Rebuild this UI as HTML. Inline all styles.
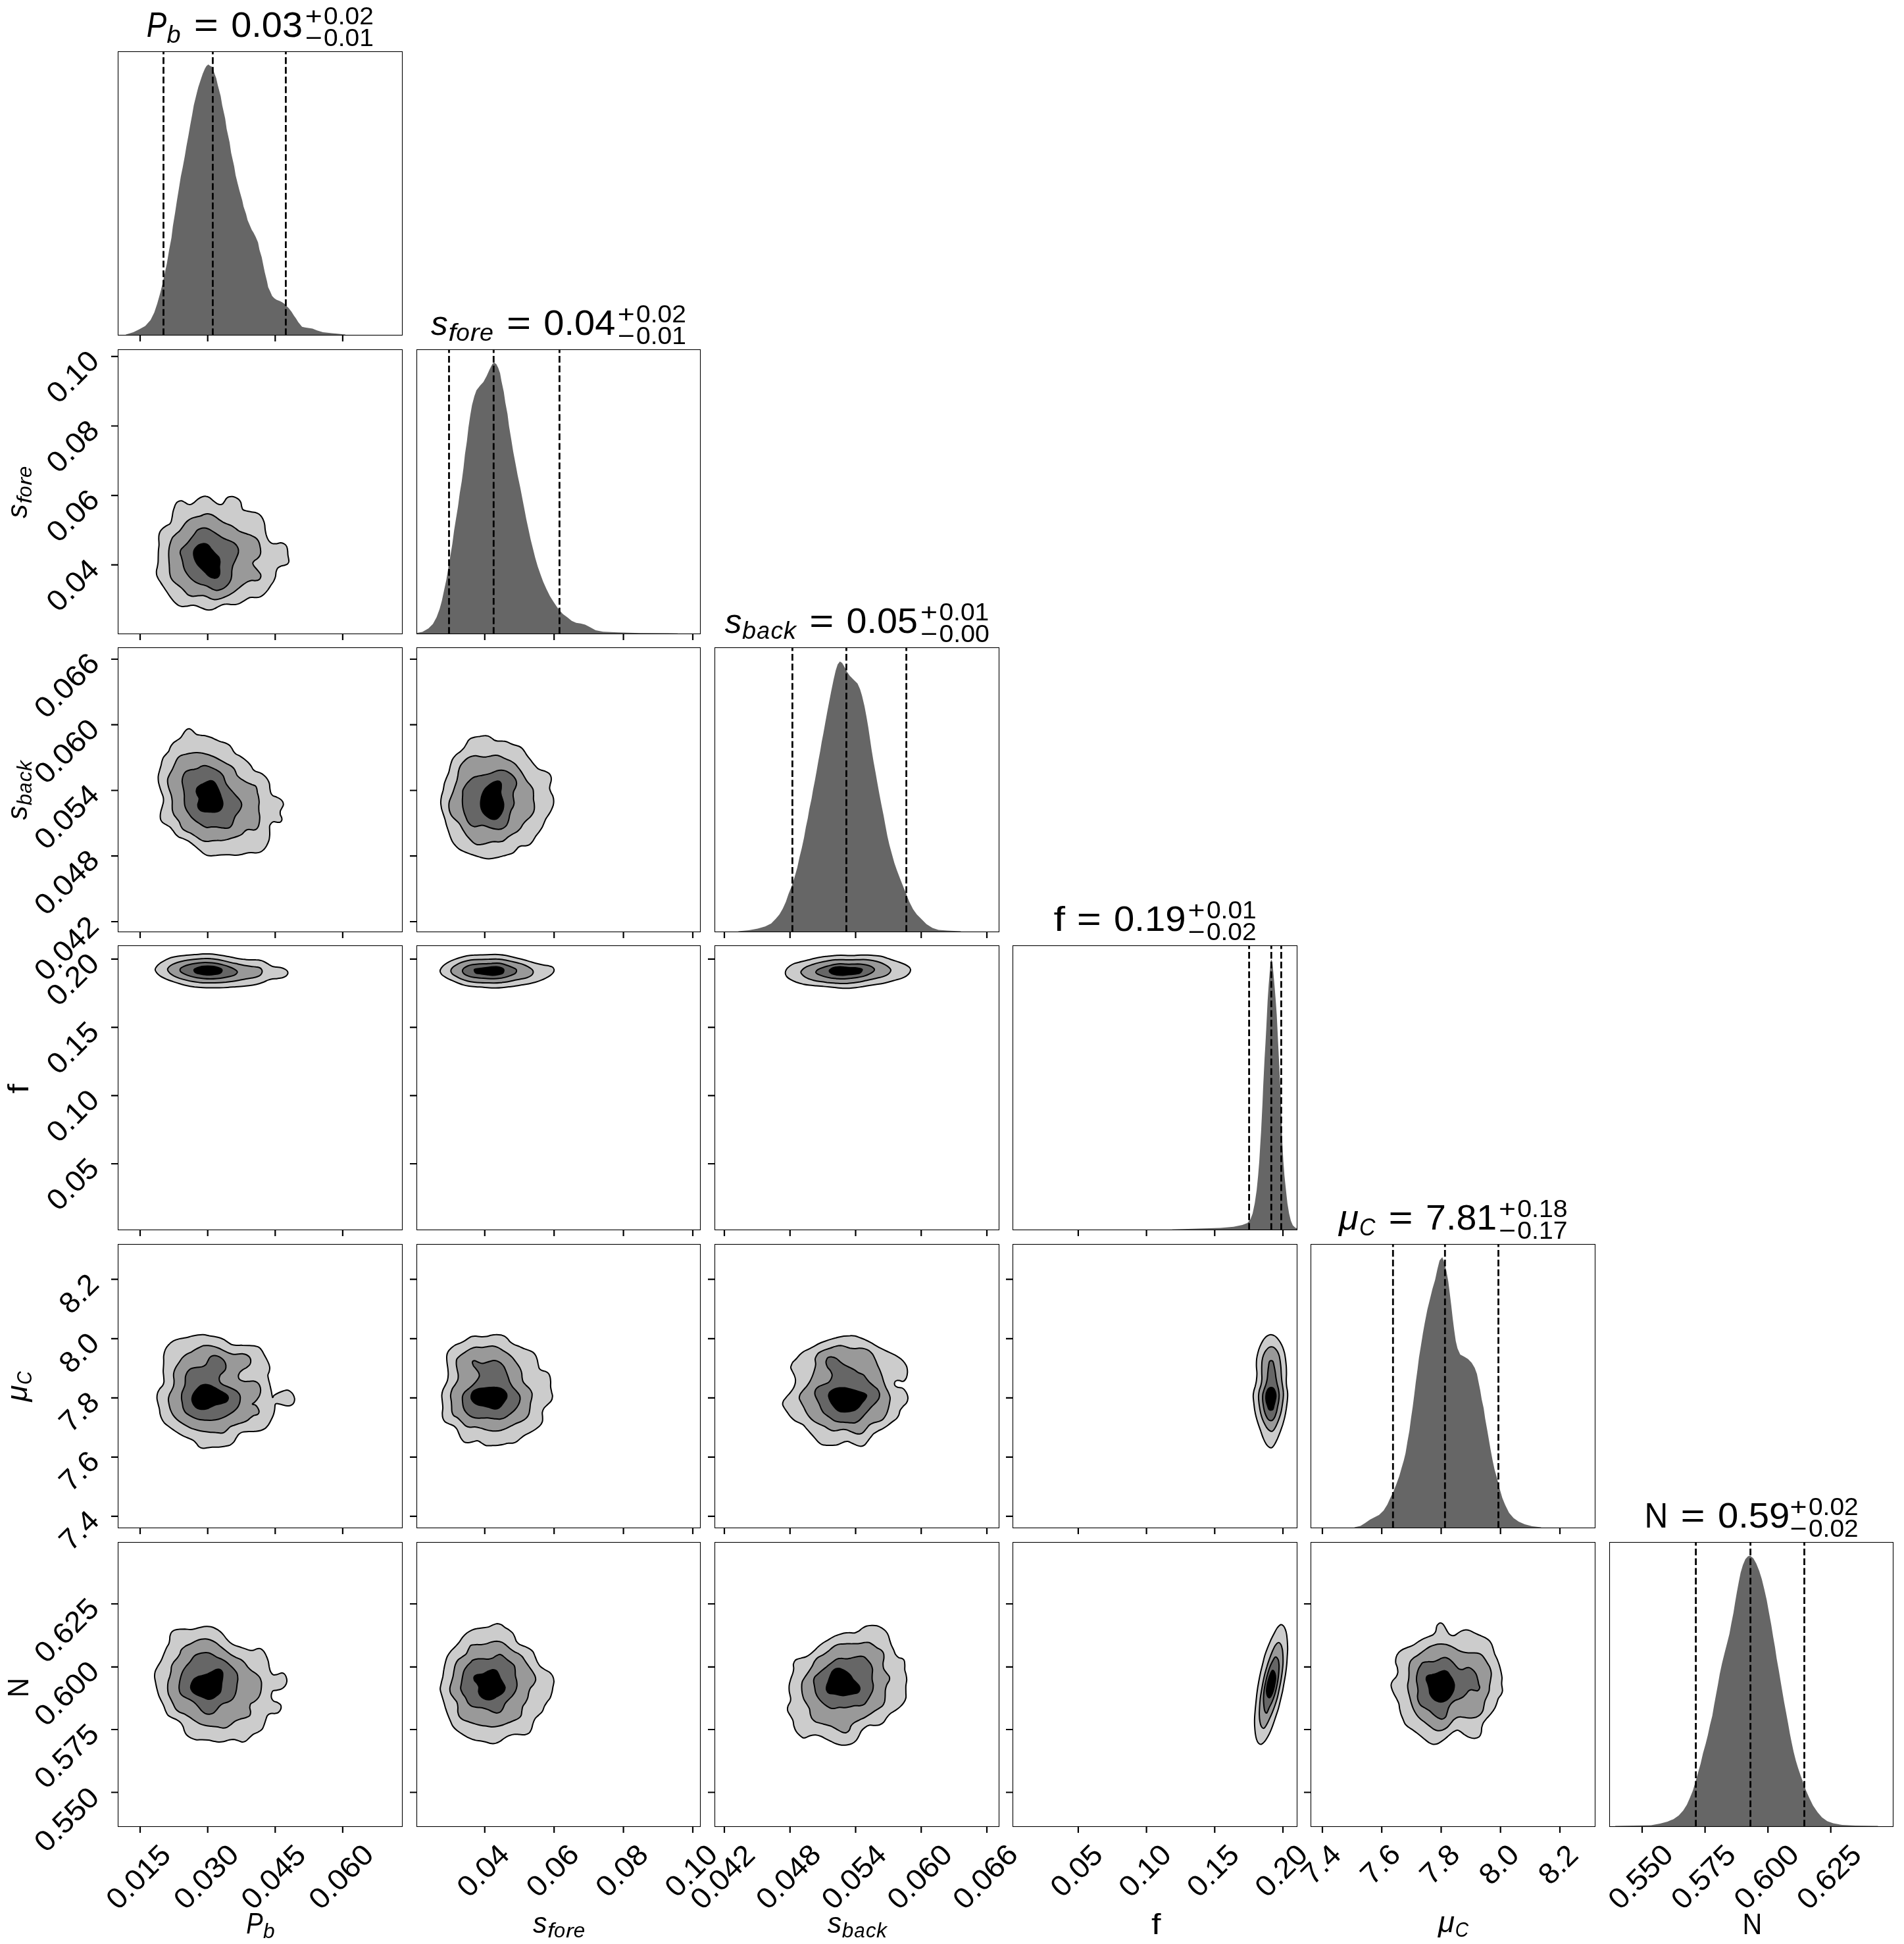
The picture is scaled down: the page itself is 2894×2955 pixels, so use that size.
<!DOCTYPE html>
<html><head><meta charset="utf-8"><title>corner plot</title>
<style>html,body{margin:0;padding:0;background:#fff}svg{display:block;will-change:transform}text{font-family:"Liberation Sans",sans-serif;fill:#000;}</style></head><body>
<svg width="2894" height="2955" viewBox="0 0 2894 2955">
<rect width="2894" height="2955" fill="#fff"/>
<g stroke="#000" stroke-width="2.0" stroke-linejoin="round">
<path d="M264.7,772.2C265.4,770.2 266,767.8 267,766.2C268,764.5 269.2,763.2 270.8,762.4C272.3,761.6 274.4,761.1 276.1,761.3C277.7,761.5 279.1,762.6 280.6,763.4C282.1,764.2 283.6,765.6 285.1,766.2C286.6,766.7 288,767.3 289.7,766.9C291.3,766.5 293.1,765.3 295,763.9C296.8,762.5 299,760 301,758.6C303,757.2 305,756 307.1,755.3C309.1,754.6 311.2,754.2 313.1,754.4C315,754.5 316.6,755.2 318.4,756.3C320.2,757.4 321.8,759.3 323.7,760.9C325.6,762.4 328,764.4 329.7,765.4C331.5,766.4 332.9,766.8 334.3,766.9C335.7,767 336.9,766.9 338.1,766.2C339.2,765.4 340.1,763.8 341.1,762.4C342.1,761 343,759 344.1,757.8C345.3,756.6 346.4,755.8 347.9,755.3C349.4,754.8 351.4,754.6 353.2,754.8C355,755 356.8,755.6 358.5,756.3C360.1,757.1 361.8,758.1 363,759.3C364.3,760.6 365.3,762.1 366.1,763.9C366.8,765.6 366.8,768.2 367.3,769.9C367.8,771.7 368,773.4 369.1,774.5C370.1,775.6 371.6,775.9 373.6,776.4C375.6,777 378.8,777.5 381.2,777.9C383.6,778.4 386,778.5 388,779C390,779.6 391.6,780.1 393.3,781.3C394.9,782.4 396.6,784.1 397.8,785.8C399.1,787.6 400.1,789.8 400.8,791.9C401.6,793.9 402,795.6 402.4,797.9C402.7,800.2 402.7,803 403.1,805.5C403.5,808 404,810.8 404.6,813C405.3,815.3 406,817.3 406.9,819.1C407.8,820.9 408.7,822.4 409.9,823.6C411.2,824.8 412.7,825.9 414.5,826.4C416.2,826.8 418.5,826.6 420.5,826.4C422.5,826.2 424.7,825.1 426.6,825.1C428.4,825.2 430.3,825.8 431.8,826.7C433.4,827.5 434.7,828.8 435.6,830.4C436.5,832.1 436.8,834.3 437.1,836.5C437.5,838.6 437.3,841.2 437.6,843.3C437.8,845.4 438.4,847.6 438.7,849.3C438.9,851.1 439.2,852.6 439,853.9C438.7,855.2 438.2,856.3 437.1,857.2C436.1,858.1 434.4,858.6 432.6,859.2C430.8,859.8 428.3,859.9 426.6,860.7C424.8,861.4 423.2,862.3 422,863.7C420.9,865.1 420.3,866.9 419.7,869C419.2,871.2 419.3,874.2 418.7,876.6C418.1,879 417.2,881.1 416,883.4C414.8,885.6 412.9,887.9 411.4,890.2C409.9,892.5 408.5,894.8 406.9,897C405.3,899.1 403.4,901.4 401.6,903C399.8,904.7 398.2,905.9 396.3,906.8C394.4,907.7 392.3,908.1 390.3,908.3C388.2,908.5 386,908 384.2,908C382.4,908 381.2,907.9 379.7,908.3C378.2,908.8 376.9,909.6 375.1,910.6C373.4,911.6 371,913.3 369.1,914.4C367.2,915.5 365.7,916.7 363.8,917.4C361.9,918.2 359.9,918.7 357.7,918.9C355.6,919.2 353.2,919.1 350.9,918.9C348.7,918.8 346.3,918.1 344.1,918.2C342,918.2 340,918.6 338.1,919.2C336.2,919.8 334.7,920.7 332.8,921.6C330.9,922.6 328.5,924.1 326.7,925C325,925.8 323.8,926.4 322.2,926.8C320.5,927.2 318.7,927.3 316.9,927.2C315.1,927.1 313.5,926.8 311.6,926.2C309.7,925.6 307.6,924.6 305.5,923.8C303.5,922.9 301.4,921.8 299.5,921.2C297.6,920.6 296,920.3 294.2,920.1C292.4,920 290.8,920.2 288.9,920.4C287,920.7 284.9,921.4 282.9,921.6C280.8,921.9 278.7,922.2 276.8,921.9C274.9,921.7 273.2,921.2 271.5,920.4C269.9,919.6 268.5,918.5 267,917.1C265.5,915.7 263.9,914 262.4,912.1C260.9,910.3 259.4,908.2 257.9,906.1C256.4,903.9 254.9,901.5 253.4,899.3C251.8,897 250.3,894.7 248.8,892.5C247.3,890.2 245.7,887.8 244.3,885.6C242.9,883.5 241.5,881.5 240.5,879.6C239.5,877.7 238.7,876.2 238.2,874.3C237.8,872.4 237.7,870.3 237.8,868.3C237.9,866.2 238.6,864.3 239,862.2C239.4,860.1 239.9,858 240.2,855.4C240.5,852.7 240.4,849.3 240.5,846.3C240.6,843.3 240.6,840.3 240.8,837.2C241,834.2 241.6,831.2 241.7,828.2C241.8,825.1 241.3,821.6 241.3,819.1C241.3,816.6 241.3,814.9 241.7,813C242.1,811.2 242.6,809.4 243.5,807.7C244.5,806.1 245.8,804.6 247.3,803.2C248.8,801.8 250.8,800.6 252.6,799.4C254.4,798.3 256.6,797.5 257.9,796.4C259.2,795.3 259.5,794.4 260.2,792.6C260.8,790.9 261.2,788.2 261.7,785.8C262.1,783.4 262.4,780.5 262.9,778.3C263.4,776 264,774.2 264.7,772.2Z" fill="#cccccc"/>
<path d="M285.9,791.1C287.6,789.8 289.7,788.6 291.9,787.6C294.2,786.7 297.2,786.1 299.5,785.5C301.8,784.9 303.8,784.6 305.5,784C307.3,783.4 308.4,782.5 310.1,782C311.7,781.5 313.6,781 315.4,781C317.1,781 318.8,781.4 320.7,782C322.6,782.7 324.7,783.8 326.7,785.1C328.7,786.3 330.8,788.2 332.8,789.6C334.8,791 336.8,792.5 338.8,793.7C340.8,794.8 342.9,795.6 344.9,796.4C346.9,797.2 348.9,797.7 350.9,798.7C352.9,799.7 355,801.1 357,802.5C359,803.8 361.1,805.9 363,807C364.9,808.1 366.3,808.5 368.3,809.3C370.3,810 372.7,810.7 375.1,811.5C377.5,812.4 380.4,813.2 382.7,814.3C385,815.3 387.1,816.3 388.7,817.6C390.4,818.9 391.5,820.4 392.5,822.1C393.5,823.9 394.2,825.4 394.8,828.2C395.4,830.9 396.3,836 396.3,838.8C396.3,841.5 395.7,843 394.8,844.8C393.9,846.6 392.4,848.1 391,849.3C389.6,850.6 387.6,851.2 386.5,852.4C385.3,853.5 384.3,854.9 384.2,856.2C384.1,857.4 384.8,858.5 385.7,859.9C386.6,861.3 388.2,863 389.5,864.5C390.8,866 392.1,867.5 393.3,869C394.4,870.5 395.8,872 396.3,873.5C396.8,875.1 396.5,876.8 396,878.1C395.5,879.4 394.5,880.7 393.3,881.4C392.1,882.2 390.5,882.5 388.7,882.6C387,882.8 384.7,882.1 382.7,882.3C380.7,882.6 378.7,883.2 376.6,884.1C374.6,885.1 372.9,886.3 370.6,887.9C368.3,889.6 365.5,891.9 363,894C360.5,896 358,898.3 355.5,900C352.9,901.8 350.4,903.2 347.9,904.6C345.4,905.9 342.9,907 340.3,908C337.8,909 335.2,910.1 332.8,910.6C330.4,911.2 328.1,911.5 326,911.4C323.8,911.2 321.8,910.6 319.9,909.8C318,909.1 316.5,907.9 314.6,907.1C312.7,906.4 310.8,905.6 308.6,905.3C306.3,905.1 303.5,905.4 301,905.6C298.5,905.8 295.6,906.6 293.4,906.5C291.3,906.5 289.7,905.9 288.2,905.3C286.6,904.7 285.8,904.3 284.4,903C283,901.8 281.5,899.5 279.8,897.7C278.2,896 276.6,894.2 274.5,892.5C272.5,890.7 269.7,888.8 267.7,887.2C265.7,885.5 263.8,884 262.4,882.3C261.1,880.7 260.2,879.3 259.4,877.3C258.7,875.4 258.2,873.2 257.9,870.5C257.6,867.9 257.6,864.5 257.4,861.4C257.3,858.4 257,855.6 256.8,852.4C256.7,849.1 256.3,845.1 256.4,841.8C256.4,838.5 256.6,835.7 257.1,832.7C257.6,829.7 258.5,826.3 259.4,823.6C260.3,821 261.1,818.8 262.4,816.8C263.8,814.8 266,813.2 267.7,811.5C269.5,809.9 271.4,808.8 273,807C274.7,805.2 276.2,802.8 277.6,800.9C278.9,799.1 280,797.3 281.3,795.6C282.7,794 284.1,792.4 285.9,791.1Z" fill="#999999"/>
<path d="M299.5,806.2C300.9,804.9 302.3,804.3 304,803.7C305.8,803 308.1,802.5 310.1,802.5C312.1,802.5 314.1,802.9 316.1,803.7C318.2,804.4 319.9,805.6 322.2,807C324.5,808.4 327.2,810.2 329.7,811.8C332.3,813.5 335,815.5 337.3,816.8C339.6,818.2 341.3,819 343.4,819.8C345.4,820.7 347.4,821.2 349.4,822.1C351.4,823 353.7,823.9 355.5,825.1C357.2,826.4 358.9,828 360,829.7C361.1,831.3 361.9,833.2 362.3,835C362.6,836.7 362.6,838.4 362.3,840.3C361.9,842.2 360.9,844.2 360,846.3C359.1,848.5 358,850.9 357,853.1C356,855.4 354.7,857.5 353.9,859.9C353.2,862.3 352.7,865 352.4,867.5C352.1,870 352.4,872.7 352.1,875.1C351.8,877.5 351.6,879.6 350.6,881.9C349.7,884.1 348.1,886.7 346.4,888.7C344.7,890.7 342.4,892.7 340.3,894C338.3,895.3 336.2,896 334.3,896.5C332.4,897.1 330.8,897.5 329,897.4C327.2,897.3 325.6,896.8 323.7,895.9C321.8,895.1 319.7,893.5 317.6,892.5C315.6,891.4 313.9,890.6 311.6,889.9C309.3,889.1 306.4,888.7 304,887.9C301.6,887.1 299.5,886.3 297.2,884.9C295,883.5 292.4,881.5 290.4,879.6C288.4,877.7 286.6,875.6 285.1,873.5C283.6,871.5 282.4,869.5 281.3,867.5C280.3,865.5 279.7,863.7 279.1,861.4C278.4,859.2 278.1,856.4 277.6,853.9C277,851.4 276.2,848.6 275.6,846.3C275,844.1 273.8,842.2 273.8,840.3C273.7,838.4 274.3,836.6 275.3,835C276.3,833.3 278.2,832.1 279.8,830.4C281.5,828.8 283.4,827.2 285.1,825.1C286.9,823.1 288.7,820.6 290.4,818.3C292.2,816.1 294.2,813.5 295.7,811.5C297.2,809.5 298.1,807.5 299.5,806.2Z" fill="#666666"/>
<path d="M298,831.9C299.2,830.7 300.9,829.1 302.5,828.2C304.2,827.2 306.1,826.6 307.8,826.4C309.6,826.1 311.5,826.1 313.1,826.7C314.7,827.2 316.3,828.3 317.6,829.7C319,831.1 320,833.2 321.4,835C322.8,836.7 324.5,838.6 326,840.3C327.5,841.9 329.3,843.5 330.5,844.8C331.7,846.1 332.4,846.3 333.1,847.8C333.7,849.3 334.2,851.6 334.3,853.9C334.4,856.2 333.6,858.9 333.5,861.4C333.5,864 334,867 334,869C334,871 334,872.2 333.5,873.5C333.1,874.9 332.3,876.4 331.3,877.3C330.3,878.2 329,878.7 327.5,878.8C326,879 323.9,878.7 322.2,878.1C320.4,877.5 318.7,876.4 316.9,875.1C315.1,873.7 313.4,871.5 311.6,869.8C309.8,868 308.1,866.2 306.3,864.5C304.5,862.7 302.5,861.1 301,859.2C299.5,857.3 298.2,855.1 297.2,853.1C296.2,851.1 295.5,849.1 295,847.1C294.5,845.1 294.2,842.9 294.2,841C294.3,839.1 294.6,837.2 295.3,835.7C295.9,834.2 296.8,833.2 298,831.9Z" fill="#000000"/>
<path d="M283.9,1108.9C285.1,1108.2 286.5,1107.7 287.7,1107.8C289,1108 290.3,1108.7 291.5,1109.7C292.8,1110.6 294,1112.3 295.3,1113.4C296.6,1114.6 297.3,1115.8 299.1,1116.5C300.8,1117.2 303.5,1117.3 305.9,1117.7C308.3,1118.1 310.9,1118.2 313.4,1118.7C316,1119.3 318.5,1120.1 321,1121C323.5,1122 326.3,1123.5 328.6,1124.5C330.8,1125.5 332.4,1126.3 334.6,1127.1C336.9,1127.9 339.9,1128.4 342.2,1129.3C344.5,1130.2 346.6,1131.1 348.2,1132.4C349.9,1133.6 350.9,1135.3 352,1136.9C353.2,1138.5 353.9,1140.6 355,1142.2C356.2,1143.7 357.2,1145.1 358.8,1146.3C360.5,1147.5 362.9,1148.1 364.9,1149.3C366.9,1150.5 368.9,1151.9 370.9,1153.5C372.9,1155.1 375.2,1157.1 377,1158.8C378.7,1160.6 380.3,1162.4 381.5,1164.1C382.8,1165.9 383.4,1168 384.5,1169.4C385.7,1170.8 386.6,1171.6 388.3,1172.4C390.1,1173.3 393,1173.7 395.1,1174.7C397.3,1175.7 399.3,1176.8 401.2,1178.5C403.1,1180.1 405.1,1182.4 406.5,1184.5C407.9,1186.7 408.9,1188.9 409.5,1191.3C410.1,1193.7 409.9,1196.5 410.3,1198.9C410.6,1201.3 411,1203.9 411.8,1205.7C412.5,1207.5 413.3,1208.5 414.8,1209.5C416.3,1210.5 418.9,1210.9 420.8,1211.8C422.7,1212.6 424.7,1213.7 426.1,1214.8C427.6,1215.9 428.9,1217.1 429.6,1218.6C430.4,1220 430.9,1221.8 430.7,1223.4C430.5,1225.1 429.2,1226.8 428.4,1228.4C427.6,1230 426.5,1231.3 426.1,1232.9C425.8,1234.6 425.8,1236.6 426.1,1238.2C426.5,1239.9 427.7,1241.4 428.1,1242.8C428.5,1244.2 428.7,1245.4 428.4,1246.6C428.1,1247.7 427.3,1249 426.1,1249.6C425,1250.2 423.2,1250.1 421.6,1250C420,1250 417.8,1248.9 416.3,1249.1C414.8,1249.3 413.6,1250 412.5,1251.1C411.5,1252.2 410.4,1253.7 409.9,1255.6C409.5,1257.5 409.9,1260 409.9,1262.4C409.9,1264.8 410.2,1267.5 409.9,1270C409.7,1272.5 409.6,1274.9 408.7,1277.6C407.9,1280.2 406.3,1283.5 405,1285.9C403.6,1288.3 402.1,1290.3 400.4,1291.9C398.8,1293.5 397,1294.7 395.1,1295.4C393.2,1296.2 391.3,1296.4 389.1,1296.5C386.8,1296.6 384,1295.9 381.5,1296C379,1296.1 376.5,1296.4 373.9,1296.9C371.4,1297.4 368.9,1298.5 366.4,1299C363.9,1299.5 361.3,1299.9 358.8,1299.9C356.3,1300 353.8,1299.6 351.3,1299.5C348.7,1299.4 346.2,1299.2 343.7,1299.2C341.2,1299.2 338.7,1299.3 336.1,1299.5C333.6,1299.7 331.1,1300 328.6,1300.3C326.1,1300.5 323.3,1301 321,1301C318.7,1301 316.8,1300.8 315,1300.3C313.1,1299.7 311.4,1298.7 309.7,1297.5C307.9,1296.3 306.3,1294.6 304.4,1293C302.5,1291.4 300.3,1289.5 298.3,1287.8C296.3,1286.2 294.3,1284.4 292.3,1282.9C290.3,1281.3 288.5,1279.7 286.2,1278.3C283.9,1277 281.1,1275.8 278.7,1274.8C276.3,1273.8 273.7,1273.3 271.8,1272.3C270,1271.2 268.8,1270.1 267.3,1268.5C265.8,1266.8 264.3,1264.3 262.8,1262.4C261.3,1260.5 260,1258.7 258.2,1257.1C256.5,1255.6 254.1,1254.5 252.2,1253.4C250.3,1252.2 248.2,1251.3 246.9,1250C245.6,1248.8 244.7,1247.5 244.2,1245.8C243.6,1244.1 243.5,1241.9 243.6,1239.7C243.6,1237.6 244.1,1235.2 244.6,1232.9C245.1,1230.7 246,1228.5 246.6,1226.1C247.2,1223.7 248.2,1221 248.4,1218.6C248.7,1216.2 248.6,1214.2 248.1,1211.8C247.6,1209.4 246.3,1206.8 245.4,1204.2C244.5,1201.6 243.4,1198.5 242.7,1195.9C241.9,1193.2 241.2,1191 240.8,1188.3C240.5,1185.7 240.3,1182.8 240.5,1180C240.8,1177.2 241.7,1174.3 242.4,1171.7C243,1169 244,1166.5 244.6,1164.1C245.3,1161.7 245.5,1159.5 246.1,1157.3C246.8,1155.2 247.3,1153.2 248.4,1151.3C249.5,1149.4 251.6,1147.6 252.9,1146C254.3,1144.3 255.7,1143.2 256.7,1141.4C257.7,1139.7 257.9,1137.4 259,1135.4C260.1,1133.4 261.9,1131 263.5,1129.3C265.2,1127.7 267.1,1126.8 268.8,1125.5C270.6,1124.3 272.6,1123.3 274.1,1121.8C275.6,1120.3 276.8,1118.1 277.9,1116.5C279,1114.8 279.9,1113.2 280.9,1111.9C281.9,1110.7 282.8,1109.6 283.9,1108.9Z" fill="#cccccc"/>
<path d="M271.1,1151.3C272.4,1150 273.6,1149.1 275.6,1148.2C277.6,1147.4 280.7,1146.8 283.2,1146.3C285.7,1145.7 288.2,1145.1 290.8,1144.8C293.3,1144.4 295.8,1144.1 298.3,1144C300.8,1143.9 303.4,1144.1 305.9,1144.5C308.4,1144.8 310.9,1145.6 313.4,1146.3C316,1147 318.5,1147.7 321,1148.7C323.5,1149.6 326.1,1150.8 328.6,1152C331.1,1153.3 333.6,1154.7 336.1,1156.1C338.7,1157.5 341.2,1158.9 343.7,1160.3C346.2,1161.7 349.2,1163 351.3,1164.4C353.3,1165.8 354.7,1167.2 355.8,1168.7C356.9,1170.1 357.3,1171.6 358.1,1173.2C358.8,1174.8 359.2,1176.8 360.3,1178.5C361.5,1180.1 363.1,1181.6 364.9,1183C366.6,1184.4 368.9,1185.6 370.9,1186.8C372.9,1188 375,1189.2 377,1190.1C379,1191.1 381.1,1191.8 383,1192.6C384.9,1193.3 387.1,1193.6 388.3,1194.7C389.5,1195.7 389.8,1197.2 390.3,1198.9C390.8,1200.6 390.9,1202.9 391.3,1205C391.8,1207 392.4,1208.7 392.9,1211C393.3,1213.3 393.8,1216.1 393.9,1218.6C394,1221.1 393.4,1223.6 393.3,1226.1C393.3,1228.7 393.4,1231.2 393.6,1233.7C393.9,1236.2 394.7,1238.7 394.8,1241.3C394.9,1243.8 394.7,1246.4 394.4,1248.8C394,1251.2 393.6,1253.7 392.9,1255.6C392.1,1257.5 391.1,1259.2 389.8,1260.2C388.6,1261.2 386.9,1261.6 385.3,1261.7C383.7,1261.8 381.6,1261 380,1260.9C378.4,1260.8 376.8,1260.7 375.5,1261.2C374.1,1261.7 373.1,1262.7 371.7,1263.9C370.3,1265.2 369,1267.2 367.1,1268.5C365.3,1269.7 362.7,1270.6 360.3,1271.5C357.9,1272.4 355.3,1273 352.8,1273.8C350.3,1274.5 347.7,1275.4 345.2,1276.1C342.7,1276.7 340.2,1277.3 337.6,1277.6C335.1,1277.8 332.6,1277.5 330.1,1277.6C327.6,1277.6 325,1277.8 322.5,1278C320,1278.3 317.2,1279 315,1279.1C312.7,1279.1 310.7,1278.8 308.9,1278.3C307.1,1277.8 305.9,1276.9 304.4,1276.1C302.9,1275.2 301.3,1274 299.8,1273C298.3,1272 297.1,1271.1 295.3,1270C293.5,1268.9 291.3,1267.3 289.2,1266.2C287.2,1265.2 285.1,1264.7 283.2,1263.6C281.3,1262.6 279.3,1261.5 277.9,1260.2C276.5,1258.8 275.8,1257.4 274.9,1255.6C274,1253.9 273.6,1251.5 272.6,1249.6C271.6,1247.7 270.2,1246.2 268.8,1244.3C267.4,1242.4 265.4,1240.4 264.3,1238.2C263.2,1236.1 262.4,1233.7 262,1231.4C261.6,1229.2 261.8,1227 261.7,1224.6C261.7,1222.2 261.9,1219.6 261.7,1217.1C261.5,1214.5 261.1,1211.9 260.5,1209.5C259.9,1207.1 259,1205 258.2,1202.7C257.5,1200.4 256.5,1198.2 256,1195.9C255.4,1193.6 254.9,1191.2 254.8,1189.1C254.6,1186.9 254.6,1185.2 255.2,1183C255.8,1180.9 257.1,1178.5 258.2,1176.2C259.4,1173.9 260.9,1171.7 262,1169.4C263.2,1167.1 264,1164.9 265,1162.6C266.1,1160.3 267.1,1157.7 268.1,1155.8C269.1,1153.9 269.8,1152.5 271.1,1151.3Z" fill="#999999"/>
<path d="M283.2,1172.4C284.7,1171.6 287.2,1170.7 289.2,1170.2C291.3,1169.7 293.4,1169.8 295.3,1169.4C297.2,1169 298.8,1168.7 300.6,1167.9C302.4,1167.1 304.1,1165.6 305.9,1164.9C307.6,1164.2 309.4,1163.8 311.2,1163.8C312.9,1163.8 314.6,1164.3 316.5,1164.9C318.4,1165.5 320.5,1166.6 322.5,1167.4C324.5,1168.3 326.6,1169.1 328.6,1170.2C330.6,1171.3 332.9,1172.4 334.6,1173.9C336.4,1175.5 338,1177.4 339.2,1179.2C340.3,1181.1 340.7,1183.3 341.4,1185.3C342.2,1187.3 342.7,1189.5 343.7,1191.3C344.7,1193.2 346,1194.7 347.5,1196.6C349,1198.5 350.9,1200.5 352.8,1202.7C354.7,1204.8 356.9,1207.4 358.8,1209.5C360.7,1211.6 362.8,1213.8 364.1,1215.5C365.5,1217.3 366.3,1218.4 366.8,1220.1C367.3,1221.7 367.5,1223.6 367.1,1225.4C366.8,1227.1 365.9,1228.9 364.9,1230.7C363.9,1232.4 362.4,1234.2 361.1,1236C359.8,1237.7 358.3,1239.4 357.3,1241.3C356.3,1243.2 355.8,1245.3 355,1247.3C354.3,1249.3 353.8,1251.6 352.8,1253.4C351.8,1255.1 350.5,1256.9 349,1257.9C347.5,1258.9 345.8,1259.1 343.7,1259.1C341.6,1259.2 338.7,1258.5 336.1,1258.2C333.6,1257.9 331.1,1257.3 328.6,1257.1C326.1,1257 323.3,1257 321,1257.1C318.7,1257.3 316.7,1258 315,1257.9C313.2,1257.8 312.2,1257.3 310.4,1256.4C308.7,1255.5 306.5,1254 304.4,1252.6C302.2,1251.2 299.7,1249.7 297.6,1248.1C295.4,1246.4 293.3,1244.7 291.5,1242.8C289.7,1240.9 288.4,1238.7 287,1236.7C285.6,1234.7 284.2,1232.7 283.2,1230.7C282.2,1228.7 281.4,1226.9 280.9,1224.6C280.4,1222.4 280.3,1219.6 280.2,1217.1C280,1214.5 280.3,1212 280.2,1209.5C280,1207 279.8,1204.5 279.4,1201.9C279,1199.4 278.3,1196.8 277.9,1194.4C277.5,1192 276.8,1189.8 276.8,1187.6C276.8,1185.3 277.3,1182.8 277.9,1180.8C278.5,1178.7 279.3,1176.8 280.2,1175.5C281.1,1174.1 281.7,1173.3 283.2,1172.4Z" fill="#666666"/>
<path d="M304.4,1193.6C305.9,1192.6 307.3,1192.2 308.9,1191.3C310.5,1190.5 312.4,1189.4 314.2,1188.6C316,1187.9 317.9,1187 319.5,1186.8C321.1,1186.6 322.8,1186.9 324,1187.6C325.3,1188.2 326.1,1189.2 327.1,1190.6C328.1,1192 329.1,1193.9 330.1,1195.9C331.1,1197.9 332.1,1200.2 333.1,1202.7C334.1,1205.2 335.3,1208.4 336.1,1211C337,1213.7 338,1216.3 338.4,1218.6C338.8,1220.8 338.8,1222.7 338.4,1224.6C338,1226.5 337.3,1228.5 336.1,1229.9C335,1231.4 333.4,1232.6 331.6,1233.4C329.8,1234.2 327.8,1234.3 325.5,1234.5C323.3,1234.6 320.5,1234.3 318,1234.2C315.5,1234 312.6,1234 310.4,1233.7C308.3,1233.4 306.6,1233.1 305.1,1232.2C303.7,1231.3 302.4,1229.9 301.6,1228.4C300.9,1226.9 300.5,1224.9 300.6,1223.1C300.7,1221.3 301.8,1219.5 302.1,1217.8C302.4,1216.2 302.9,1214.9 302.6,1213.3C302.2,1211.6 300.5,1209.7 299.8,1208C299.1,1206.2 298.3,1204.5 298.3,1202.7C298.3,1200.9 298.8,1198.9 299.8,1197.4C300.8,1195.9 302.9,1194.6 304.4,1193.6Z" fill="#000000"/>
<path d="M715.6,1122.4C717.3,1121.5 719.4,1120.9 721.7,1120.4C723.9,1119.9 726.7,1119.7 729.2,1119.4C731.8,1119 734.7,1118.2 736.8,1118.2C738.9,1118.1 740.5,1118.4 742.1,1118.9C743.7,1119.5 745.1,1120.5 746.6,1121.5C748.2,1122.5 749.5,1124.1 751.2,1125C752.8,1125.8 754.3,1126.2 756.5,1126.5C758.6,1126.7 761.8,1126.3 764,1126.5C766.3,1126.6 768.1,1126.9 770.1,1127.5C772.1,1128.2 774.1,1129.4 776.1,1130.3C778.2,1131.1 780,1131.8 782.2,1132.5C784.3,1133.2 787.1,1133.7 789,1134.5C790.9,1135.3 792.1,1136.2 793.5,1137.5C794.9,1138.8 796.1,1140.5 797.3,1142.4C798.6,1144.2 799.6,1146.3 801.1,1148.4C802.6,1150.5 804.5,1152.8 806.4,1155.2C808.3,1157.6 810.5,1160.6 812.4,1162.8C814.3,1165 816,1167 817.7,1168.4C819.5,1169.7 821.1,1170.1 823,1170.8C824.9,1171.5 827.2,1171.8 829.1,1172.6C831,1173.4 833,1174.4 834.4,1175.6C835.8,1176.9 836.8,1178.4 837.4,1180.2C838,1181.9 838,1184.2 837.8,1186.2C837.7,1188.2 836.7,1190.3 836.3,1192.3C835.9,1194.3 835.3,1196.3 835.4,1198.3C835.6,1200.3 836.6,1202.4 837.4,1204.4C838.2,1206.4 839.7,1208.3 840.4,1210.4C841.1,1212.6 841.6,1215 841.6,1217.2C841.7,1219.5 841.5,1221.8 840.9,1224C840.3,1226.3 839.2,1228.6 838.2,1230.8C837.1,1233.1 835.8,1235.4 834.4,1237.6C833,1239.9 831.1,1242.2 829.8,1244.5C828.6,1246.7 827.8,1249 826.8,1251.3C825.8,1253.5 825,1255.8 823.8,1258.1C822.5,1260.3 820.9,1262.6 819.2,1264.9C817.6,1267.1 815.6,1269.3 813.9,1271.7C812.3,1274.1 810.9,1277.2 809.4,1279.2C807.9,1281.3 806.6,1282.7 804.9,1283.8C803.1,1284.9 800.8,1285.4 798.8,1285.7C796.8,1286.1 794.5,1285.4 792.8,1285.7C791,1286.1 789.6,1286.6 788.2,1287.6C786.8,1288.6 785.8,1290.3 784.5,1291.8C783.1,1293.3 781.8,1295.2 779.9,1296.3C778,1297.5 775.5,1298.2 773.1,1298.9C770.7,1299.7 768.1,1300.2 765.5,1300.9C763,1301.6 760.5,1302.4 758,1303C755.5,1303.6 752.9,1304.1 750.4,1304.5C747.9,1304.9 745.4,1305.4 742.9,1305.4C740.3,1305.4 737.8,1305 735.3,1304.5C732.8,1304 730.3,1303.1 727.7,1302.4C725.2,1301.6 722.7,1300.8 720.2,1300C717.6,1299.1 715.1,1298.3 712.6,1297.4C710.1,1296.5 707.4,1295.5 705,1294.4C702.6,1293.3 700.4,1292.4 698.2,1290.9C696.1,1289.4 693.9,1287.2 692.2,1285.3C690.4,1283.4 688.9,1281.4 687.6,1279.2C686.4,1277.1 685.6,1275.1 684.6,1272.4C683.6,1269.8 682.6,1266.4 681.6,1263.4C680.6,1260.3 679.5,1257.3 678.6,1254.3C677.7,1251.3 677.2,1248.2 676.3,1245.2C675.4,1242.2 674.2,1238.9 673.3,1236.1C672.4,1233.4 671.6,1231.3 671,1228.6C670.5,1225.8 669.9,1222.5 669.9,1219.5C669.9,1216.5 670.4,1213.4 671,1210.4C671.6,1207.4 672.8,1204.6 673.6,1201.3C674.3,1198.1 674.7,1193.9 675.5,1190.8C676.4,1187.6 677.5,1185.2 678.6,1182.4C679.7,1179.7 681,1177.3 682.1,1174.1C683.1,1171 683.7,1166.8 684.6,1163.5C685.6,1160.3 686.3,1157.1 687.6,1154.5C689,1151.8 690.9,1149.7 692.9,1147.6C695,1145.6 697.7,1144.1 699.7,1142.4C701.8,1140.6 703.5,1138.9 705,1137.1C706.6,1135.2 707.7,1132.9 708.8,1131C710,1129.1 710.7,1127.2 711.8,1125.7C713,1124.3 714,1123.3 715.6,1122.4Z" fill="#cccccc"/>
<path d="M711.1,1152.2C713.2,1150.7 715.1,1150.2 717.1,1149.6C719.2,1149 720.9,1148.6 723.2,1148.7C725.5,1148.8 728.2,1149.9 730.8,1150.2C733.3,1150.5 735.8,1150.8 738.3,1150.7C740.8,1150.5 743.4,1149.6 745.9,1149.2C748.4,1148.7 751.2,1148.1 753.4,1148.1C755.7,1148.1 757.5,1148.5 759.5,1149.2C761.5,1149.8 763.5,1151.3 765.5,1152.2C767.6,1153.1 769.6,1153.9 771.6,1154.8C773.6,1155.6 775.8,1156.4 777.6,1157.5C779.5,1158.6 781.3,1159.7 782.9,1161.3C784.6,1162.8 786,1164.7 787.5,1166.6C789,1168.4 790.5,1170.3 792,1172.6C793.5,1174.9 795,1177.6 796.6,1180.2C798.1,1182.7 799.5,1185.5 801.1,1187.7C802.7,1190 804.9,1191.8 806.4,1193.8C807.9,1195.8 809.4,1197.6 810.2,1199.8C810.9,1202.1 810.8,1204.9 810.9,1207.4C811.1,1209.9 810.7,1212.4 810.9,1215C811.1,1217.5 811.9,1220 812.1,1222.5C812.3,1225 812.5,1227.8 812.1,1230.1C811.8,1232.4 811.3,1234.1 810.2,1236.1C809.1,1238.2 807.4,1240.3 805.6,1242.2C803.9,1244.1 801.3,1245.7 799.6,1247.5C797.8,1249.2 796.4,1250.9 795,1252.8C793.7,1254.7 792.8,1256.9 791.3,1258.8C789.7,1260.7 788,1262.6 786,1264.1C783.9,1265.6 781.3,1266.6 779.2,1267.9C777,1269.2 774.9,1270.4 773.1,1271.7C771.3,1272.9 770.1,1274.3 768.6,1275.5C767.1,1276.6 765.8,1278.1 764,1278.8C762.3,1279.5 760,1279.6 758,1279.7C756,1279.8 753.9,1279.2 751.9,1279.2C749.9,1279.3 748.2,1279.5 745.9,1280C743.6,1280.5 740.8,1281.6 738.3,1282.3C735.8,1282.9 733,1283.5 730.8,1283.8C728.5,1284 726.6,1284.3 724.7,1283.8C722.8,1283.3 721.2,1282.1 719.4,1280.8C717.6,1279.4 715.9,1277.4 714.1,1275.5C712.4,1273.6 710.6,1271.8 708.8,1269.4C707.1,1267 705.3,1264 703.5,1261.1C701.8,1258.2 700.1,1254.5 698.2,1252C696.3,1249.5 694.1,1247.9 692.2,1246C690.3,1244.1 688.3,1242.6 686.9,1240.7C685.5,1238.8 684.6,1236.8 683.9,1234.6C683.1,1232.5 682.6,1230.3 682.4,1227.8C682.2,1225.3 682.2,1222.1 682.7,1219.5C683.2,1216.8 684.4,1214.5 685.4,1211.9C686.3,1209.4 687.4,1207.1 688.4,1204.4C689.4,1201.6 690.4,1198.3 691.4,1195.3C692.4,1192.3 693.7,1189 694.5,1186.2C695.2,1183.4 695.5,1181.2 696,1178.7C696.4,1176.1 696.5,1173.5 697.2,1171.1C697.8,1168.7 698.6,1166.4 699.7,1164.3C700.9,1162.1 702.4,1160.3 704.3,1158.2C706.2,1156.2 708.9,1153.6 711.1,1152.2Z" fill="#999999"/>
<path d="M718.7,1182.4C720.9,1180.9 722.4,1180.8 724.7,1180.2C727,1179.5 729.7,1179.2 732.3,1178.7C734.8,1178.2 737.3,1177.8 739.8,1177.1C742.4,1176.5 744.9,1175.8 747.4,1174.9C749.9,1174 752.7,1172.5 755,1171.8C757.2,1171.2 759,1170.9 761,1170.8C763,1170.7 765,1170.8 767.1,1171.4C769.1,1171.9 771.1,1172.9 773.1,1174.1C775.1,1175.3 777.4,1176.9 779.2,1178.7C780.9,1180.4 782.7,1182.7 783.7,1184.7C784.7,1186.7 785.2,1188.7 785.2,1190.8C785.2,1192.8 784.5,1194.8 783.7,1196.8C782.9,1198.8 781.3,1200.8 780.7,1202.9C780,1204.9 779.9,1206.9 779.9,1208.9C779.9,1210.9 780.4,1212.9 780.7,1215C780.9,1217 781.6,1219.1 781.4,1221C781.3,1222.9 780.7,1224.5 779.9,1226.3C779.2,1228.1 777.8,1229.5 776.9,1231.6C776,1233.7 775.3,1236.6 774.6,1239.2C774,1241.7 773.9,1244.2 773.1,1246.7C772.4,1249.2 771.3,1252.3 770.1,1254.3C768.8,1256.3 767.3,1257.5 765.5,1258.5C763.8,1259.6 761.5,1260.3 759.5,1260.6C757.5,1260.9 755.7,1260.7 753.4,1260.3C751.2,1260 748.4,1259.3 745.9,1258.5C743.4,1257.8 740.6,1256.5 738.3,1255.8C736.1,1255.1 734.3,1254.6 732.3,1254.6C730.3,1254.6 728.1,1255.5 726.2,1255.8C724.3,1256.1 722.7,1256.8 720.9,1256.6C719.2,1256.3 717.3,1255.5 715.6,1254.3C714,1253 712.4,1251 711.1,1249C709.8,1247 709,1244.6 708.1,1242.2C707.1,1239.8 706.1,1237.1 705.3,1234.6C704.6,1232.1 704,1229.8 703.5,1227.1C703.1,1224.3 702.8,1221 702.8,1218C702.7,1215 703.1,1211.7 703.2,1208.9C703.4,1206.1 703,1203.6 703.5,1201.3C704.1,1199.1 705.3,1197.3 706.6,1195.3C707.8,1193.3 709.1,1191.4 711.1,1189.2C713.1,1187.1 716.4,1183.9 718.7,1182.4Z" fill="#666666"/>
<path d="M745.9,1191.5C747.4,1190.5 748.9,1189.6 750.4,1188.9C751.9,1188.3 753.4,1187.6 755,1187.4C756.5,1187.3 758.4,1187.4 759.5,1188C760.6,1188.7 761.4,1189.8 761.8,1191.5C762.1,1193.2 761.9,1196.2 761.8,1198.3C761.6,1200.5 760.9,1202.4 761,1204.4C761.1,1206.4 761.7,1208.4 762.2,1210.4C762.8,1212.4 763.8,1214.5 764.3,1216.5C764.9,1218.5 765.5,1220.3 765.5,1222.5C765.6,1224.8 765.4,1227.7 764.8,1230.1C764.2,1232.5 763,1234.7 761.8,1236.9C760.5,1239 758.9,1241.5 757.2,1242.9C755.6,1244.4 753.8,1245.3 751.9,1245.5C750,1245.8 747.9,1245.3 745.9,1244.5C743.9,1243.6 741.7,1242.2 739.8,1240.7C737.9,1239.2 735.9,1237.3 734.5,1235.4C733.2,1233.5 732.2,1231.5 731.5,1229.3C730.8,1227.2 730.5,1224.9 730.5,1222.5C730.4,1220.1 730.6,1217.5 731.1,1215C731.5,1212.4 732.1,1209.9 733,1207.4C734,1204.9 735.4,1201.8 736.8,1199.8C738.2,1197.8 739.8,1196.7 741.3,1195.3C742.9,1193.9 744.4,1192.6 745.9,1191.5Z" fill="#000000"/>
<path d="M235.8,1473.8C235.8,1472.1 236.9,1470.5 238.3,1468.8C239.6,1467.1 241.7,1465.3 243.9,1463.7C246.2,1462.2 248.8,1460.7 251.5,1459.3C254.2,1458 257.2,1456.5 260.3,1455.5C263.5,1454.6 266.6,1454 270.4,1453.4C274.2,1452.8 278.8,1452.5 283,1452.1C287.2,1451.8 291.4,1451.5 295.6,1451.1C299.8,1450.8 304.5,1450.3 308.2,1450.1C312,1449.9 315,1450 318.3,1450.1C321.7,1450.2 325,1450.5 328.4,1450.9C331.8,1451.3 335.1,1451.8 338.5,1452.4C341.8,1453 345.2,1453.6 348.6,1454.3C351.9,1454.9 355.3,1455.8 358.7,1456.4C362,1457.1 365.4,1457.6 368.7,1458.1C372.1,1458.5 375.5,1458.9 378.8,1459.1C382.2,1459.2 386,1458.9 388.9,1459.1C391.8,1459.2 394.2,1459.4 396.5,1459.9C398.8,1460.5 400.7,1461.4 402.8,1462.5C404.9,1463.5 407.2,1465.2 409.1,1466.3C411,1467.3 412.2,1468.4 414.1,1469C416,1469.7 418.3,1469.8 420.4,1470C422.5,1470.3 424.6,1470.1 426.7,1470.7C428.8,1471.2 431.3,1472.2 433,1473.2C434.7,1474.1 436.1,1475.2 436.8,1476.3C437.5,1477.5 437.8,1478.9 437.4,1480.1C437.1,1481.3 436.3,1482.6 434.9,1483.6C433.6,1484.7 431.4,1485.5 429.2,1486.2C427,1486.8 424.2,1487.1 421.7,1487.4C419.2,1487.7 416.4,1487.6 414.1,1487.9C411.8,1488.3 409.9,1488.8 407.8,1489.6C405.7,1490.3 403.8,1491.5 401.5,1492.5C399.2,1493.4 396.9,1494.4 393.9,1495.2C391,1496.1 387.6,1496.9 383.9,1497.5C380.1,1498.1 375.5,1498.6 371.3,1499C367.1,1499.4 362.9,1499.7 358.7,1500C354.5,1500.3 350.3,1500.7 346.1,1500.9C341.8,1501.2 337.6,1501.4 333.4,1501.5C329.2,1501.7 325,1501.6 320.8,1501.5C316.6,1501.5 312.4,1501.5 308.2,1501.3C304,1501.1 299.8,1500.8 295.6,1500.3C291.4,1499.7 286.8,1498.9 283,1498C279.2,1497.2 276.3,1496.2 272.9,1495.2C269.6,1494.3 266.2,1493.2 262.9,1492.1C259.5,1490.9 255.9,1489.7 252.8,1488.3C249.6,1486.9 246.4,1485.5 243.9,1483.9C241.5,1482.3 239.6,1480.5 238.3,1478.9C236.9,1477.2 235.8,1475.5 235.8,1473.8Z" fill="#cccccc"/>
<path d="M254.7,1473.8C254.6,1472.2 255.8,1470.8 257.2,1469.4C258.6,1468 260.7,1466.7 262.9,1465.6C265.1,1464.5 267.5,1463.6 270.4,1462.7C273.4,1461.8 277.1,1460.9 280.5,1460.2C283.9,1459.5 287.2,1459.1 290.6,1458.7C293.9,1458.3 297.3,1458 300.7,1457.7C304,1457.4 307.4,1457.1 310.8,1457.1C314.1,1457 317.5,1456.9 320.8,1457.2C324.2,1457.4 327.6,1457.9 330.9,1458.4C334.3,1459 337.6,1459.8 341,1460.6C344.4,1461.4 347.7,1462.3 351.1,1463.1C354.5,1463.9 357.8,1464.5 361.2,1465.2C364.5,1466 367.9,1466.9 371.3,1467.5C374.6,1468.1 378.4,1468.6 381.3,1469C384.3,1469.4 386.7,1469.4 388.9,1469.8C391.1,1470.1 393.1,1470.4 394.6,1471C396.1,1471.7 397.1,1472.7 397.7,1473.8C398.4,1474.9 398.6,1476.3 398.4,1477.6C398.2,1478.9 397.6,1480.2 396.5,1481.4C395.3,1482.5 393.5,1483.7 391.4,1484.5C389.3,1485.4 386.8,1485.9 383.9,1486.4C380.9,1487 377.1,1487.3 373.8,1487.9C370.4,1488.5 367.1,1489.3 363.7,1489.9C360.3,1490.6 357,1491.2 353.6,1491.7C350.3,1492.2 346.9,1492.6 343.5,1493C340.2,1493.3 336.8,1493.6 333.4,1493.7C330.1,1493.9 326.7,1493.9 323.4,1494C320,1494 316.6,1494.1 313.3,1494C309.9,1493.9 306.6,1493.7 303.2,1493.4C299.8,1493 296.5,1492.7 293.1,1492.1C289.7,1491.5 286.4,1490.8 283,1489.9C279.7,1489.1 276.1,1488.2 272.9,1487.1C269.8,1485.9 266.6,1484.6 264.1,1483.3C261.6,1481.9 259.4,1480.4 257.8,1478.9C256.2,1477.3 254.8,1475.4 254.7,1473.8Z" fill="#999999"/>
<path d="M273.6,1473.8C273.8,1472.7 274.5,1471.7 276.1,1470.7C277.7,1469.6 280.4,1468.4 283,1467.5C285.7,1466.6 288.7,1465.9 291.8,1465.2C295,1464.6 298.6,1464.1 301.9,1463.7C305.3,1463.4 308.7,1463.1 312,1463.1C315.4,1463.1 318.9,1463.2 322.1,1463.5C325.3,1463.8 328,1464.2 330.9,1464.7C333.9,1465.3 336.8,1466 339.7,1466.9C342.7,1467.7 345.8,1468.7 348.6,1469.8C351.3,1470.8 354.1,1472.1 356.1,1473.2C358.1,1474.3 359.9,1475.5 360.5,1476.6C361.2,1477.6 360.7,1478.5 359.9,1479.5C359.2,1480.5 358,1481.5 356.1,1482.4C354.2,1483.2 351.3,1483.9 348.6,1484.5C345.8,1485.2 342.9,1485.7 339.7,1486.2C336.6,1486.7 333,1487.1 329.7,1487.4C326.3,1487.7 322.9,1487.9 319.6,1487.9C316.2,1487.9 312.9,1487.7 309.5,1487.4C306.1,1487.1 302.8,1486.8 299.4,1486.2C296.1,1485.6 292.5,1484.8 289.3,1483.9C286.2,1483 282.9,1481.8 280.5,1480.7C278.1,1479.7 276,1478.5 274.8,1477.3C273.7,1476.2 273.4,1474.9 273.6,1473.8Z" fill="#666666"/>
<path d="M295,1473.8C295.4,1472.7 297.4,1472.1 299.4,1471.3C301.4,1470.5 304.2,1469.5 307,1469C309.7,1468.6 312.9,1468.5 315.8,1468.5C318.7,1468.5 321.9,1468.6 324.6,1469C327.4,1469.4 330.1,1470.3 332.2,1471C334.3,1471.8 336.4,1472.6 337.2,1473.6C338,1474.6 337.5,1476 337,1477C336.4,1478 335.7,1478.8 334.1,1479.5C332.4,1480.2 329.8,1480.7 327.1,1481.1C324.5,1481.5 321.3,1482 318.3,1482C315.4,1482.1 312.2,1481.7 309.5,1481.4C306.8,1481.1 304,1480.6 301.9,1480.1C299.8,1479.6 298,1479.3 296.9,1478.2C295.7,1477.2 294.6,1475 295,1473.8Z" fill="#000000"/>
<path d="M668.9,1476.3C668.8,1474.7 669.6,1473 670.8,1471.3C672,1469.6 673.8,1467.8 675.8,1466.3C677.8,1464.7 680.1,1463.2 682.8,1461.8C685.4,1460.5 688.7,1459.2 691.6,1458.1C694.5,1456.9 697.5,1456 700.4,1455.2C703.4,1454.3 705.9,1453.6 709.2,1453C712.6,1452.4 716.6,1452 720.6,1451.8C724.6,1451.5 729,1451.5 733.2,1451.4C737.4,1451.2 741.8,1451 745.8,1450.9C749.8,1450.8 753.6,1450.7 757.1,1450.9C760.7,1451.1 763.9,1451.6 767.2,1452.1C770.6,1452.7 773.9,1453.5 777.3,1454.3C780.7,1455.1 784,1456 787.4,1456.8C790.8,1457.6 794.1,1458.4 797.5,1459.3C800.8,1460.2 804.2,1461.3 807.6,1462.2C810.9,1463.2 814.5,1464.2 817.6,1465C820.8,1465.8 823.7,1466.4 826.5,1466.9C829.2,1467.4 831.8,1467.6 834,1468.1C836.2,1468.7 838.3,1469.1 839.7,1470C841.1,1471 842,1472.4 842.2,1473.8C842.4,1475.2 841.9,1476.8 841,1478.2C840,1479.7 838.3,1481.3 836.6,1482.6C834.8,1484 832.6,1485.2 830.3,1486.4C827.9,1487.6 825.4,1488.9 822.7,1489.9C820,1491 817,1492.1 813.9,1493C810.7,1493.9 807.1,1494.8 803.8,1495.5C800.4,1496.2 797.1,1496.6 793.7,1497.1C790.3,1497.7 787,1498.3 783.6,1498.8C780.3,1499.3 776.9,1499.6 773.5,1500C770.2,1500.5 766.8,1501 763.4,1501.3C760.1,1501.6 756.7,1501.8 753.4,1501.8C750,1501.8 746.6,1501.8 743.3,1501.5C739.9,1501.3 736.6,1500.8 733.2,1500.5C729.8,1500.3 726.5,1500.3 723.1,1500C719.7,1499.8 716.2,1499.5 713,1499C709.9,1498.5 707.1,1498 704.2,1497.1C701.3,1496.3 698.3,1495.1 695.4,1494C692.4,1492.8 689.5,1491.6 686.6,1490.2C683.6,1488.8 680.3,1487.3 677.7,1485.8C675.2,1484.3 672.9,1483 671.4,1481.4C670,1479.8 669,1478 668.9,1476.3Z" fill="#cccccc"/>
<path d="M685.3,1475.7C685.4,1474.1 686.3,1472.2 687.8,1470.7C689.3,1469.1 691.8,1467.6 694.1,1466.3C696.4,1464.9 698.9,1463.7 701.7,1462.7C704.4,1461.7 707.4,1460.9 710.5,1460.2C713.7,1459.5 717,1459 720.6,1458.7C724.2,1458.4 728.2,1458.5 731.9,1458.4C735.7,1458.3 739.5,1458.2 743.3,1458.1C747.1,1457.9 751.3,1457.6 754.6,1457.7C758,1457.7 760.5,1458 763.4,1458.4C766.4,1458.9 769.3,1459.6 772.3,1460.2C775.2,1460.8 778.2,1461.5 781.1,1462.2C784,1462.9 787,1463.5 789.9,1464.4C792.9,1465.2 796.1,1466.4 798.7,1467.5C801.4,1468.7 803.8,1470 805.7,1471.3C807.5,1472.6 809.1,1473.7 809.8,1475.1C810.6,1476.4 810.6,1478.1 810.1,1479.5C809.6,1480.9 808.5,1482.2 806.9,1483.3C805.4,1484.4 803.3,1485.3 800.6,1486.2C798,1487 794.4,1487.6 791.2,1488.3C787.9,1489 784.5,1489.5 781.1,1490.2C777.7,1490.9 774.4,1491.9 771,1492.5C767.6,1493.1 764.3,1493.4 760.9,1493.7C757.6,1494 754.2,1494.2 750.8,1494.2C747.5,1494.3 744.1,1494.1 740.8,1494C737.4,1493.9 734,1493.9 730.7,1493.7C727.3,1493.6 723.9,1493.4 720.6,1493C717.2,1492.6 713.9,1492.1 710.5,1491.2C707.1,1490.4 703.4,1489.2 700.4,1487.9C697.5,1486.7 695.1,1485.2 692.9,1483.9C690.7,1482.6 688.4,1481.5 687.2,1480.1C685.9,1478.8 685.2,1477.3 685.3,1475.7Z" fill="#999999"/>
<path d="M702.9,1476.3C702.8,1474.9 703.6,1473.2 704.8,1471.9C706.1,1470.6 708.3,1469.5 710.5,1468.5C712.7,1467.6 715.1,1466.8 718.1,1466.3C721,1465.7 724.8,1465.5 728.2,1465.2C731.5,1465 735.1,1465.1 738.2,1465C741.4,1464.8 744.1,1464.5 747.1,1464.4C750,1464.2 753.2,1463.9 755.9,1464C758.6,1464.1 760.9,1464.4 763.4,1465C766,1465.6 768.5,1466.6 771,1467.5C773.5,1468.4 776.4,1469.3 778.6,1470.3C780.8,1471.2 783.2,1472.1 784.2,1473.2C785.3,1474.3 785.2,1475.8 784.9,1477C784.6,1478.1 783.8,1479.1 782.4,1480.1C780.9,1481.1 778.4,1482 776.1,1482.9C773.7,1483.8 771.2,1484.7 768.5,1485.4C765.8,1486.1 762.6,1486.7 759.7,1487.1C756.7,1487.4 754,1487.6 750.8,1487.7C747.7,1487.7 744.1,1487.6 740.8,1487.4C737.4,1487.3 734,1486.9 730.7,1486.7C727.3,1486.4 723.7,1486.3 720.6,1485.8C717.4,1485.3 714.3,1484.6 711.8,1483.6C709.2,1482.7 706.9,1481.6 705.5,1480.4C704,1479.2 703,1477.7 702.9,1476.3Z" fill="#666666"/>
<path d="M721.2,1473.6C722.3,1472.7 725.3,1472.7 728.2,1472.3C731,1471.9 735.1,1471.5 738.2,1471C741.4,1470.6 744.3,1470.1 747.1,1469.8C749.8,1469.5 752.3,1469.3 754.6,1469.4C756.9,1469.6 759.1,1470 760.9,1470.7C762.7,1471.3 764.6,1472 765.3,1473.2C766.1,1474.3 765.8,1476.4 765.3,1477.6C764.9,1478.8 764.2,1479.4 762.8,1480.1C761.4,1480.8 759.6,1481.2 757.1,1481.6C754.7,1482.1 751.3,1482.7 748.3,1482.6C745.4,1482.6 742.2,1481.8 739.5,1481.4C736.8,1481 734.5,1480.7 731.9,1480.4C729.4,1480.1 726.1,1479.9 724.4,1479.5C722.7,1479 722.4,1478.6 721.8,1477.6C721.3,1476.6 720.2,1474.4 721.2,1473.6Z" fill="#000000"/>
<path d="M1193.7,1479.5C1193.6,1477.7 1194.1,1475.6 1195.2,1473.8C1196.3,1472 1198.2,1470.1 1200.3,1468.5C1202.4,1466.9 1204.9,1465.5 1207.8,1464.4C1210.8,1463.2 1214.5,1462.7 1217.9,1461.8C1221.3,1461 1224.6,1460.2 1228,1459.3C1231.3,1458.5 1234.7,1457.6 1238.1,1456.8C1241.4,1456 1244.8,1455.2 1248.2,1454.7C1251.5,1454.1 1254.9,1453.8 1258.2,1453.4C1261.6,1453 1265,1452.6 1268.3,1452.4C1271.7,1452.2 1275,1452.1 1278.4,1452.1C1281.8,1452.1 1285.1,1452.3 1288.5,1452.4C1291.8,1452.4 1295.2,1452.5 1298.6,1452.4C1301.9,1452.3 1305.3,1451.9 1308.7,1451.8C1312,1451.7 1315.4,1451.7 1318.7,1451.8C1322.1,1451.9 1325.5,1452.1 1328.8,1452.4C1332.2,1452.7 1335.8,1453 1338.9,1453.6C1342.1,1454.3 1344.8,1455.2 1347.7,1456.2C1350.7,1457.1 1353.4,1458.3 1356.6,1459.3C1359.7,1460.4 1363.5,1461.4 1366.6,1462.5C1369.8,1463.6 1372.9,1464.7 1375.5,1466C1378,1467.3 1380.3,1468.7 1381.8,1470C1383.2,1471.3 1383.9,1472.3 1384,1473.8C1384.1,1475.3 1383.4,1477.3 1382.4,1478.9C1381.4,1480.4 1380,1481.9 1378,1483.3C1376,1484.6 1373.2,1486 1370.4,1487.1C1367.7,1488.1 1364.7,1488.7 1361.6,1489.6C1358.4,1490.5 1354.9,1491.6 1351.5,1492.5C1348.2,1493.4 1344.8,1494.3 1341.4,1495C1338.1,1495.7 1334.7,1496 1331.3,1496.5C1328,1497 1324.6,1497.5 1321.3,1498C1317.9,1498.5 1314.5,1499.1 1311.2,1499.7C1307.8,1500.2 1304.5,1500.9 1301.1,1501.3C1297.7,1501.7 1294.4,1502 1291,1502.2C1287.6,1502.3 1284.3,1502.3 1280.9,1502.2C1277.6,1502 1274.2,1501.6 1270.8,1501.3C1267.5,1501 1264.1,1500.6 1260.8,1500.3C1257.4,1499.9 1254,1499.6 1250.7,1499.3C1247.3,1499 1243.9,1498.7 1240.6,1498.4C1237.2,1498.1 1233.9,1497.9 1230.5,1497.5C1227.1,1497.1 1223.8,1496.6 1220.4,1495.9C1217.1,1495.1 1213.5,1494.1 1210.3,1493C1207.2,1491.8 1203.9,1490.3 1201.5,1488.9C1199.1,1487.5 1197.1,1486.1 1195.8,1484.5C1194.5,1483 1193.8,1481.3 1193.7,1479.5Z" fill="#cccccc"/>
<path d="M1217.3,1478.2C1217.1,1476.7 1218.3,1475.3 1219.8,1473.8C1221.3,1472.3 1223.5,1470.7 1226.1,1469.4C1228.7,1468.1 1232.3,1467.1 1235.5,1466C1238.8,1464.9 1242.3,1463.9 1245.6,1463.1C1249,1462.3 1252.4,1461.6 1255.7,1461C1259.1,1460.3 1262.4,1459.7 1265.8,1459.3C1269.2,1458.9 1272.5,1458.8 1275.9,1458.7C1279.2,1458.6 1282.6,1458.9 1286,1458.9C1289.3,1459 1292.7,1459 1296.1,1458.9C1299.4,1458.9 1302.8,1458.7 1306.1,1458.7C1309.5,1458.6 1312.9,1458.5 1316.2,1458.7C1319.6,1458.9 1322.9,1459.3 1326.3,1459.9C1329.7,1460.6 1333.2,1461.4 1336.4,1462.5C1339.5,1463.5 1342.7,1464.9 1345.2,1466.3C1347.7,1467.6 1350,1469.3 1351.5,1470.7C1353,1472 1353.9,1473.1 1354,1474.4C1354.1,1475.8 1353.4,1477.4 1352.1,1478.9C1350.9,1480.3 1348.9,1481.7 1346.5,1482.9C1344.1,1484 1340.8,1484.9 1337.6,1485.8C1334.5,1486.6 1330.9,1487.2 1327.6,1487.9C1324.2,1488.7 1320.8,1489.4 1317.5,1490.2C1314.1,1491 1310.8,1491.8 1307.4,1492.5C1304,1493.1 1300.7,1493.6 1297.3,1494C1293.9,1494.4 1290.6,1494.8 1287.2,1495C1283.9,1495.2 1280.5,1495.1 1277.1,1495C1273.8,1494.9 1270.4,1494.5 1267.1,1494.2C1263.7,1494 1260.3,1493.7 1257,1493.4C1253.6,1493 1250.3,1492.6 1246.9,1492.1C1243.5,1491.6 1240,1491 1236.8,1490.2C1233.7,1489.4 1230.6,1488.6 1228,1487.4C1225.4,1486.3 1222.8,1484.8 1221.1,1483.3C1219.3,1481.7 1217.5,1479.8 1217.3,1478.2Z" fill="#999999"/>
<path d="M1240,1477.6C1240.2,1476.5 1241.3,1475 1243.1,1473.8C1244.9,1472.7 1247.9,1471.6 1250.7,1470.7C1253.4,1469.7 1256.6,1468.9 1259.5,1468.1C1262.4,1467.4 1265.4,1466.5 1268.3,1466C1271.3,1465.5 1274.2,1465.1 1277.1,1465C1280.1,1464.9 1283,1465.5 1286,1465.6C1288.9,1465.7 1291.8,1465.7 1294.8,1465.6C1297.7,1465.6 1300.7,1465.2 1303.6,1465.2C1306.6,1465.3 1309.7,1465.6 1312.4,1466C1315.2,1466.4 1317.7,1466.8 1320,1467.5C1322.3,1468.2 1324.8,1469.2 1326.3,1470.3C1327.8,1471.3 1329,1472.6 1329.1,1473.8C1329.2,1475 1328.2,1476.2 1326.9,1477.3C1325.6,1478.5 1323.5,1479.7 1321.3,1480.7C1319.1,1481.8 1316.6,1482.8 1313.7,1483.6C1310.8,1484.5 1307,1485.2 1303.6,1485.8C1300.3,1486.4 1296.9,1486.7 1293.5,1487.1C1290.2,1487.4 1286.8,1487.8 1283.4,1487.9C1280.1,1488 1276.7,1487.9 1273.4,1487.7C1270,1487.5 1266.4,1487.1 1263.3,1486.7C1260.1,1486.2 1257.2,1485.6 1254.5,1484.9C1251.7,1484.2 1249,1483.2 1246.9,1482.4C1244.8,1481.6 1243,1480.9 1241.8,1480.1C1240.7,1479.3 1239.7,1478.6 1240,1477.6Z" fill="#666666"/>
<path d="M1260.5,1476.1C1260.3,1474.8 1261.8,1473.5 1263.3,1472.6C1264.8,1471.6 1267.3,1470.8 1269.6,1470.3C1271.9,1469.8 1274.6,1469.4 1277.1,1469.4C1279.7,1469.4 1282.2,1470 1284.7,1470.3C1287.2,1470.6 1289.7,1470.9 1292.3,1471C1294.8,1471.2 1297.5,1470.9 1299.8,1471C1302.1,1471.2 1304.3,1471.5 1306.1,1471.9C1307.9,1472.3 1310,1472.7 1310.5,1473.6C1311.1,1474.4 1310,1476 1309.3,1477C1308.6,1478 1307.9,1478.9 1306.1,1479.5C1304.3,1480.1 1301.3,1480.4 1298.6,1480.7C1295.8,1481.1 1292.7,1481.4 1289.7,1481.6C1286.8,1481.9 1283.9,1482.3 1280.9,1482.4C1278,1482.4 1274.8,1482.4 1272.1,1482C1269.4,1481.6 1266.5,1481.1 1264.5,1480.1C1262.6,1479.1 1260.7,1477.3 1260.5,1476.1Z" fill="#000000"/>
<path d="M248.8,2061.1C249.2,2058.2 249.9,2054.5 251.2,2051.6C252.5,2048.7 254.6,2046 256.7,2043.8C258.8,2041.5 261.2,2039.7 263.8,2038.2C266.4,2036.8 269.5,2035.9 272.5,2035.1C275.5,2034.3 278.8,2034.2 281.9,2033.5C285.1,2032.9 288.2,2031.9 291.4,2031.1C294.5,2030.4 298,2029.7 300.8,2029.3C303.7,2028.9 305.8,2028.6 308.7,2028.8C311.6,2029 315,2029.8 318.2,2030.4C321.3,2030.9 324.7,2031.3 327.6,2031.9C330.5,2032.5 333.1,2033.1 335.5,2034C337.9,2034.8 339.8,2036 341.8,2037.1C343.8,2038.3 345.6,2039.8 347.3,2040.9C349,2042 350.1,2043.1 352,2043.8C354,2044.4 356.4,2044.7 359.1,2044.9C361.9,2045 365.4,2044.8 368.6,2044.9C371.7,2044.9 374.9,2045.1 378,2045.3C381.2,2045.5 385,2045.7 387.5,2046.1C390,2046.5 391.3,2046.6 393,2047.7C394.7,2048.7 396.3,2050.4 397.7,2052.4C399.2,2054.4 400.4,2057.1 401.7,2059.5C403,2061.9 404.4,2064.2 405.6,2066.6C406.8,2069 408,2071.6 408.8,2073.7C409.5,2075.8 410,2077.4 410,2079.2C410.1,2081 409.7,2082.9 409.2,2084.7C408.8,2086.6 407.4,2088.1 407.2,2090.2C407,2092.3 407.8,2094.8 408.3,2097.3C408.8,2099.8 409.7,2102.3 410.3,2105.2C411,2108.1 411.7,2111.5 412.4,2114.7C413.1,2117.8 413.6,2123.1 414.3,2124.1C415,2125.2 415.1,2122.1 416.6,2121C418.2,2119.8 421.4,2118.1 423.7,2117C426.1,2115.9 428.7,2115 430.8,2114.3C432.9,2113.7 434.6,2113 436.3,2113.1C438.1,2113.2 439.5,2113.9 441.1,2115C442.6,2116.1 444.4,2117.9 445.5,2119.7C446.6,2121.5 447.4,2123.8 447.7,2125.7C448,2127.6 447.6,2129.6 447.1,2131.2C446.5,2132.8 445.5,2134.2 444.2,2135.1C443,2136.1 441.3,2136.8 439.5,2137C437.7,2137.2 435.3,2136.8 433.2,2136.4C431.1,2136 429,2135.3 426.9,2134.8C424.8,2134.4 422,2133.5 420.6,2133.6C419.1,2133.6 418.8,2133.6 418.2,2135.1C417.7,2136.7 417.9,2140.4 417.4,2143C417,2145.6 416.5,2148.3 415.5,2150.9C414.6,2153.5 413.2,2156.3 411.9,2158.8C410.7,2161.3 409.4,2163.8 408,2165.9C406.5,2167.9 405.2,2169.6 403.3,2171.1C401.3,2172.5 398.8,2173.7 396.2,2174.5C393.5,2175.3 390.5,2175.5 387.5,2175.8C384.5,2176.1 381.2,2175.9 378,2176.1C374.9,2176.3 371.1,2176.2 368.6,2176.9C366.1,2177.5 364.7,2178.6 363.1,2180C361.5,2181.5 360.5,2183.5 359.1,2185.6C357.8,2187.6 356.8,2190.3 355.2,2192.2C353.6,2194 351.9,2195.5 349.7,2196.6C347.5,2197.6 344.7,2198 341.8,2198.5C338.9,2199 335.5,2199.5 332.4,2199.7C329.2,2199.9 326.1,2199.5 322.9,2199.7C319.7,2199.9 316.1,2200.7 313.4,2201C310.8,2201.3 309,2201.7 307.1,2201.3C305.3,2201 303.9,2200.1 302.4,2199C301,2197.8 299.8,2195.7 298.5,2194.2C297.2,2192.7 296.2,2191.2 294.5,2190C292.8,2188.7 290.6,2187.9 288.2,2186.8C285.9,2185.8 283,2184.9 280.4,2183.7C277.7,2182.4 275.1,2180.8 272.5,2179.3C269.9,2177.7 267.2,2176 264.6,2174.2C262,2172.4 259.2,2170.5 256.7,2168.5C254.2,2166.6 251.5,2164.7 249.6,2162.7C247.8,2160.7 246.7,2158.6 245.7,2156.4C244.6,2154.2 243.9,2151.8 243.3,2149.3C242.8,2146.8 242.8,2144.1 242.2,2141.4C241.7,2138.8 240.8,2136.2 240.2,2133.6C239.6,2130.9 238.7,2128.3 238.6,2125.7C238.5,2123.1 238.7,2120.2 239.4,2117.8C240,2115.4 241.2,2113.5 242.5,2111.5C243.9,2109.5 246.2,2107.8 247.3,2106C248.4,2104.2 248.9,2102.7 249.2,2100.5C249.4,2098.2 249,2095.2 248.8,2092.6C248.7,2090 248.1,2087.3 248.1,2084.7C248,2082.1 248.4,2079.5 248.5,2076.8C248.7,2074.2 248.8,2071.6 248.8,2069C248.9,2066.3 248.5,2064 248.8,2061.1Z" fill="#cccccc"/>
<path d="M302.4,2048.5C304.3,2047.6 306.4,2046.2 308.7,2045.6C311.1,2045.1 314,2045.2 316.6,2045.3C319.2,2045.5 321.8,2045.9 324.5,2046.6C327.1,2047.2 329.7,2048.2 332.4,2049.3C335,2050.4 337.6,2052 340.2,2053.2C342.9,2054.4 345.6,2055.8 348.1,2056.7C350.6,2057.6 352.8,2058.5 355.2,2058.7C357.6,2059 359.9,2058.4 362.3,2058.2C364.7,2058.1 367.3,2057.7 369.4,2057.9C371.5,2058.1 373.2,2058.6 374.9,2059.5C376.6,2060.4 378.6,2061.9 379.6,2063.4C380.7,2065 381.2,2067.1 381.2,2069C381.2,2070.8 380.7,2072.8 379.6,2074.5C378.6,2076.1 376.7,2077.4 374.9,2078.7C373.1,2080 370.4,2081 368.6,2082.4C366.8,2083.7 364.9,2085.4 363.9,2087.1C362.8,2088.8 362.2,2090.9 362.3,2092.6C362.4,2094.3 363.2,2096.1 364.7,2097.3C366.1,2098.5 368.7,2099.3 371,2099.7C373.2,2100.1 375.7,2099.8 378,2099.7C380.4,2099.6 383,2099 385.1,2099.2C387.2,2099.5 389.1,2100.1 390.7,2101.3C392.2,2102.4 393.7,2104 394.6,2106C395.5,2108 396.2,2110.6 396.2,2113.1C396.2,2115.6 395.5,2118.6 394.6,2121C393.7,2123.3 392,2125.5 390.7,2127.3C389.3,2129 387.9,2130.5 386.7,2131.7C385.5,2132.9 383.3,2133.6 383.6,2134.4C383.8,2135.1 386.8,2134.9 388.3,2135.9C389.7,2137 391.3,2138.9 392.2,2140.7C393.1,2142.4 393.9,2144.6 393.8,2146.2C393.7,2147.7 392.8,2149.2 391.4,2150.1C390.1,2151 387.6,2150.9 385.9,2151.7C384.2,2152.5 382.8,2153.7 381.2,2154.8C379.6,2156 378.3,2157.6 376.5,2158.8C374.6,2160 372.5,2161 370.2,2161.9C367.8,2162.8 364.8,2163.5 362.3,2164.3C359.8,2165.1 357.3,2165.9 355.2,2166.7C353.1,2167.4 351.4,2167.8 349.7,2169C348,2170.2 346.5,2172.3 345,2173.7C343.4,2175.2 341.8,2176.9 340.2,2177.7C338.7,2178.5 337.6,2178.5 335.5,2178.5C333.4,2178.4 330.5,2177.6 327.6,2177.4C324.7,2177.1 321.3,2177.2 318.2,2176.9C315,2176.6 311.9,2176.3 308.7,2175.8C305.6,2175.3 302.2,2174.5 299.3,2173.7C296.4,2173 294,2172.4 291.4,2171.4C288.8,2170.3 286.1,2168.9 283.5,2167.4C280.9,2166 278.1,2164.4 275.6,2162.7C273.1,2161 270.6,2159.2 268.5,2157.2C266.4,2155.2 264.6,2153.3 263,2150.9C261.4,2148.5 260.1,2145.6 259.1,2143C258.1,2140.4 257.6,2137.8 257,2135.1C256.5,2132.5 255.9,2129.8 255.9,2127.3C256,2124.8 256.7,2122.4 257.5,2120.2C258.3,2117.9 259.6,2116.1 260.7,2113.9C261.7,2111.6 263.2,2109.3 263.8,2106.8C264.5,2104.3 264.6,2101.5 264.6,2098.9C264.6,2096.3 263.8,2093.4 263.8,2091C263.8,2088.7 263.9,2087 264.6,2084.7C265.3,2082.5 266.4,2080 267.8,2077.6C269.1,2075.3 270.9,2072.8 272.5,2070.5C274.1,2068.3 275.4,2065.9 277.2,2063.9C279,2062 281.1,2060.2 283.5,2058.7C285.9,2057.2 289,2056.1 291.4,2054.8C293.8,2053.5 295.9,2051.9 297.7,2050.8C299.5,2049.8 300.6,2049.3 302.4,2048.5Z" fill="#999999"/>
<path d="M291.4,2080C293.4,2079.3 296.6,2078.8 299.3,2078.4C301.9,2078 304.9,2078.3 307.1,2077.6C309.4,2077 311.2,2075.9 312.7,2074.5C314.1,2073 314.8,2070.8 315.8,2069C316.9,2067.1 317.6,2064.8 319,2063.4C320.3,2062.1 321.8,2061.2 323.7,2060.8C325.5,2060.4 327.9,2060.5 330,2061.1C332.1,2061.7 334.5,2062.9 336.3,2064.2C338.1,2065.5 339.8,2067.1 341,2069C342.2,2070.8 343.1,2073.2 343.4,2075.3C343.6,2077.4 343.4,2079.7 342.6,2081.6C341.8,2083.4 340,2084.8 338.7,2086.3C337.3,2087.7 335.6,2088.7 334.7,2090.2C333.8,2091.8 333.1,2093.9 333.1,2095.7C333.1,2097.6 333.7,2099.7 334.7,2101.3C335.8,2102.8 337.5,2104.1 339.4,2105.2C341.4,2106.3 344,2107 346.5,2108C349,2109.1 352,2110.3 354.4,2111.5C356.8,2112.7 359,2113.9 360.7,2115.4C362.4,2117 363.9,2119 364.7,2121C365.4,2122.9 365.3,2125.2 365.1,2127.3C365,2129.4 364.6,2131.5 363.9,2133.6C363.1,2135.7 362.2,2137.9 360.7,2139.9C359.3,2141.8 357.3,2143.7 355.2,2145.4C353.1,2147.1 350.6,2148.6 348.1,2150.1C345.6,2151.6 342.9,2153.2 340.2,2154.4C337.6,2155.5 335.2,2156.5 332.4,2157.2C329.5,2157.9 326.1,2158.5 322.9,2158.8C319.7,2159 316.6,2158.9 313.4,2158.8C310.3,2158.6 306.9,2158.5 304,2158C301.1,2157.5 298.7,2156.7 296.1,2155.6C293.5,2154.6 290.6,2153.1 288.2,2151.7C285.9,2150.2 283.6,2148.8 281.9,2147C280.3,2145.1 279.3,2142.9 278.5,2140.7C277.7,2138.4 277.6,2136.1 277.2,2133.6C276.8,2131.1 276.1,2128.3 275.9,2125.7C275.8,2123.1 275.9,2120.2 276.4,2117.8C276.9,2115.4 278,2113.6 278.8,2111.5C279.6,2109.4 280.7,2107.3 281.1,2105.2C281.6,2103.1 281.5,2101 281.6,2098.9C281.7,2096.8 281.5,2094.7 281.9,2092.6C282.4,2090.5 283.4,2088 284.3,2086.3C285.2,2084.6 286.3,2083.4 287.4,2082.4C288.6,2081.3 289.4,2080.6 291.4,2080Z" fill="#666666"/>
<path d="M300.8,2109.9C302.4,2108.4 303.7,2106.9 305.6,2106C307.4,2105.1 309.8,2104.5 311.9,2104.4C314,2104.3 316.1,2104.9 318.2,2105.5C320.3,2106.2 322.4,2107.3 324.5,2108.4C326.6,2109.4 328.7,2110.6 330.8,2111.8C332.9,2113 335.1,2114.3 337.1,2115.4C339,2116.6 341,2117.4 342.6,2118.6C344.2,2119.8 345.9,2121.1 346.5,2122.5C347.2,2124 347.1,2125.8 346.5,2127.3C346,2128.7 345,2130.2 343.4,2131.2C341.8,2132.2 339.4,2132.6 337.1,2133.2C334.7,2133.9 331.6,2134.4 329.2,2135.1C326.8,2135.8 325,2136.6 322.9,2137.5C320.8,2138.4 318.7,2139.9 316.6,2140.7C314.5,2141.4 312.5,2142 310.3,2142.2C308.1,2142.4 305.3,2142.3 303.2,2141.8C301.1,2141.2 299.3,2140.3 297.7,2139.1C296.1,2137.8 294.7,2136.2 293.8,2134.4C292.8,2132.5 291.9,2130.1 291.7,2128C291.5,2125.9 291.9,2123.8 292.6,2121.7C293.4,2119.6 294.7,2117.4 296.1,2115.4C297.5,2113.5 299.3,2111.5 300.8,2109.9Z" fill="#000000"/>
<path d="M679.1,2061.1C679.3,2058.5 679.9,2056.8 681,2054.8C682.1,2052.8 683.9,2051 685.7,2049.3C687.5,2047.6 689.6,2045.9 692,2044.5C694.4,2043.2 697.5,2042.4 699.9,2041.4C702.2,2040.3 704.2,2039.4 706.2,2038.2C708.1,2037.1 709.9,2035.4 711.7,2034.3C713.5,2033.2 715.2,2032 717.2,2031.5C719.2,2030.9 721.1,2031.1 723.5,2031.1C725.9,2031.2 728.8,2031.9 731.4,2031.9C734,2032 736.6,2031.9 739.3,2031.5C741.9,2031.1 744.8,2030 747.1,2029.6C749.5,2029.1 751.1,2028.8 753.4,2028.8C755.8,2028.7 759.1,2028.9 761.3,2029.3C763.6,2029.7 765.1,2030.2 766.8,2031.1C768.5,2032.1 770.1,2033.6 771.6,2035.1C773,2036.5 773.8,2038.4 775.5,2039.8C777.2,2041.3 779.4,2042.6 781.8,2043.8C784.2,2044.9 787.1,2045.8 789.7,2046.9C792.3,2048 795.1,2049.4 797.6,2050.4C800.1,2051.4 802.6,2052 804.7,2052.9C806.8,2053.8 808.6,2054.3 810.2,2055.6C811.7,2056.8 813.1,2058.5 814.1,2060.3C815.2,2062.1 815.8,2064.4 816.5,2066.6C817.1,2068.8 817.5,2071.5 818,2073.7C818.6,2075.9 818.7,2078.4 819.6,2080C820.5,2081.6 822,2082.4 823.6,2083.1C825.1,2083.9 827.4,2083.9 829.1,2084.7C830.8,2085.5 832.6,2086.4 833.8,2087.9C835,2089.3 835.6,2091.3 836.2,2093.4C836.7,2095.5 836.8,2098 837,2100.5C837.1,2103 836.7,2105.7 837,2108.4C837.2,2111 838.1,2113.9 838.5,2116.2C839,2118.6 839.9,2120.3 839.8,2122.5C839.7,2124.8 839,2127.5 837.7,2129.6C836.5,2131.7 834.1,2133.3 832.2,2135.1C830.4,2137 828,2138.7 826.7,2140.7C825.4,2142.6 824.7,2144.7 824.3,2147C824,2149.2 824.7,2151.7 824.7,2154C824.7,2156.4 825.1,2158.9 824.3,2161.1C823.6,2163.4 822.2,2165.5 820.4,2167.4C818.6,2169.4 815.8,2171.2 813.3,2173C810.8,2174.7 808.1,2176.2 805.4,2177.7C802.8,2179.1 799.9,2180.2 797.6,2181.6C795.2,2183.1 793.2,2184.8 791.3,2186.3C789.3,2187.9 787.6,2189.9 785.7,2191.1C783.9,2192.3 782.5,2193 780.2,2193.4C778,2193.9 775,2193.4 772.4,2193.8C769.7,2194.1 767.1,2195.3 764.5,2195.8C761.8,2196.3 759.5,2196.6 756.6,2196.9C753.7,2197.2 750,2197.3 747.1,2197.4C744.3,2197.5 741.5,2197.8 739.3,2197.4C737,2196.9 735.5,2195.7 733.8,2194.7C732,2193.7 730.5,2192.3 729,2191.5C727.6,2190.8 726.8,2190 725.1,2190C723.4,2190 721,2191 718.8,2191.5C716.5,2192.1 713.9,2193.1 711.7,2193.1C709.5,2193.2 707.2,2193 705.4,2191.9C703.6,2190.7 702,2188.4 700.7,2186.3C699.3,2184.2 698.6,2181.6 697.5,2179.3C696.5,2176.9 695.7,2174.1 694.4,2172.2C693,2170.2 691.6,2168.8 689.6,2167.4C687.7,2166.1 684.8,2165.3 682.5,2164.3C680.3,2163.2 677.8,2162.6 676.2,2161.1C674.7,2159.7 673.7,2157.7 673.1,2155.6C672.4,2153.5 672.3,2151.2 672.3,2148.5C672.3,2145.9 673.1,2142.9 673.1,2139.9C673.1,2136.8 672.6,2133.6 672.3,2130.4C672,2127.3 671.4,2123.8 671.5,2121C671.6,2118.1 672.2,2115.7 673.1,2113.1C674,2110.5 675.8,2107.7 677,2105.2C678.2,2102.7 679.5,2100.7 680.2,2098.1C680.9,2095.5 681.2,2092.5 681.3,2089.4C681.4,2086.4 681,2083.1 680.7,2080C680.3,2076.8 679.7,2073.7 679.4,2070.5C679.1,2067.4 678.8,2063.7 679.1,2061.1Z" fill="#cccccc"/>
<path d="M694.4,2065.8C695.4,2063.6 697.6,2062.1 699.9,2060.3C702.1,2058.5 705.1,2056.5 707.8,2054.8C710.4,2053.1 713,2051.2 715.6,2050.1C718.3,2048.9 720.6,2048 723.5,2047.7C726.4,2047.4 730.1,2048.3 733,2048.2C735.9,2048 738.2,2047.2 740.8,2046.9C743.5,2046.6 746.1,2045.9 748.7,2046.1C751.3,2046.3 754,2047 756.6,2048.2C759.2,2049.3 761.8,2051.3 764.5,2052.9C767.1,2054.5 770,2056.2 772.4,2057.9C774.7,2059.7 776.7,2061.3 778.7,2063.4C780.6,2065.5 782.3,2068 784.2,2070.5C786,2073 788.2,2075.8 789.7,2078.4C791.1,2081 792.2,2083.7 792.8,2086.3C793.5,2088.9 793.2,2091.8 793.6,2094.2C794,2096.5 794.1,2098.5 795.2,2100.5C796.2,2102.4 798.2,2104.2 799.9,2106C801.6,2107.8 804,2109.5 805.4,2111.5C806.9,2113.5 808.1,2115.6 808.6,2117.8C809.1,2120 808.7,2122.3 808.3,2124.9C807.9,2127.5 806.7,2130.8 806.2,2133.6C805.8,2136.3 805.8,2138.8 805.4,2141.4C805,2144.1 804.8,2147 803.9,2149.3C802.9,2151.7 801.8,2153.8 799.9,2155.6C798.1,2157.5 795.3,2159 792.8,2160.3C790.3,2161.7 787.6,2162.3 785,2163.5C782.3,2164.7 779.7,2166.1 777.1,2167.4C774.5,2168.8 771.8,2170.2 769.2,2171.4C766.6,2172.5 763.9,2173.6 761.3,2174.2C758.7,2174.9 756.1,2175.2 753.4,2175.3C750.8,2175.4 748.2,2175.2 745.6,2174.8C742.9,2174.5 740.3,2173.7 737.7,2173C735.1,2172.2 732.4,2171.2 729.8,2170.6C727.2,2169.9 724.6,2169.2 721.9,2169C719.3,2168.8 716.4,2169.8 714.1,2169.5C711.7,2169.2 709.7,2168.7 707.8,2167.4C705.8,2166.2 704.2,2163.9 702.2,2161.9C700.3,2160 698,2157.3 695.9,2155.6C693.8,2153.9 691.1,2153.3 689.6,2151.7C688.1,2150.1 687.5,2148.4 687,2146.2C686.4,2143.9 686.6,2140.9 686.5,2138.3C686.3,2135.7 686.3,2133.3 686,2130.4C685.7,2127.5 684.7,2124.1 684.9,2121C685.1,2117.8 686.1,2114.3 687.3,2111.5C688.5,2108.7 690.6,2106.8 692,2104.4C693.4,2102.1 695.2,2099.8 695.9,2097.3C696.7,2094.8 696.6,2092.1 696.4,2089.4C696.2,2086.8 695.3,2084.2 694.8,2081.6C694.4,2078.9 693.7,2076.3 693.6,2073.7C693.5,2071.1 693.3,2068 694.4,2065.8Z" fill="#999999"/>
<path d="M718,2070.5C718.3,2069.2 719.7,2068.2 721.1,2068.2C722.6,2068.2 724.7,2069.8 726.7,2070.5C728.6,2071.2 730.6,2072.4 733,2072.4C735.3,2072.4 738.2,2071.2 740.8,2070.5C743.5,2069.8 746.4,2068.5 748.7,2068.2C751.1,2067.9 752.9,2068 755,2068.6C757.1,2069.3 759.5,2070.6 761.3,2072.1C763.2,2073.6 764.7,2075.5 766.1,2077.6C767.4,2079.7 768.2,2082.1 769.2,2084.7C770.3,2087.3 771.4,2090.8 772.4,2093.4C773.3,2096 773.7,2098.1 774.7,2100.5C775.8,2102.8 776.9,2105.2 778.7,2107.6C780.4,2109.9 783.1,2112.4 785,2114.7C786.8,2116.9 788.8,2118.9 789.7,2121C790.6,2123.1 790.7,2124.9 790.5,2127.3C790.2,2129.6 789.4,2132.5 788.1,2135.1C786.8,2137.8 784.7,2140.7 782.6,2143C780.5,2145.4 778,2147.3 775.5,2149.3C773,2151.3 770.3,2153.5 767.6,2154.8C765,2156.1 762.6,2156.9 759.7,2157.2C756.9,2157.5 753.4,2156.7 750.3,2156.4C747.1,2156.1 744,2155.4 740.8,2155.3C737.7,2155.2 734.5,2155.6 731.4,2155.6C728.2,2155.6 724.8,2155.9 721.9,2155.3C719,2154.7 716.4,2153.7 714.1,2152.2C711.7,2150.6 709.4,2148.3 707.8,2146.2C706.1,2144 705.1,2141.7 704.3,2139.1C703.5,2136.5 703.2,2133.2 703,2130.4C702.8,2127.7 702.5,2124.9 703,2122.5C703.6,2120.2 704.6,2118.2 706.2,2116.2C707.8,2114.3 710.4,2112.6 712.5,2110.7C714.6,2108.9 716.7,2107.3 718.8,2105.2C720.9,2103.1 723.5,2100.3 725.1,2098.1C726.7,2095.9 728.2,2093.8 728.6,2091.8C728.9,2089.8 728.3,2088.1 727.4,2086.3C726.6,2084.5 724.8,2082.5 723.5,2080.8C722.2,2079.1 720.5,2077.8 719.6,2076.1C718.7,2074.3 717.7,2071.9 718,2070.5Z" fill="#666666"/>
<path d="M721.9,2113.1C723.5,2112.3 725.9,2111.2 728.2,2110.7C730.6,2110.2 733.5,2110.2 736.1,2109.9C738.7,2109.7 741.4,2109.4 744,2109.1C746.6,2108.9 749.2,2108.5 751.9,2108.7C754.5,2108.8 757.4,2109.1 759.7,2109.9C762.1,2110.7 764.3,2112 766.1,2113.4C767.8,2114.8 769.3,2116.7 770,2118.6C770.6,2120.5 770.6,2122.8 770,2124.9C769.3,2127 767.5,2129.1 766.1,2131.2C764.6,2133.3 762.9,2135.8 761.3,2137.5C759.7,2139.2 758.4,2140.5 756.6,2141.1C754.8,2141.8 752.7,2141.8 750.3,2141.4C747.9,2141.1 745,2139.8 742.4,2139.1C739.8,2138.3 737.2,2137.6 734.5,2137C731.9,2136.4 729,2136.3 726.7,2135.5C724.3,2134.6 722.1,2133.5 720.4,2132C718.7,2130.5 717.1,2128.4 716.4,2126.5C715.8,2124.5 716,2122 716.4,2120.2C716.8,2118.3 717.9,2116.6 718.8,2115.4C719.7,2114.3 720.4,2113.9 721.9,2113.1Z" fill="#000000"/>
<path d="M1202.8,2075.3C1203.3,2073.8 1203.8,2072.2 1205.1,2070.5C1206.5,2068.8 1209,2066.9 1210.7,2065C1212.4,2063.2 1213.7,2061.2 1215.4,2059.5C1217.1,2057.8 1218.7,2056.2 1220.9,2054.8C1223.1,2053.3 1226.2,2052.2 1228.8,2050.8C1231.4,2049.5 1234,2048.3 1236.7,2046.9C1239.3,2045.5 1241.6,2043.9 1244.5,2042.5C1247.4,2041.1 1250.8,2039.9 1254,2038.7C1257.1,2037.6 1260.3,2036.5 1263.4,2035.6C1266.6,2034.6 1269.7,2033.8 1272.9,2033C1276.1,2032.3 1279.2,2031.6 1282.4,2031.1C1285.5,2030.7 1288.9,2030.4 1291.8,2030.4C1294.7,2030.3 1297.1,2030.3 1299.7,2030.8C1302.3,2031.4 1304.9,2032.5 1307.6,2033.5C1310.2,2034.5 1312.8,2035.5 1315.4,2036.7C1318.1,2037.8 1320.7,2039.2 1323.3,2040.6C1325.9,2042 1328.6,2043.8 1331.2,2045.3C1333.8,2046.9 1336.4,2048.4 1339.1,2049.7C1341.7,2051.1 1344.3,2052.3 1347,2053.5C1349.6,2054.8 1352.2,2055.9 1354.8,2057.1C1357.5,2058.4 1360.2,2059.6 1362.7,2061.1C1365.2,2062.6 1367.7,2064.3 1369.8,2066.1C1371.9,2068 1373.9,2070.1 1375.3,2072.1C1376.8,2074.2 1377.8,2076.1 1378.5,2078.4C1379.1,2080.8 1379.4,2083.7 1379.3,2086.3C1379.1,2088.9 1378.7,2091.9 1377.7,2094.2C1376.6,2096.4 1374.7,2099 1373,2099.7C1371.2,2100.4 1369.1,2098.8 1367.4,2098.6C1365.7,2098.4 1364,2098.1 1362.7,2098.6C1361.4,2099 1360.3,2100 1359.9,2101.3C1359.5,2102.5 1359.6,2104.8 1360.3,2106C1361.1,2107.2 1362.6,2108.1 1364.3,2108.7C1366,2109.3 1368.9,2109 1370.6,2109.6C1372.3,2110.2 1373.2,2110.8 1374.5,2112.3C1375.8,2113.8 1377.5,2116.4 1378.5,2118.6C1379.4,2120.8 1380.2,2123.3 1380,2125.7C1379.9,2128 1379,2130.7 1377.7,2132.8C1376.4,2134.9 1373.7,2136.5 1372.2,2138.3C1370.6,2140.1 1369.2,2141.7 1368.2,2143.8C1367.2,2145.9 1367.1,2148.8 1366.2,2150.9C1365.3,2153 1364.3,2154.7 1362.7,2156.4C1361.1,2158.1 1358.6,2159.4 1356.4,2161.1C1354.2,2162.8 1351.7,2164.9 1349.3,2166.7C1347,2168.4 1344.7,2169.9 1342.2,2171.4C1339.7,2172.8 1336.7,2174 1334.3,2175.3C1332,2176.6 1329.9,2177.7 1328,2179.3C1326.2,2180.8 1324.9,2182.8 1323.3,2184.8C1321.7,2186.7 1320.2,2189.1 1318.6,2191.1C1317,2193 1315.6,2195.4 1313.9,2196.6C1312.2,2197.8 1310.3,2198.4 1308.4,2198.5C1306.4,2198.5 1304.3,2197.7 1302,2196.9C1299.8,2196.1 1297.2,2194.7 1295,2193.8C1292.7,2192.8 1290.5,2191.4 1288.7,2191.1C1286.8,2190.7 1285.8,2191 1283.9,2191.5C1282.1,2192.1 1279.7,2193.4 1277.6,2194.2C1275.5,2195.1 1273.7,2196.1 1271.3,2196.6C1269,2197 1266.1,2196.9 1263.4,2196.9C1260.8,2197 1257.9,2197.1 1255.6,2196.9C1253.2,2196.7 1251.2,2196.6 1249.3,2195.8C1247.3,2195 1245.6,2193.6 1243.8,2191.9C1241.9,2190.2 1240.2,2187.8 1238.2,2185.6C1236.3,2183.3 1234,2180.8 1231.9,2178.5C1229.8,2176.1 1227.5,2173.5 1225.6,2171.4C1223.8,2169.3 1222.7,2167.3 1220.9,2165.9C1219.1,2164.4 1216.7,2163.8 1214.6,2162.7C1212.5,2161.7 1210.4,2161 1208.3,2159.6C1206.2,2158.1 1203.8,2156 1202,2154C1200.2,2152.1 1198.8,2150 1197.3,2147.7C1195.7,2145.5 1193.8,2142.8 1192.5,2140.7C1191.3,2138.6 1190,2137 1189.7,2135.1C1189.4,2133.3 1189.8,2131.5 1190.7,2129.6C1191.5,2127.8 1193.3,2126.1 1194.9,2124.1C1196.5,2122.1 1198.7,2119.9 1200.4,2117.8C1202.1,2115.7 1203.8,2113.7 1205.1,2111.5C1206.5,2109.3 1207.6,2106.8 1208.3,2104.4C1209,2102.1 1209.2,2099.6 1209.1,2097.3C1209,2095.1 1208.3,2093.1 1207.5,2091C1206.7,2088.9 1205.3,2086.7 1204.4,2084.7C1203.4,2082.7 1202.3,2080.8 1202,2079.2C1201.7,2077.6 1202.3,2076.7 1202.8,2075.3Z" fill="#cccccc"/>
<path d="M1244.5,2056.4C1246.4,2055 1249.5,2053.6 1252.4,2052.4C1255.3,2051.2 1259,2050.2 1261.9,2049.3C1264.8,2048.3 1267.1,2047.2 1269.7,2046.6C1272.4,2045.9 1275.1,2045.3 1277.6,2045.3C1280.1,2045.4 1282.4,2046.2 1284.7,2046.9C1287.1,2047.6 1289.4,2048.7 1291.8,2049.3C1294.2,2049.8 1296.5,2050.1 1298.9,2050.1C1301.3,2050.1 1303.5,2049.3 1306,2049.3C1308.5,2049.3 1311.4,2049.4 1313.9,2050.1C1316.4,2050.7 1318.9,2051.8 1321,2053.2C1323.1,2054.7 1324.9,2056.5 1326.5,2058.7C1328,2061 1329.2,2064 1330.4,2066.6C1331.6,2069.2 1332.4,2071.7 1333.6,2074.5C1334.7,2077.2 1336.3,2080.3 1337.5,2083.1C1338.7,2086 1339.7,2089.1 1340.7,2091.8C1341.6,2094.6 1342.1,2096.9 1343,2099.7C1343.9,2102.4 1345,2105.6 1346.2,2108.4C1347.3,2111.1 1349,2113.6 1350.1,2116.2C1351.2,2118.9 1352.6,2121.4 1352.9,2124.1C1353.3,2126.9 1352.5,2129.9 1352,2132.8C1351.5,2135.7 1350.9,2138.6 1350.1,2141.4C1349.3,2144.3 1348.3,2147.5 1347,2150.1C1345.6,2152.7 1344.1,2155.4 1342.2,2157.2C1340.4,2159 1338.3,2159.7 1335.9,2160.7C1333.6,2161.6 1330.4,2161.8 1328,2162.7C1325.7,2163.6 1323.6,2164.4 1321.7,2165.9C1319.9,2167.3 1318.6,2169.5 1317,2171.4C1315.4,2173.2 1313.9,2175.5 1312.3,2176.9C1310.7,2178.3 1309.4,2179.2 1307.6,2179.6C1305.7,2180 1303.6,2179.8 1301.3,2179.3C1298.9,2178.7 1295.9,2177.1 1293.4,2176.1C1290.9,2175.1 1288.7,2173.8 1286.3,2173.3C1283.9,2172.7 1281.6,2172.7 1279.2,2173C1276.8,2173.2 1274.3,2174.2 1272.1,2174.5C1269.9,2174.8 1267.8,2175.2 1265.8,2174.8C1263.8,2174.5 1262.4,2173.7 1260.3,2172.6C1258.2,2171.5 1255.8,2169.6 1253.2,2168.2C1250.6,2166.8 1247.3,2165.7 1244.5,2164.3C1241.8,2162.9 1239,2161.7 1236.7,2160C1234.3,2158.3 1232.2,2156.2 1230.4,2154C1228.5,2151.9 1227.1,2149.5 1225.6,2147C1224.2,2144.5 1223,2141.6 1221.7,2139.1C1220.4,2136.6 1218.9,2134.2 1217.8,2132C1216.6,2129.8 1215.2,2127.8 1214.9,2125.7C1214.7,2123.6 1215.2,2121.5 1216.2,2119.4C1217.2,2117.3 1219.2,2115.2 1220.9,2113.1C1222.6,2111 1224.7,2109 1226.4,2106.8C1228.1,2104.5 1229.7,2102.3 1231.1,2099.7C1232.6,2097.1 1233.9,2094 1235.1,2091C1236.3,2088 1237.4,2084.5 1238.2,2081.6C1239,2078.7 1239.7,2076.3 1239.8,2073.7C1239.9,2071.1 1238.8,2068 1239,2065.8C1239.3,2063.6 1240.5,2061.9 1241.4,2060.3C1242.3,2058.7 1242.7,2057.7 1244.5,2056.4Z" fill="#999999"/>
<path d="M1258.7,2063.4C1260.2,2062.8 1262.9,2062.4 1265,2062.7C1267.1,2062.9 1269.2,2063.7 1271.3,2065C1273.4,2066.3 1275.5,2068.9 1277.6,2070.5C1279.7,2072.2 1281.6,2073.6 1283.9,2074.9C1286.3,2076.3 1289.4,2077.6 1291.8,2078.7C1294.2,2079.9 1296,2080.6 1298.1,2081.9C1300.2,2083.1 1302,2085 1304.4,2086.3C1306.8,2087.6 1310.2,2088.2 1312.3,2089.8C1314.4,2091.3 1315.4,2093.8 1317,2095.7C1318.6,2097.7 1319.9,2099.4 1321.7,2101.3C1323.6,2103.1 1326.1,2105.1 1328,2106.8C1330,2108.5 1332.1,2109.7 1333.6,2111.5C1335,2113.3 1336.3,2115.4 1336.7,2117.8C1337.1,2120.2 1336.8,2123.3 1335.9,2125.7C1335,2128 1333,2129.9 1331.2,2132C1329.4,2134.1 1327,2136.1 1324.9,2138.3C1322.8,2140.5 1320.7,2143 1318.6,2145.4C1316.5,2147.7 1314.4,2150.2 1312.3,2152.5C1310.2,2154.8 1308.1,2157.4 1306,2159.1C1303.9,2160.8 1302,2162.1 1299.7,2162.7C1297.3,2163.3 1294.4,2162.8 1291.8,2162.7C1289.2,2162.6 1286.6,2162.1 1283.9,2161.9C1281.3,2161.7 1278.7,2162 1276.1,2161.6C1273.4,2161.2 1270.8,2160.8 1268.2,2159.6C1265.5,2158.3 1262.9,2156 1260.3,2154C1257.7,2152.1 1254.4,2150 1252.4,2148.1C1250.4,2146.1 1249.7,2144.5 1248.5,2142.2C1247.3,2139.9 1246.5,2137 1245.3,2134.4C1244.1,2131.7 1242.5,2129 1241.4,2126.5C1240.3,2124 1238.8,2121.7 1238.6,2119.4C1238.3,2117 1238.8,2114.3 1239.8,2112.3C1240.8,2110.3 1242.4,2108.9 1244.5,2107.6C1246.6,2106.3 1249.9,2105.5 1252.4,2104.4C1254.9,2103.4 1257.7,2102.7 1259.5,2101.3C1261.3,2099.8 1262.6,2097.7 1263.4,2095.7C1264.3,2093.8 1265,2091.5 1264.7,2089.4C1264.4,2087.3 1263,2085 1261.9,2083.1C1260.7,2081.3 1259,2080.3 1257.9,2078.4C1256.9,2076.6 1255.8,2074.1 1255.6,2072.1C1255.3,2070.1 1255.8,2068 1256.4,2066.6C1256.9,2065.2 1257.3,2064.1 1258.7,2063.4Z" fill="#666666"/>
<path d="M1262.7,2114.7C1264,2113.6 1265.9,2112.3 1268.2,2111.5C1270.4,2110.7 1273.4,2109.9 1276.1,2109.6C1278.7,2109.3 1281.3,2109.4 1283.9,2109.6C1286.6,2109.9 1289.2,2110.6 1291.8,2111.2C1294.4,2111.8 1297.1,2112.6 1299.7,2113.4C1302.3,2114.2 1305.2,2115.1 1307.6,2115.9C1309.9,2116.7 1312.2,2117.2 1313.9,2118.1C1315.5,2119 1317.2,2119.8 1317.3,2121.3C1317.5,2122.8 1315.9,2125.3 1314.7,2127.3C1313.4,2129.2 1311.5,2130.8 1309.9,2132.8C1308.4,2134.7 1306.9,2137.3 1305.2,2139.1C1303.5,2140.8 1301.9,2142.3 1299.7,2143.3C1297.5,2144.4 1294.4,2144.9 1291.8,2145.4C1289.2,2145.9 1286.6,2146.2 1283.9,2146.2C1281.3,2146.2 1278.3,2146.2 1276.1,2145.4C1273.8,2144.6 1272.2,2143 1270.5,2141.4C1268.8,2139.9 1267.3,2137.9 1265.8,2135.9C1264.4,2134 1262.9,2131.9 1261.9,2129.6C1260.8,2127.4 1259.8,2124.5 1259.5,2122.5C1259.2,2120.6 1259.8,2119.1 1260.3,2117.8C1260.8,2116.5 1261.3,2115.7 1262.7,2114.7Z" fill="#000000"/>
<path d="M1932.9,2028.9C1934.4,2029.1 1935.8,2029.6 1937.2,2030.5C1938.7,2031.4 1940.1,2032.7 1941.6,2034.3C1943,2035.9 1944.5,2038 1945.9,2040.2C1947.2,2042.5 1948.6,2045.1 1949.7,2047.8C1950.7,2050.5 1951.6,2053.4 1952.4,2056.4C1953.1,2059.5 1953.5,2062.7 1954,2066.2C1954.4,2069.6 1954.8,2073.4 1955.1,2077C1955.3,2080.6 1955.4,2084.2 1955.4,2087.8C1955.4,2091.4 1955,2095.3 1955.1,2098.6C1955.1,2101.8 1955.3,2104.5 1955.6,2107.2C1955.9,2109.9 1956.6,2112.2 1956.9,2114.8C1957.2,2117.3 1957.3,2119.6 1957.2,2122.3C1957.1,2125 1956.8,2127.7 1956.5,2131C1956.1,2134.2 1955.6,2138 1955.1,2141.7C1954.5,2145.5 1953.8,2149.7 1952.9,2153.6C1952,2157.6 1950.8,2161.7 1949.7,2165.5C1948.5,2169.3 1947.2,2172.7 1945.9,2176.3C1944.5,2179.9 1943,2183.9 1941.6,2187.1C1940.1,2190.3 1938.7,2193.5 1937.2,2195.7C1935.8,2198 1934.4,2200 1932.9,2200.6C1931.5,2201.2 1930,2200.5 1928.6,2199.5C1927.2,2198.5 1925.7,2196.9 1924.3,2194.7C1922.8,2192.4 1921.3,2189.3 1920,2186C1918.6,2182.8 1917.4,2178.8 1916.2,2175.2C1914.9,2171.6 1913.6,2168 1912.4,2164.4C1911.2,2160.8 1910.1,2157.2 1909.2,2153.6C1908.3,2150 1907.6,2146.4 1907,2142.8C1906.4,2139.2 1906.1,2135.4 1905.7,2132C1905.3,2128.6 1904.8,2125.2 1904.8,2122.3C1904.8,2119.4 1905.2,2117.3 1905.7,2114.8C1906.2,2112.2 1907.2,2109.9 1907.9,2107.2C1908.5,2104.5 1909.3,2101.8 1909.7,2098.6C1910.1,2095.3 1910.5,2091.4 1910.5,2087.8C1910.5,2084.2 1909.8,2080.6 1909.7,2077C1909.6,2073.4 1909.7,2069.6 1910,2066.2C1910.4,2062.7 1911,2059.7 1911.9,2056.4C1912.7,2053.2 1913.8,2049.8 1915.1,2046.7C1916.4,2043.7 1917.9,2040.5 1919.4,2038.1C1920.9,2035.6 1922.7,2033.6 1924.3,2032.1C1925.8,2030.7 1927.2,2030 1928.6,2029.4C1930,2028.9 1931.5,2028.7 1932.9,2028.9Z" fill="#cccccc"/>
<path d="M1933.5,2047.3C1934.9,2047.5 1936.4,2048.2 1937.8,2049.4C1939.1,2050.6 1940.5,2052.4 1941.6,2054.3C1942.6,2056.2 1943.5,2058.2 1944.3,2060.8C1945,2063.3 1945.4,2066.3 1945.9,2069.4C1946.3,2072.5 1946.7,2075.9 1947,2079.1C1947.2,2082.4 1947.3,2085.6 1947.5,2088.8C1947.7,2092.1 1947.9,2095.3 1948.3,2098.6C1948.6,2101.8 1949.2,2105.2 1949.7,2108.3C1950.1,2111.3 1950.6,2114 1950.7,2116.9C1950.9,2119.8 1950.7,2122.5 1950.4,2125.6C1950.1,2128.6 1949.6,2132 1949.1,2135.3C1948.6,2138.5 1948.2,2141.7 1947.5,2145C1946.8,2148.2 1945.9,2151.5 1944.8,2154.7C1943.7,2157.9 1942.3,2161.5 1941,2164.4C1939.8,2167.3 1938.5,2170.1 1937.2,2172C1936,2173.9 1934.8,2175.4 1933.5,2175.8C1932.1,2176.1 1930.6,2175.2 1929.1,2174.1C1927.7,2173.1 1926.3,2171.4 1924.8,2169.3C1923.4,2167.1 1921.8,2164 1920.5,2161.2C1919.2,2158.4 1918.2,2155.6 1917.3,2152.5C1916.4,2149.5 1915.7,2146.2 1915.1,2142.8C1914.5,2139.4 1913.8,2135.4 1913.5,2132C1913.1,2128.6 1912.8,2125.4 1912.9,2122.3C1913,2119.3 1913.4,2116.6 1914,2113.7C1914.6,2110.8 1916.1,2107.9 1916.7,2105C1917.4,2102.2 1917.8,2099.5 1918,2096.4C1918.2,2093.3 1917.8,2089.9 1917.8,2086.7C1917.8,2083.4 1917.7,2080 1917.8,2077C1917.9,2073.9 1917.9,2071.2 1918.3,2068.3C1918.8,2065.4 1919.5,2062.3 1920.5,2059.7C1921.5,2057.1 1922.8,2054.6 1924.3,2052.7C1925.7,2050.7 1927.6,2048.9 1929.1,2048C1930.7,2047.1 1932,2047 1933.5,2047.3Z" fill="#999999"/>
<path d="M1929.9,2069.2C1931,2067.9 1933.4,2067.9 1934.5,2069.2C1935.7,2070.5 1936.1,2074.2 1936.7,2077C1937.3,2079.7 1937.9,2082.7 1938.3,2085.6C1938.8,2088.5 1938.9,2091.4 1939.4,2094.2C1939.8,2097.1 1940.4,2100 1941,2102.9C1941.6,2105.8 1942.6,2108.6 1943.2,2111.5C1943.7,2114.4 1944.2,2117.3 1944.3,2120.2C1944.3,2123 1944.1,2125.9 1943.7,2128.8C1943.4,2131.7 1942.7,2134.6 1942.1,2137.4C1941.5,2140.3 1941,2143.4 1940.3,2146.1C1939.5,2148.8 1938.7,2151.6 1937.8,2153.6C1936.8,2155.7 1935.6,2157.5 1934.5,2158.5C1933.5,2159.5 1932.5,2159.7 1931.3,2159.6C1930.1,2159.4 1928.7,2158.7 1927.5,2157.4C1926.3,2156.1 1925.3,2154.3 1924.3,2152C1923.3,2149.8 1922.3,2146.7 1921.6,2143.9C1920.9,2141.1 1920.4,2138.1 1920,2135.3C1919.5,2132.4 1919.2,2129.3 1919.1,2126.6C1919,2123.9 1919,2121.6 1919.4,2119.1C1919.8,2116.6 1920.8,2114 1921.6,2111.5C1922.4,2109 1923.5,2106.7 1924.3,2104C1925.1,2101.3 1925.8,2098.2 1926.2,2095.3C1926.7,2092.4 1926.7,2089.7 1927,2086.7C1927.3,2083.6 1927.6,2079.9 1928.1,2077C1928.5,2074 1928.8,2070.5 1929.9,2069.2Z" fill="#666666"/>
<path d="M1929.1,2109.9C1930.8,2109 1933.5,2109 1935.1,2109.9C1936.6,2110.8 1937.6,2113.2 1938.3,2115.3C1939,2117.4 1939.4,2120.1 1939.4,2122.3C1939.4,2124.6 1938.8,2126.6 1938.3,2128.8C1937.9,2131 1937.3,2133 1936.7,2135.3C1936.1,2137.5 1935.8,2140.9 1934.9,2142.3C1934,2143.6 1932.3,2143.4 1931.3,2143.4C1930.3,2143.4 1929.4,2143.5 1928.6,2142.3C1927.8,2141.1 1927.1,2138.4 1926.4,2136.3C1925.8,2134.3 1924.9,2132.2 1924.5,2129.9C1924.1,2127.5 1923.9,2124.7 1924.1,2122.3C1924.2,2119.9 1924.5,2117.4 1925.4,2115.3C1926.2,2113.2 1927.5,2110.8 1929.1,2109.9Z" fill="#000000"/>
<path d="M258.3,2487.3C258.7,2485.6 259.1,2483.3 260.2,2481.8C261.2,2480.2 262.6,2479 264.6,2478.1C266.6,2477.3 269.7,2476.9 272.5,2476.6C275.2,2476.2 278.3,2476.2 281.1,2476.2C284,2476.3 287.1,2477.2 289.8,2477C292.6,2476.9 295.1,2476.1 297.7,2475.5C300.3,2474.8 302.9,2473.9 305.6,2473.4C308.2,2472.9 311,2472.4 313.4,2472.3C315.9,2472.2 318.2,2472.2 320.5,2472.8C322.9,2473.3 325.4,2474.3 327.6,2475.5C329.9,2476.6 332,2477.8 333.9,2479.4C335.9,2481 337.7,2482.9 339.4,2484.9C341.2,2486.9 342.5,2489.2 344.2,2491.2C345.9,2493.2 347.7,2495.1 349.7,2496.7C351.7,2498.3 353.6,2499.6 356,2500.7C358.4,2501.8 361.2,2502.5 363.9,2503.3C366.5,2504.2 369.1,2505 371.7,2505.9C374.4,2506.7 377.4,2508.1 379.6,2508.5C381.9,2509 383.3,2508.9 385.1,2508.5C387,2508.1 388.8,2506.6 390.7,2506.2C392.5,2505.8 394.5,2505.5 396.2,2506.2C397.9,2506.8 399.4,2508.3 400.9,2510.1C402.3,2512 403.7,2514.7 404.8,2517.2C406,2519.7 406.9,2522.3 407.7,2525.1C408.4,2527.8 408.7,2531.1 409.2,2533.8C409.8,2536.4 410.2,2538.9 411.1,2540.8C412.1,2542.8 413.5,2544.8 415.1,2545.6C416.6,2546.4 418.6,2546 420.6,2545.6C422.6,2545.2 425.1,2543.5 426.9,2543.2C428.7,2542.9 430.3,2543.1 431.6,2544C432.9,2544.9 434,2546.7 434.8,2548.7C435.5,2550.7 436.3,2553.4 436,2555.8C435.8,2558.2 434.6,2561 433.2,2562.9C431.8,2564.8 429.8,2566.3 427.7,2567.3C425.6,2568.4 422.7,2568.8 420.6,2569.2C418.5,2569.6 416.4,2569.1 415.1,2570C413.8,2570.9 413.1,2572.9 412.7,2574.7C412.3,2576.6 412.2,2579.2 412.7,2581C413.2,2582.9 414.3,2584.6 415.9,2585.7C417.4,2586.9 420.4,2587.1 422.2,2588.1C423.9,2589.1 425.8,2590 426.6,2591.6C427.4,2593.2 427.5,2595.6 426.9,2597.6C426.3,2599.5 424.5,2601.9 423,2603.1C421.4,2604.3 419.4,2604.4 417.4,2604.7C415.5,2604.9 413,2604.1 411.1,2604.7C409.3,2605.2 407.6,2606.2 406.4,2607.8C405.2,2609.4 404.8,2611.9 404,2614.1C403.3,2616.3 402.6,2618.8 401.7,2621.2C400.8,2623.6 400.1,2626.3 398.5,2628.3C397,2630.3 394.5,2631.7 392.2,2633C390,2634.3 387.4,2634.7 385.1,2636.2C382.9,2637.6 380.8,2639.9 378.8,2641.7C376.9,2643.4 375.2,2645.7 373.3,2646.7C371.5,2647.8 369.8,2648.2 367.8,2648C365.8,2647.8 363.7,2646.3 361.5,2645.6C359.3,2645 356.8,2644.1 354.4,2644C352,2644 349.7,2644.6 347.3,2645.1C345,2645.7 342.7,2646.7 340.2,2647.2C337.7,2647.7 335,2648.1 332.4,2648C329.7,2647.9 327.1,2647.2 324.5,2646.7C321.8,2646.2 319.5,2645.5 316.6,2645.1C313.7,2644.8 310.3,2644.6 307.1,2644.5C304,2644.4 300.6,2645 297.7,2644.5C294.8,2644 292.2,2642.9 289.8,2641.7C287.4,2640.4 285.1,2638.7 283.5,2637C281.9,2635.2 281.2,2633.4 280.4,2631.4C279.5,2629.5 279.4,2627.2 278.5,2625.1C277.5,2623 276.5,2620.7 274.8,2618.8C273.2,2617 270.8,2615.4 268.5,2614.1C266.3,2612.8 263.7,2612.1 261.4,2611C259.2,2609.8 256.8,2608.7 255.1,2607C253.5,2605.3 252.7,2603.1 251.7,2600.7C250.6,2598.4 250,2595.5 248.8,2592.8C247.7,2590.2 246.2,2587.6 244.9,2585C243.6,2582.3 242.3,2580 241.3,2577.1C240.2,2574.2 239.4,2570.8 238.6,2567.6C237.8,2564.5 237.2,2561.3 236.6,2558.2C236,2555 235.1,2551.6 235,2548.7C234.9,2545.8 235.1,2543.5 235.9,2540.8C236.7,2538.2 238.2,2535.7 239.7,2533C241.2,2530.2 243.4,2527.3 244.9,2524.3C246.4,2521.3 247.5,2518 248.8,2514.8C250.2,2511.7 251.5,2508.1 252.8,2505.4C254.1,2502.6 255.9,2500.5 256.7,2498.3C257.6,2496.1 257.7,2493.8 258,2492C258.2,2490.2 257.9,2489 258.3,2487.3Z" fill="#cccccc"/>
<path d="M281.9,2502.2C284.3,2500.7 287.2,2499.9 289.8,2498.6C292.4,2497.3 295.1,2495.5 297.7,2494.4C300.3,2493.2 303.1,2492.2 305.6,2491.7C308.1,2491.2 310.3,2491 312.7,2491.2C315,2491.4 317.3,2491.9 319.7,2492.8C322.2,2493.7 325,2495 327.6,2496.7C330.3,2498.4 332.9,2500.9 335.5,2503C338.1,2505.1 340.8,2507.3 343.4,2509.3C346,2511.4 348.6,2513.6 351.3,2515.3C353.9,2517 356.6,2518.3 359.1,2519.6C361.6,2520.8 364.1,2521.4 366.2,2522.7C368.3,2524 370,2525.6 371.7,2527.4C373.5,2529.3 374.8,2531.8 376.5,2533.8C378.2,2535.7 379.9,2537.6 382,2539.3C384.1,2541 387,2542.3 389.1,2544C391.2,2545.7 393.2,2547.4 394.6,2549.5C396,2551.6 396.8,2554.1 397.3,2556.6C397.7,2559.1 397.5,2561.8 397.3,2564.5C397.1,2567.1 396.9,2569.7 396.2,2572.4C395.5,2575 394.6,2577.9 393,2580.2C391.4,2582.6 388.7,2585 386.7,2586.5C384.7,2588.1 382.4,2588.2 381.2,2589.7C380,2591.1 379.7,2593.1 379.6,2595.2C379.6,2597.3 380.9,2600.2 380.9,2602.3C380.9,2604.4 380.9,2606.4 379.6,2607.8C378.4,2609.2 375.7,2610.1 373.3,2611C371,2611.8 368.1,2612.1 365.4,2613C362.8,2613.9 359.9,2614.8 357.6,2616.2C355.2,2617.5 353.4,2619.6 351.3,2621.2C349.2,2622.8 347.1,2624.7 345,2625.6C342.9,2626.5 341,2626.8 338.7,2626.7C336.3,2626.6 333.7,2625.6 330.8,2625.1C327.9,2624.7 324.5,2624.4 321.3,2624C318.2,2623.6 314.8,2623.4 311.9,2622.8C309,2622.2 306.6,2621.6 304,2620.4C301.4,2619.2 298.7,2617.4 296.1,2615.7C293.5,2614 290.9,2611.9 288.2,2610.2C285.6,2608.5 283,2606.8 280.4,2605.4C277.7,2604.1 274.7,2603.6 272.5,2602.3C270.2,2601 268.5,2599.7 267,2597.6C265.4,2595.5 264.3,2592.3 263,2589.7C261.7,2587.1 260.3,2584.3 259.1,2581.8C257.9,2579.3 256.6,2577.3 255.9,2574.7C255.2,2572.1 254.9,2569.1 254.8,2566.1C254.8,2563 254.9,2559.5 255.5,2556.6C256,2553.7 257.2,2551.3 258,2548.7C258.7,2546.1 259.4,2543.5 259.9,2540.8C260.3,2538.2 260,2535.3 260.7,2533C261.3,2530.6 262.4,2528.8 263.8,2526.7C265.3,2524.6 267.8,2522.5 269.3,2520.4C270.9,2518.3 272.2,2516.2 273.3,2514.1C274.3,2512 274.2,2509.7 275.6,2507.8C277.1,2505.8 279.6,2503.8 281.9,2502.2Z" fill="#999999"/>
<path d="M295.3,2517.2C297.6,2515.2 299.9,2514.6 302.4,2513.7C304.9,2512.9 307.8,2512.4 310.3,2512.2C312.8,2512 315.2,2512 317.4,2512.5C319.6,2513 321.7,2514.3 323.7,2515.3C325.7,2516.4 327,2517.6 329.2,2518.8C331.4,2519.9 334.7,2521.1 337.1,2522.2C339.4,2523.4 341.3,2524.3 343.4,2525.9C345.5,2527.4 347.6,2529.4 349.7,2531.4C351.8,2533.4 354.2,2535.6 356,2537.7C357.8,2539.8 359.5,2541.6 360.4,2544C361.3,2546.4 361.5,2549.2 361.5,2551.9C361.5,2554.5 360.7,2557.1 360.4,2559.7C360.1,2562.4 359.9,2565 359.5,2567.6C359,2570.3 358.5,2573 357.6,2575.5C356.6,2578 355.3,2580.7 353.6,2582.6C351.9,2584.5 349.7,2585.7 347.3,2586.8C345,2588 341.7,2588.3 339.4,2589.4C337.2,2590.4 335.6,2591.5 333.9,2593.2C332.2,2594.8 330.8,2597.4 329.2,2599.1C327.6,2600.9 326.3,2602.8 324.5,2603.9C322.6,2605 320.3,2605.6 318.2,2605.8C316.1,2605.9 313.8,2605.5 311.9,2604.7C309.9,2603.8 308.2,2602.2 306.4,2600.4C304.5,2598.6 302.8,2595.8 300.8,2593.6C298.9,2591.4 296.9,2589.2 294.5,2587.3C292.2,2585.5 289.3,2584 286.7,2582.6C284,2581.2 280.9,2580.1 278.8,2578.7C276.7,2577.2 275.2,2575.9 274.1,2573.9C273,2572 272.4,2569.5 272.2,2566.8C272,2564.2 272.3,2561.2 272.8,2558.2C273.2,2555.2 274,2551.7 274.8,2548.7C275.7,2545.7 276.7,2542.7 278,2540.1C279.3,2537.4 280.9,2535.3 282.7,2533C284.6,2530.6 286.9,2528.5 289,2525.9C291.1,2523.2 293.1,2519.2 295.3,2517.2Z" fill="#666666"/>
<path d="M307.1,2547.1C309.5,2546.5 312.4,2545.8 315,2544.8C317.6,2543.7 320.5,2542 322.9,2540.8C325.3,2539.7 327.2,2538.2 329.2,2537.7C331.2,2537.2 333.2,2537.2 334.7,2538C336.2,2538.8 337.7,2540.4 338.3,2542.4C338.9,2544.5 338.6,2547.7 338.3,2550.3C338.1,2552.9 337.4,2555.5 337.1,2558.2C336.7,2560.8 336.7,2563.7 336.3,2566.1C335.9,2568.4 335.8,2570.5 334.7,2572.4C333.7,2574.2 331.7,2575.6 330,2577.1C328.3,2578.5 326.4,2580 324.5,2581C322.5,2582 320.1,2582.9 318.2,2583.1C316.2,2583.2 314.8,2582.5 312.7,2581.8C310.6,2581.1 308.1,2579.7 305.6,2578.7C303.1,2577.6 299.9,2576.8 297.7,2575.5C295.5,2574.2 293.5,2572.5 292.2,2570.8C290.9,2569.1 289.9,2567.4 289.8,2565.3C289.7,2563.2 290.5,2560.4 291.4,2558.2C292.3,2555.9 293.8,2553.4 295.3,2551.9C296.9,2550.3 298.9,2549.5 300.8,2548.7C302.8,2547.9 304.8,2547.8 307.1,2547.1Z" fill="#000000"/>
<path d="M703,2488.8C704.9,2486.6 707,2484.4 709.3,2482.5C711.7,2480.7 714.6,2479 717.2,2477.8C719.8,2476.6 722.2,2476 725.1,2475.5C728,2474.9 731.6,2474.7 734.5,2474.3C737.4,2474 739.9,2473.8 742.4,2473.1C744.9,2472.4 747.3,2470.8 749.5,2469.9C751.7,2469.1 753.7,2468.1 755.8,2468C757.9,2468 760.1,2468.7 762.1,2469.6C764.1,2470.6 765.7,2472.5 767.6,2473.9C769.6,2475.2 772,2476.4 773.9,2477.8C775.9,2479.3 778,2480.7 779.4,2482.5C780.9,2484.4 781.7,2486.7 782.6,2488.8C783.5,2490.9 783.8,2493.4 785,2495.1C786.1,2496.9 787.6,2498.3 789.7,2499.6C791.8,2500.8 795.1,2501.6 797.6,2502.7C800.1,2503.8 802.6,2504.8 804.7,2506.2C806.8,2507.5 808.7,2508.9 810.2,2510.9C811.6,2512.9 812.3,2515.5 813.3,2518C814.4,2520.5 815.2,2523.4 816.5,2525.9C817.8,2528.4 819.2,2530.9 821.2,2533C823.2,2535 825.9,2536.5 828.3,2538C830.7,2539.5 833.4,2540.4 835.4,2542.1C837.3,2543.8 839,2545.6 840.1,2547.9C841.2,2550.2 841.9,2553.1 842,2555.8C842,2558.6 840.9,2561.6 840.4,2564.5C839.9,2567.4 839.6,2570.4 838.8,2573.1C838.1,2575.9 837.4,2578.7 836.2,2581C834.9,2583.4 832.9,2585.2 831.4,2587.3C830,2589.4 828.7,2591.3 827.5,2593.6C826.3,2596 825.8,2599.3 824.3,2601.5C822.9,2603.7 820.7,2605.2 818.8,2607C817,2608.9 814.8,2610.4 813.3,2612.5C811.9,2614.6 811.1,2617 810.2,2619.6C809.2,2622.2 808.9,2625.8 807.8,2628.3C806.8,2630.8 805.6,2633.1 803.9,2634.6C802.2,2636 799.9,2636.6 797.6,2637C795.2,2637.3 792.3,2636.8 789.7,2636.6C787.1,2636.5 784.4,2635.9 781.8,2636.2C779.2,2636.4 776.6,2637.2 773.9,2638.2C771.3,2639.3 768.4,2641 766.1,2642.5C763.7,2644 761.8,2646 759.7,2647.2C757.6,2648.4 755.5,2649.3 753.4,2649.9C751.3,2650.4 749.5,2650.6 747.1,2650.3C744.8,2650.1 741.9,2649 739.3,2648.3C736.6,2647.6 734.3,2646.9 731.4,2646.4C728.5,2645.9 725.1,2645.9 721.9,2645.1C718.8,2644.4 715.6,2643.2 712.5,2641.7C709.3,2640.2 706,2638.1 703,2636.2C700,2634.3 696.9,2632.4 694.4,2630.3C691.9,2628.2 689.8,2626.1 688.1,2623.6C686.3,2621 685.4,2617.9 684.1,2614.9C682.8,2611.9 681.4,2608.6 680.2,2605.4C679,2602.3 678,2599.1 677,2596C676.1,2592.8 675.3,2589.7 674.3,2586.5C673.4,2583.4 672.4,2580.2 671.5,2577.1C670.6,2573.9 669.3,2570.8 669.1,2567.6C669,2564.5 670.1,2561.3 670.7,2558.2C671.4,2555 672.4,2552.1 673.1,2548.7C673.7,2545.3 674,2541.4 674.7,2537.7C675.3,2534 676.1,2530.1 677,2526.7C677.9,2523.2 678.7,2520.1 680.2,2517.2C681.6,2514.3 683.7,2511.7 685.7,2509.3C687.7,2507 689.9,2505.3 692,2503C694.1,2500.8 696.5,2498.3 698.3,2495.9C700.1,2493.6 701.2,2491.1 703,2488.8Z" fill="#cccccc"/>
<path d="M716.4,2500.7C718,2500.1 721,2500 723.5,2499.9C726,2499.7 728.8,2500.1 731.4,2499.9C734,2499.7 736.6,2499.3 739.3,2498.6C741.9,2498 744.5,2496.6 747.1,2495.9C749.8,2495.3 752.4,2494.8 755,2494.8C757.6,2494.9 760.5,2495.4 762.9,2496.4C765.3,2497.4 767.1,2499 769.2,2500.7C771.3,2502.3 773.4,2504.5 775.5,2506.2C777.6,2507.8 779.7,2509.3 781.8,2510.6C783.9,2511.8 786.1,2512.5 788.1,2513.7C790.1,2515 791.9,2516.1 793.6,2518C795.3,2519.9 796.6,2522.6 798.4,2525.1C800.1,2527.6 802,2530.3 803.9,2533C805.7,2535.6 807.8,2538.3 809.4,2540.8C811,2543.3 812.5,2545.7 813.3,2547.9C814.1,2550.2 814.5,2552.1 814.1,2554.2C813.7,2556.3 812.3,2558.6 811,2560.5C809.6,2562.5 807.5,2563.9 806.2,2566.1C805,2568.2 804.2,2570.8 803.6,2573.1C802.9,2575.5 803,2577.9 802.3,2580.2C801.6,2582.6 800.4,2585.1 799.1,2587.3C797.9,2589.6 795.7,2591.4 794.7,2593.6C793.7,2595.9 793.6,2598.4 793.2,2600.7C792.7,2603.1 793,2605.8 792,2607.8C791.1,2609.8 789.3,2611.2 787.3,2612.5C785.4,2613.8 782.7,2614.6 780.2,2615.7C777.7,2616.7 775,2617.8 772.4,2618.8C769.7,2619.9 767.1,2621.1 764.5,2622C761.8,2622.9 759.2,2623.5 756.6,2624C754,2624.6 751.3,2625.1 748.7,2625.1C746.1,2625.1 743.7,2624.4 740.8,2624C738,2623.6 734.5,2623.4 731.4,2622.8C728.2,2622.2 725.1,2621.3 721.9,2620.4C718.8,2619.5 715.5,2618.3 712.5,2617.3C709.5,2616.2 706.2,2615.4 703.8,2614.1C701.4,2612.8 699.6,2611.3 698.3,2609.4C697,2607.4 696.3,2604.8 695.9,2602.3C695.5,2599.8 696.2,2596.9 695.9,2594.4C695.7,2591.9 695.4,2589.6 694.4,2587.3C693.3,2585.1 691.2,2583.3 689.6,2581C688.1,2578.8 685.9,2576.4 684.9,2573.9C683.9,2571.4 683.6,2568.8 683.8,2566.1C684,2563.3 685.2,2560.3 686,2557.4C686.8,2554.5 687.8,2551.7 688.5,2548.7C689.2,2545.7 689.5,2542.3 690.1,2539.3C690.7,2536.2 691,2533.2 692,2530.6C693,2528 694.2,2525.5 695.9,2523.5C697.6,2521.5 700.1,2520.4 702.2,2518.8C704.3,2517.2 707,2515.9 708.5,2514.1C710.1,2512.2 710.8,2509.6 711.7,2507.8C712.6,2505.9 713.3,2504.2 714.1,2503C714.8,2501.8 714.8,2501.2 716.4,2500.7Z" fill="#999999"/>
<path d="M718.8,2523.5C720.6,2522.7 724,2521.9 726.7,2521.6C729.3,2521.3 731.9,2521.6 734.5,2521.6C737.2,2521.7 740.1,2522.1 742.4,2521.9C744.8,2521.7 746.7,2521.2 748.7,2520.4C750.7,2519.5 752.4,2517.8 754.2,2516.9C756.1,2516 758,2514.8 759.7,2514.8C761.5,2514.9 762.6,2515.9 764.5,2517.2C766.3,2518.5 768.7,2521 770.8,2522.7C772.9,2524.4 775.2,2525.9 777.1,2527.4C778.9,2529 780.8,2530.2 781.8,2532.2C782.8,2534.1 782.8,2536.8 783.1,2539.3C783.3,2541.8 783,2544.5 783.4,2547.1C783.8,2549.8 784.9,2552.4 785.3,2555C785.7,2557.6 786.1,2560.3 785.7,2562.9C785.4,2565.5 784.6,2568.3 783.4,2570.8C782.2,2573.3 780.5,2575.6 778.7,2577.9C776.8,2580.1 774.2,2582.2 772.4,2584.2C770.5,2586.1 768.9,2587.6 767.6,2589.7C766.3,2591.8 765.7,2594.7 764.5,2596.8C763.3,2598.9 762.1,2601.1 760.5,2602.3C759,2603.5 757,2603.9 755,2603.9C753.1,2603.8 751.1,2602.9 748.7,2602C746.4,2601.1 743.5,2599.3 740.8,2598.4C738.2,2597.4 735.6,2596.5 733,2596C730.3,2595.5 727.7,2595.6 725.1,2595.2C722.5,2594.8 719.4,2594.7 717.2,2593.6C715,2592.6 713.3,2591 711.7,2588.9C710.1,2586.8 709.2,2583.5 707.8,2581C706.3,2578.5 704.3,2576.3 703,2573.9C701.8,2571.6 700.5,2569.5 700.2,2566.8C699.9,2564.2 701,2561.2 701.4,2558.2C701.9,2555.2 702.4,2551.9 703,2548.7C703.7,2545.6 704.2,2542 705.4,2539.3C706.6,2536.5 708.4,2534.3 710.1,2532.2C711.8,2530.1 714.2,2528.1 715.6,2526.7C717.1,2525.2 716.9,2524.3 718.8,2523.5Z" fill="#666666"/>
<path d="M725.1,2545.6C727.1,2544.9 730.3,2545.6 733,2544.8C735.6,2544 738.2,2542 740.8,2540.8C743.5,2539.7 746.5,2538.3 748.7,2538C751,2537.7 752.8,2538.3 754.2,2539.3C755.7,2540.3 756.3,2542 757.4,2544C758.4,2546 759.4,2548.7 760.5,2551.1C761.7,2553.4 763.3,2555.9 764.5,2558.2C765.7,2560.4 767.4,2562.4 767.6,2564.5C767.9,2566.6 767.1,2568.9 766.1,2570.8C765,2572.6 763.2,2574.1 761.3,2575.5C759.5,2576.9 757.1,2577.8 755,2579C752.9,2580.2 750.8,2581.8 748.7,2582.6C746.6,2583.4 744.6,2583.8 742.4,2583.7C740.2,2583.6 737.4,2582.9 735.3,2581.8C733.2,2580.8 731.1,2579.1 729.8,2577.4C728.5,2575.7 727.8,2573.7 727.4,2571.6C727.1,2569.4 728.3,2566.6 727.9,2564.5C727.5,2562.4 726.2,2560.7 725.1,2559C724,2557.3 721.9,2555.9 721.1,2554.2C720.4,2552.5 720,2550.2 720.7,2548.7C721.3,2547.3 723,2546.2 725.1,2545.6Z" fill="#000000"/>
<path d="M1212.2,2521.9C1213.8,2521.3 1215.7,2520.9 1217.8,2520.4C1219.9,2519.8 1222.6,2519.4 1224.8,2518.5C1227.1,2517.5 1229,2516.4 1231.1,2514.8C1233.2,2513.3 1235.3,2511.3 1237.4,2509.3C1239.5,2507.4 1241.5,2505 1243.8,2503C1246,2501.1 1248.3,2499.2 1250.8,2497.5C1253.3,2495.8 1256.1,2494.4 1258.7,2492.8C1261.3,2491.2 1264,2489.4 1266.6,2488.1C1269.2,2486.7 1271.8,2485.8 1274.5,2484.9C1277.1,2484 1279.7,2483.1 1282.4,2482.5C1285,2482 1287.5,2481.8 1290.2,2481.8C1293,2481.7 1296.4,2482.6 1298.9,2482.2C1301.4,2481.8 1303.2,2480.6 1305.2,2479.4C1307.2,2478.2 1308.7,2476.2 1310.7,2475C1312.7,2473.7 1314.7,2472.5 1317,2471.8C1319.4,2471.1 1322.3,2470.8 1324.9,2470.7C1327.5,2470.6 1330.3,2470.6 1332.8,2471.2C1335.3,2471.8 1337.6,2473 1339.9,2474.3C1342.1,2475.7 1344.5,2477.5 1346.2,2479.4C1347.9,2481.3 1349.1,2483.3 1350.1,2485.7C1351.2,2488.1 1351.7,2491.1 1352.5,2493.6C1353.3,2496.1 1353.9,2498.3 1354.8,2500.7C1355.8,2503 1357.2,2505.4 1358.3,2507.8C1359.3,2510.1 1359.9,2512.9 1361.1,2514.8C1362.4,2516.8 1364.2,2518.5 1365.9,2519.6C1367.6,2520.6 1369.9,2520.4 1371.4,2521.1C1372.8,2521.9 1373.9,2522.6 1374.5,2524.3C1375.2,2526 1375.2,2529 1375.3,2531.4C1375.4,2533.8 1375,2536.1 1375.3,2538.5C1375.6,2540.8 1376.7,2543.1 1377.2,2545.6C1377.7,2548.1 1378.2,2550.6 1378.2,2553.4C1378.1,2556.3 1377.1,2559.7 1376.9,2562.9C1376.7,2566.1 1376.9,2569.3 1376.9,2572.4C1376.9,2575.4 1377.4,2578.4 1376.9,2581C1376.4,2583.6 1375.2,2585.9 1373.7,2588.1C1372.3,2590.3 1370.3,2592.4 1368.2,2594.4C1366.1,2596.4 1363.6,2598.2 1361.1,2599.9C1358.6,2601.6 1355.5,2602.8 1353.3,2604.7C1351,2606.5 1349.4,2608.7 1347.7,2611C1346,2613.2 1344.9,2616.2 1343,2618C1341.2,2619.9 1339.1,2621.2 1336.7,2622C1334.3,2622.8 1331.5,2622.7 1328.8,2622.8C1326.2,2622.9 1323.3,2621.9 1321,2622.5C1318.6,2623 1316.6,2624.4 1314.7,2625.9C1312.7,2627.4 1310.7,2629.2 1309.1,2631.4C1307.6,2633.7 1306.5,2637 1305.2,2639.3C1303.9,2641.7 1303,2643.8 1301.3,2645.6C1299.6,2647.5 1297.3,2649.2 1295,2650.3C1292.6,2651.5 1289.7,2652 1287.1,2652.4C1284.5,2652.8 1281.8,2653 1279.2,2652.7C1276.6,2652.4 1273.9,2651.7 1271.3,2650.8C1268.7,2649.9 1266.1,2648.5 1263.4,2647.2C1260.8,2645.9 1258.2,2644.6 1255.6,2643.3C1252.9,2641.9 1250.3,2640.3 1247.7,2639.3C1245.1,2638.3 1242.4,2637.5 1239.8,2637.3C1237.2,2637.1 1234.3,2637.6 1231.9,2638.2C1229.6,2638.8 1227.5,2640.3 1225.6,2640.9C1223.8,2641.5 1222.6,2642.2 1220.9,2641.7C1219.2,2641.2 1217.2,2639.4 1215.4,2637.7C1213.6,2636 1211.3,2633.8 1209.9,2631.4C1208.4,2629.1 1207.5,2626.3 1206.7,2623.6C1205.9,2620.8 1206.1,2617.5 1205.1,2614.9C1204.2,2612.3 1202.5,2610.2 1201.2,2607.8C1199.9,2605.4 1197.9,2603.1 1197.3,2600.7C1196.7,2598.4 1196.9,2596 1197.6,2593.6C1198.2,2591.3 1200.5,2588.6 1201.2,2586.5C1201.9,2584.4 1201.9,2583.6 1201.7,2581C1201.4,2578.4 1200,2574.1 1199.6,2570.8C1199.3,2567.5 1199.2,2564.5 1199.6,2561.3C1200,2558.2 1201.1,2554.9 1202,2551.9C1202.9,2548.8 1204.4,2545.8 1205.1,2543.2C1205.9,2540.6 1206.3,2538.3 1206.4,2536.1C1206.5,2533.9 1205.6,2531.8 1205.9,2529.8C1206.2,2527.8 1207.2,2525.6 1208.3,2524.3C1209.3,2523 1210.7,2522.6 1212.2,2521.9Z" fill="#cccccc"/>
<path d="M1243,2519.6C1245.1,2518 1248.2,2517.2 1250.8,2515.6C1253.5,2514.1 1256.4,2512 1258.7,2510.1C1261.1,2508.3 1262.9,2506.2 1265,2504.6C1267.1,2503 1269.2,2501.6 1271.3,2500.7C1273.4,2499.7 1275,2499.4 1277.6,2499.1C1280.3,2498.7 1283.9,2498.7 1287.1,2498.6C1290.2,2498.5 1293.4,2498.7 1296.5,2498.6C1299.7,2498.6 1303.1,2498.6 1306,2498.3C1308.9,2498 1311.4,2497 1313.9,2496.7C1316.4,2496.5 1318.9,2496.2 1321,2496.7C1323.1,2497.2 1324.5,2498.6 1326.5,2499.9C1328.4,2501.2 1330.7,2503.2 1332.8,2504.6C1334.9,2506 1337.4,2506.6 1339.1,2508.1C1340.8,2509.5 1342.3,2511.2 1343,2513.3C1343.8,2515.3 1343.6,2517.9 1343.5,2520.4C1343.4,2522.9 1342.3,2525.6 1342.2,2528.2C1342.1,2530.9 1342.2,2533.8 1343,2536.1C1343.8,2538.5 1345.5,2540.3 1347,2542.4C1348.4,2544.5 1350.9,2546.7 1351.7,2548.7C1352.5,2550.7 1352.3,2552.1 1351.7,2554.2C1351,2556.3 1348.7,2558.8 1347.7,2561.3C1346.7,2563.8 1346.1,2566.3 1345.7,2569.2C1345.3,2572.1 1345.6,2575.8 1345.4,2578.7C1345.2,2581.5 1345.2,2584.2 1344.6,2586.5C1343.9,2588.9 1342.9,2591.1 1341.4,2592.8C1340,2594.5 1337.9,2595.5 1335.9,2596.8C1334,2598.1 1332,2599.1 1329.6,2600.7C1327.3,2602.3 1324.4,2604.5 1321.7,2606.2C1319.1,2607.9 1316.5,2609.6 1313.9,2611C1311.2,2612.3 1308.6,2613.3 1306,2614.6C1303.4,2615.9 1300.2,2617.3 1298.1,2618.8C1296,2620.3 1294.6,2621.7 1293.4,2623.6C1292.2,2625.4 1292.2,2628.2 1291,2629.9C1289.8,2631.6 1288.1,2633.3 1286.3,2633.8C1284.5,2634.3 1282.4,2633.9 1280,2633C1277.6,2632.2 1274.7,2630.2 1272.1,2628.8C1269.5,2627.3 1266.9,2625.5 1264.2,2624.3C1261.6,2623.2 1259.1,2622.8 1256.4,2622C1253.6,2621.2 1250.4,2620.4 1247.7,2619.6C1244.9,2618.8 1242,2618.4 1239.8,2617.3C1237.6,2616.1 1235.7,2614.5 1234.3,2612.5C1232.9,2610.6 1232.3,2607.9 1231.6,2605.4C1231,2602.9 1231.2,2600.1 1230.4,2597.6C1229.5,2595.1 1227.9,2593 1226.4,2590.5C1225,2588 1222.9,2585.4 1221.7,2582.6C1220.5,2579.8 1219.9,2576.9 1219.3,2573.9C1218.8,2570.9 1218.5,2567.4 1218.5,2564.5C1218.5,2561.6 1218.5,2559.1 1219.3,2556.6C1220.1,2554.1 1221.7,2552 1223.3,2549.5C1224.8,2547 1226.9,2544.4 1228.8,2541.6C1230.6,2538.9 1232.7,2535.7 1234.3,2533C1235.9,2530.2 1236.8,2527.3 1238.2,2525.1C1239.7,2522.9 1240.9,2521.1 1243,2519.6Z" fill="#999999"/>
<path d="M1242.2,2545.6C1244,2543.9 1246.8,2541.4 1249.3,2539.3C1251.8,2537.2 1254.5,2535.1 1257.1,2533C1259.8,2530.9 1262.5,2528.5 1265,2526.7C1267.5,2524.8 1269.9,2522.9 1272.1,2521.9C1274.3,2520.9 1276.2,2520.7 1278.4,2520.7C1280.6,2520.6 1283,2521.7 1285.5,2521.6C1288,2521.6 1290.8,2520.9 1293.4,2520.4C1296,2519.8 1298.8,2518.9 1301.3,2518.5C1303.8,2518 1306.2,2517.5 1308.4,2517.5C1310.5,2517.6 1312,2517.7 1313.9,2518.8C1315.7,2519.9 1317.7,2522.3 1319.4,2524.3C1321.1,2526.3 1323,2528.4 1324.1,2530.6C1325.2,2532.8 1325.9,2535.2 1326.2,2537.7C1326.4,2540.2 1325.8,2542.9 1325.7,2545.6C1325.6,2548.2 1325.4,2550.8 1325.7,2553.4C1325.9,2556.1 1327.1,2558.7 1327.3,2561.3C1327.4,2563.9 1327.1,2566.7 1326.5,2569.2C1325.8,2571.7 1324.6,2573.8 1323.3,2576.3C1322,2578.8 1320.2,2581.8 1318.6,2584.2C1317,2586.5 1315.7,2589 1313.9,2590.5C1312,2591.9 1309.9,2592.4 1307.6,2592.8C1305.2,2593.2 1302.3,2592.6 1299.7,2592.8C1297.1,2593.1 1294.4,2593.9 1291.8,2594.4C1289.2,2594.9 1286.6,2595.5 1283.9,2595.7C1281.3,2595.8 1278.5,2595 1276.1,2595.2C1273.6,2595.4 1271.1,2596.5 1269,2596.8C1266.9,2597 1265.4,2597.3 1263.4,2596.8C1261.5,2596.2 1259.4,2595.1 1257.1,2593.6C1254.9,2592.2 1252.3,2590.2 1250.1,2588.1C1247.8,2586 1245.5,2583.5 1243.8,2581C1242,2578.5 1240.7,2575.9 1239.8,2573.1C1238.9,2570.4 1238.8,2567.5 1238.2,2564.5C1237.7,2561.5 1236.7,2557.5 1236.7,2555C1236.7,2552.5 1237.3,2551.1 1238.2,2549.5C1239.2,2547.9 1240.3,2547.3 1242.2,2545.6Z" fill="#666666"/>
<path d="M1265,2540.8C1266.1,2539.7 1268,2537.7 1269.7,2536.9C1271.5,2536.1 1273.4,2535.9 1275.3,2536.1C1277.1,2536.3 1278.8,2537.1 1280.8,2538C1282.7,2538.9 1285.1,2540.2 1287.1,2541.6C1289,2543 1291,2544.5 1292.6,2546.4C1294.2,2548.2 1295,2550.7 1296.5,2552.7C1298.1,2554.6 1300.5,2556.5 1302,2558.2C1303.6,2559.9 1305.2,2561.2 1306,2562.9C1306.8,2564.6 1307.2,2566.7 1306.8,2568.4C1306.4,2570.1 1305.3,2572.1 1303.6,2573.1C1301.9,2574.2 1299,2574.2 1296.5,2574.7C1294,2575.2 1291.2,2575.8 1288.7,2576.3C1286.2,2576.7 1283.9,2577.4 1281.6,2577.4C1279.2,2577.4 1276.8,2576.7 1274.5,2576.3C1272.1,2575.8 1269.7,2575.1 1267.4,2574.7C1265,2574.3 1262.1,2574.8 1260.3,2573.9C1258.5,2573 1257,2571 1256.4,2569.2C1255.7,2567.4 1256,2565 1256.4,2562.9C1256.7,2560.8 1257.9,2558.8 1258.7,2556.6C1259.5,2554.4 1260.3,2551.6 1261.1,2549.5C1261.9,2547.4 1262.8,2545.4 1263.4,2544C1264.1,2542.5 1264,2542 1265,2540.8Z" fill="#000000"/>
<path d="M1946.9,2469.5C1948.4,2469.1 1949.6,2470.3 1950.7,2471.4C1951.9,2472.6 1952.8,2474.4 1953.6,2476.6C1954.4,2478.7 1955.1,2481.3 1955.6,2484.3C1956.1,2487.3 1956.4,2491 1956.7,2494.6C1956.9,2498.2 1957.2,2502.1 1957.2,2506.2C1957.1,2510.2 1956.8,2514.7 1956.5,2519C1956.3,2523.3 1956.1,2527.6 1955.6,2531.9C1955.2,2536.2 1954.6,2540.5 1954,2544.8C1953.3,2549 1952.5,2553.3 1951.8,2557.6C1951,2561.9 1950.4,2566 1949.5,2570.5C1948.5,2575 1947.3,2580.1 1946.2,2584.6C1945.2,2589.1 1944.2,2593.4 1943,2597.5C1941.8,2601.6 1940.5,2605.2 1939.2,2609.1C1937.9,2612.9 1936.6,2617 1935.3,2620.6C1934,2624.3 1932.8,2627.7 1931.4,2630.9C1930.1,2634.1 1928.6,2637.1 1926.9,2639.9C1925.3,2642.7 1923.5,2645.7 1921.8,2647.7C1920.2,2649.6 1918.5,2651.2 1917,2651.5C1915.5,2651.8 1914,2650.9 1912.8,2649.6C1911.6,2648.3 1910.6,2646.3 1909.8,2643.8C1909,2641.3 1908.5,2638.2 1908,2634.8C1907.6,2631.4 1907.2,2627.3 1907,2623.2C1906.8,2619.1 1906.8,2614.6 1907,2610.4C1907.2,2606.1 1907.7,2601.8 1908,2597.5C1908.4,2593.2 1908.9,2589.1 1909.3,2584.6C1909.8,2580.1 1910.2,2575.2 1910.9,2570.5C1911.5,2565.8 1912.3,2561.1 1913.2,2556.3C1914,2551.6 1915,2546.7 1916,2542.2C1917,2537.7 1918.2,2533.6 1919.2,2529.3C1920.3,2525 1921.2,2520.5 1922.4,2516.5C1923.7,2512.4 1925.1,2508.7 1926.6,2504.9C1928.1,2501 1929.8,2497 1931.4,2493.3C1933.1,2489.7 1934.9,2486.2 1936.6,2483C1938.3,2479.8 1940,2476.3 1941.7,2474C1943.5,2471.8 1945.4,2469.9 1946.9,2469.5Z" fill="#cccccc"/>
<path d="M1942.8,2496.9C1944.2,2496.7 1945.8,2498 1946.9,2499.7C1948,2501.5 1948.7,2504.5 1949.2,2507.5C1949.7,2510.5 1949.9,2514.1 1950.1,2517.7C1950.2,2521.4 1950.3,2525.3 1950.1,2529.3C1949.9,2533.4 1949.3,2537.9 1948.8,2542.2C1948.3,2546.5 1947.6,2550.8 1946.9,2555C1946.1,2559.3 1945.2,2563.6 1944.3,2567.9C1943.4,2572.2 1942.6,2576.7 1941.5,2580.8C1940.4,2584.8 1939.1,2588.7 1937.9,2592.3C1936.6,2596 1935.4,2599.2 1934,2602.6C1932.6,2606.1 1931,2609.7 1929.5,2612.9C1928,2616.1 1926.5,2619.6 1925,2621.9C1923.6,2624.3 1922.2,2626.6 1920.9,2627.1C1919.6,2627.5 1918.3,2626.2 1917.3,2624.5C1916.3,2622.8 1915.5,2619.8 1915,2616.8C1914.4,2613.8 1914.2,2610.1 1914.1,2606.5C1914,2602.9 1914.3,2598.8 1914.5,2594.9C1914.7,2591.1 1914.9,2587.4 1915.4,2583.3C1915.8,2579.3 1916.6,2574.8 1917.3,2570.5C1918,2566.2 1918.8,2561.9 1919.6,2557.6C1920.5,2553.3 1921.4,2548.8 1922.4,2544.8C1923.5,2540.7 1924.5,2537 1925.7,2533.2C1926.8,2529.3 1928.1,2525.5 1929.5,2521.6C1930.9,2517.7 1932.5,2513.5 1934,2510C1935.5,2506.6 1937.1,2503.2 1938.5,2501C1940,2498.8 1941.4,2497.1 1942.8,2496.9Z" fill="#999999"/>
<path d="M1938.5,2518.8C1940,2518.3 1941.8,2520.7 1942.8,2522.9C1943.7,2525.1 1943.9,2528.7 1944.1,2531.9C1944.2,2535.1 1943.9,2538.5 1943.7,2542.2C1943.4,2545.8 1943,2549.9 1942.4,2553.8C1941.8,2557.6 1941.1,2561.5 1940.2,2565.3C1939.3,2569.2 1938.4,2573.3 1937.2,2576.9C1936.1,2580.6 1934.8,2584 1933.4,2587.2C1932,2590.4 1930.2,2593.4 1928.9,2596.2C1927.5,2599 1926.4,2603.3 1925.3,2603.9C1924.2,2604.6 1922.9,2602.2 1922.2,2600.1C1921.5,2597.9 1921.2,2594.3 1920.9,2591.1C1920.6,2587.8 1920.4,2584.4 1920.5,2580.8C1920.6,2577.1 1920.9,2573.1 1921.4,2569.2C1921.9,2565.3 1922.7,2561.5 1923.5,2557.6C1924.3,2553.8 1925.2,2549.9 1926.3,2546C1927.4,2542.2 1928.6,2537.9 1929.9,2534.5C1931.2,2531 1932.6,2528.1 1934,2525.5C1935.5,2522.9 1937.1,2519.2 1938.5,2518.8Z" fill="#666666"/>
<path d="M1934.3,2539C1935.5,2538.8 1937.1,2541.4 1937.9,2543.5C1938.6,2545.5 1938.9,2548.4 1938.9,2551.2C1938.9,2554 1938.2,2557.2 1937.6,2560.2C1937.1,2563.2 1936.4,2566.4 1935.6,2569.2C1934.7,2572 1933.7,2575 1932.7,2576.9C1931.7,2578.8 1930.6,2580.7 1929.5,2580.8C1928.4,2580.9 1927.1,2579.3 1926.3,2577.6C1925.6,2575.8 1925.1,2573.2 1925,2570.5C1925,2567.8 1925.5,2564.5 1926,2561.5C1926.6,2558.5 1927.4,2555.3 1928.2,2552.5C1929,2549.7 1929.8,2547 1930.8,2544.8C1931.8,2542.5 1933.1,2539.2 1934.3,2539Z" fill="#000000"/>
<path d="M2183.7,2472.3C2184.3,2470.4 2185.1,2469.5 2186.1,2468.7C2187,2467.8 2188,2467.1 2189.2,2467.1C2190.4,2467.1 2192,2467.6 2193.1,2468.7C2194.3,2469.7 2195.2,2471.7 2196.3,2473.4C2197.3,2475.1 2198.4,2477.3 2199.4,2479.1C2200.5,2480.8 2201.4,2482.6 2202.6,2483.8C2203.8,2485 2205.1,2485.7 2206.5,2486C2208,2486.3 2209.7,2486.3 2211.3,2485.7C2212.8,2485.1 2214.3,2483.6 2216,2482.5C2217.7,2481.4 2219.5,2479.9 2221.5,2479.1C2223.5,2478.2 2225.7,2477.6 2227.8,2477.5C2229.9,2477.4 2231.9,2477.8 2234.1,2478.6C2236.3,2479.4 2238.7,2481 2241.2,2482.2C2243.7,2483.4 2246.4,2484.5 2249.1,2485.7C2251.7,2486.8 2254.6,2487.8 2257,2489.2C2259.3,2490.5 2261.5,2491.9 2263.3,2493.6C2265,2495.2 2266.1,2497 2267.2,2499.1C2268.2,2501.2 2268.8,2503.7 2269.6,2506.2C2270.3,2508.7 2270.9,2511.3 2271.9,2514.1C2273,2516.8 2274.7,2519.8 2275.9,2522.7C2277,2525.6 2278.1,2528.4 2279,2531.4C2279.9,2534.4 2280.7,2537.7 2281.4,2540.8C2282,2544 2282.8,2547.1 2283,2550.3C2283.1,2553.4 2282.3,2556.5 2282.5,2559.7C2282.6,2563 2283.9,2567.2 2283.7,2570C2283.6,2572.7 2282.4,2574.3 2281.4,2576.3C2280.3,2578.3 2278.5,2579.7 2277.4,2581.8C2276.4,2583.9 2276,2586.4 2275.1,2588.9C2274.2,2591.4 2273.4,2594.1 2271.9,2596.8C2270.5,2599.4 2268.4,2602.2 2266.4,2604.7C2264.4,2607.1 2262.1,2609.4 2260.1,2611.7C2258.1,2614.1 2255.9,2616.5 2254.6,2618.8C2253.3,2621.2 2252.8,2623.4 2252.2,2625.9C2251.7,2628.4 2252.1,2631.4 2251.4,2633.8C2250.8,2636.2 2250,2638.7 2248.3,2640.1C2246.6,2641.5 2243.7,2642.3 2241.2,2642.5C2238.7,2642.6 2235.8,2641.8 2233.3,2640.9C2230.8,2640 2228.5,2638.4 2226.2,2637C2224,2635.5 2221.8,2633.4 2219.9,2632.2C2218.1,2631 2216.9,2629.9 2215.2,2629.9C2213.5,2629.9 2211.7,2631 2209.7,2632.2C2207.7,2633.4 2205.5,2635.2 2203.4,2637C2201.3,2638.7 2199.2,2640.8 2197.1,2642.5C2195,2644.2 2192.9,2645.8 2190.8,2647.2C2188.7,2648.6 2186.6,2650.1 2184.5,2650.8C2182.4,2651.5 2180.3,2651.8 2178.2,2651.4C2176.1,2651.1 2174,2650 2171.9,2648.8C2169.8,2647.5 2167.7,2645.7 2165.6,2644C2163.5,2642.4 2161.4,2640.6 2159.3,2638.8C2157.2,2637.1 2155.1,2635.4 2153,2633.8C2150.9,2632.2 2148.8,2630.5 2146.7,2629.1C2144.6,2627.6 2142.2,2626.6 2140.4,2625.1C2138.5,2623.7 2136.9,2622.4 2135.6,2620.4C2134.3,2618.4 2133.5,2615.8 2132.5,2613.3C2131.4,2610.8 2130.2,2608.1 2129.3,2605.4C2128.5,2602.8 2128,2600.2 2127.4,2597.6C2126.9,2594.9 2126.9,2592.2 2126.2,2589.7C2125.4,2587.2 2124.2,2585 2123,2582.6C2121.8,2580.2 2120.3,2577.9 2119.1,2575.5C2117.9,2573.1 2116.7,2570.8 2115.9,2568.4C2115.1,2566.1 2114.2,2563.6 2114.4,2561.3C2114.5,2559.1 2115.4,2557.1 2116.7,2555C2118,2552.9 2120.9,2550.8 2122.2,2548.7C2123.6,2546.6 2124.3,2544.8 2124.6,2542.4C2124.9,2540.1 2124.3,2537 2123.8,2534.5C2123.3,2532 2121.7,2530.1 2121.4,2527.4C2121.2,2524.8 2121.4,2521.4 2122.2,2518.8C2123,2516.2 2124.5,2513.7 2126.2,2511.7C2127.9,2509.7 2130.1,2508.3 2132.5,2507C2134.8,2505.7 2138,2504.7 2140.4,2503.8C2142.7,2502.9 2144.6,2502.5 2146.7,2501.4C2148.8,2500.4 2150.9,2498.9 2153,2497.5C2155.1,2496.1 2157.2,2494.5 2159.3,2493.3C2161.4,2492 2163.5,2491.1 2165.6,2490.1C2167.7,2489.2 2169.8,2488.5 2171.9,2487.6C2174,2486.7 2176.5,2486.1 2178.2,2484.9C2179.9,2483.7 2181.2,2482.3 2182.1,2480.2C2183,2478.1 2183,2474.2 2183.7,2472.3Z" fill="#cccccc"/>
<path d="M2160.8,2511.7C2162.9,2510.1 2165,2508.4 2167.1,2507C2169.2,2505.5 2171.1,2504.2 2173.4,2503C2175.8,2501.9 2178.7,2500.8 2181.3,2500.2C2183.9,2499.5 2186.6,2499.2 2189.2,2499.1C2191.8,2499 2194.5,2499 2197.1,2499.6C2199.7,2500.1 2202.6,2501.3 2205,2502.2C2207.3,2503.2 2209.2,2504.3 2211.3,2505.4C2213.4,2506.5 2215.5,2508 2217.6,2509C2219.7,2510 2221.5,2510.6 2223.9,2511.2C2226.2,2511.8 2229.1,2512.3 2231.7,2512.5C2234.4,2512.7 2237,2512.3 2239.6,2512.5C2242.2,2512.6 2245.3,2512.6 2247.5,2513.3C2249.7,2513.9 2251.4,2515 2253,2516.4C2254.6,2517.9 2255.6,2520 2257,2521.9C2258.3,2523.9 2259.6,2526 2260.9,2528.2C2262.2,2530.5 2263.9,2532.7 2264.8,2535.3C2265.8,2538 2266.6,2541 2266.7,2544C2266.9,2547 2266.1,2550.3 2265.6,2553.4C2265.2,2556.6 2264.4,2560 2264,2562.9C2263.7,2565.8 2263.9,2568.2 2263.3,2570.8C2262.6,2573.4 2261.2,2576.2 2260.1,2578.7C2259.1,2581.2 2257.7,2583.3 2257,2585.7C2256.2,2588.2 2255.9,2591.1 2255.4,2593.6C2254.9,2596.1 2254.7,2598.6 2253.8,2600.7C2252.9,2602.8 2251.6,2604.7 2249.9,2606.2C2248.2,2607.8 2245.8,2609.3 2243.6,2610.2C2241.3,2611 2239,2611.3 2236.5,2611.4C2234,2611.6 2231.1,2611.2 2228.6,2611C2226.1,2610.7 2223.7,2609.9 2221.5,2609.9C2219.3,2609.8 2217.2,2609.8 2215.2,2610.5C2213.2,2611.2 2211.4,2612.6 2209.7,2614.1C2208,2615.6 2206.7,2617.7 2205,2619.6C2203.3,2621.6 2201.5,2624.2 2199.4,2625.9C2197.3,2627.6 2194.7,2629.1 2192.4,2629.9C2190,2630.7 2187.5,2630.9 2185.3,2630.7C2183,2630.4 2181.1,2629.5 2179,2628.3C2176.9,2627.1 2174.9,2625.3 2172.7,2623.6C2170.4,2621.9 2167.9,2619.9 2165.6,2618C2163.2,2616.2 2160.6,2614.5 2158.5,2612.5C2156.4,2610.6 2154.7,2608.7 2153,2606.2C2151.3,2603.7 2149.5,2600.5 2148.2,2597.6C2146.9,2594.7 2146,2591.9 2145.1,2588.9C2144.2,2585.9 2143.5,2582.6 2142.7,2579.4C2141.9,2576.3 2140.9,2573 2140.4,2570C2139.8,2567 2139.4,2564.2 2139.6,2561.3C2139.7,2558.4 2140.8,2555.5 2141.1,2552.7C2141.5,2549.8 2141.5,2547 2141.6,2544C2141.7,2541 2141.3,2537.6 2141.6,2534.5C2141.9,2531.5 2142.4,2528.2 2143.5,2525.9C2144.6,2523.5 2146.4,2521.9 2148.2,2520.4C2150.1,2518.8 2152.4,2517.9 2154.5,2516.4C2156.6,2515 2158.7,2513.3 2160.8,2511.7Z" fill="#999999"/>
<path d="M2162.4,2527.4C2164.3,2526.5 2167.7,2526.1 2170.3,2525.9C2172.9,2525.6 2175.7,2526.3 2178.2,2525.9C2180.7,2525.5 2183,2524.4 2185.3,2523.5C2187.5,2522.6 2189.6,2521 2191.6,2520.4C2193.5,2519.7 2195.2,2519.3 2197.1,2519.6C2198.9,2519.8 2200.8,2520.8 2202.6,2521.9C2204.4,2523.1 2206.4,2525 2208.1,2526.7C2209.8,2528.4 2211.3,2530.5 2212.8,2532.2C2214.4,2533.9 2215.9,2536 2217.6,2536.9C2219.3,2537.8 2221.2,2538 2223.1,2537.7C2224.9,2537.4 2226.9,2535.8 2228.6,2535.3C2230.3,2534.9 2231.6,2534.3 2233.3,2534.9C2235,2535.4 2237.1,2536.8 2238.8,2538.5C2240.5,2540.1 2242.4,2542.5 2243.6,2544.8C2244.7,2547 2245.3,2549.4 2245.9,2551.9C2246.6,2554.4 2247,2557.5 2247.5,2559.7C2248,2562 2249.3,2563.6 2249.1,2565.3C2248.8,2567 2247.2,2569.3 2245.9,2570C2244.6,2570.7 2242.8,2569.8 2241.2,2569.5C2239.6,2569.3 2237.9,2568.3 2236.5,2568.4C2235,2568.5 2233.8,2568.9 2232.5,2570C2231.2,2571 2230,2573.1 2228.6,2574.7C2227.1,2576.3 2225.7,2578.1 2223.9,2579.4C2222,2580.8 2219.7,2581.7 2217.6,2582.6C2215.5,2583.5 2213.2,2583.8 2211.3,2585C2209.3,2586.1 2207.3,2587.8 2205.7,2589.7C2204.2,2591.5 2202.9,2593.6 2201.8,2596C2200.8,2598.4 2200.2,2601.5 2199.4,2603.9C2198.7,2606.2 2198.4,2608.6 2197.1,2610.2C2195.8,2611.7 2193.5,2613.2 2191.6,2613.3C2189.6,2613.5 2187.4,2612.1 2185.3,2611C2183.2,2609.8 2181.1,2608 2179,2606.2C2176.9,2604.5 2174.9,2602.1 2172.7,2600.4C2170.4,2598.7 2167.8,2597.4 2165.6,2596C2163.3,2594.6 2160.9,2593.8 2159.3,2592C2157.6,2590.3 2156.6,2588 2155.8,2585.7C2155,2583.5 2154.6,2581.3 2154.5,2578.7C2154.5,2576 2155.4,2572.9 2155.3,2570C2155.3,2567.1 2154.6,2564.1 2154.2,2561.3C2153.8,2558.6 2153,2556.2 2153,2553.4C2152.9,2550.7 2153.2,2547.5 2153.8,2544.8C2154.3,2542 2155.2,2539.1 2156.1,2536.9C2157,2534.7 2158.2,2533 2159.3,2531.4C2160.3,2529.8 2160.6,2528.4 2162.4,2527.4Z" fill="#666666"/>
<path d="M2170.3,2547.1C2171.7,2546.6 2174.5,2546.1 2176.6,2545.6C2178.7,2545 2180.8,2544.7 2182.9,2544C2185,2543.3 2187.1,2541.9 2189.2,2541.2C2191.3,2540.4 2193.7,2539.5 2195.5,2539.6C2197.3,2539.7 2198.8,2540.4 2200.2,2541.6C2201.7,2542.9 2202.9,2545.2 2204.2,2547.1C2205.5,2549.1 2207.1,2551.2 2208.1,2553.4C2209.2,2555.7 2210.2,2558 2210.5,2560.5C2210.7,2563 2210.3,2565.9 2209.7,2568.4C2209,2570.9 2207.8,2573.3 2206.5,2575.5C2205.2,2577.7 2203.5,2580.1 2201.8,2581.8C2200.1,2583.5 2198.3,2584.8 2196.3,2585.7C2194.3,2586.7 2192.1,2587.3 2190,2587.3C2187.9,2587.3 2185.8,2586.8 2183.7,2585.7C2181.6,2584.7 2179.1,2582.9 2177.4,2581C2175.7,2579.2 2174.3,2577.1 2173.4,2574.7C2172.6,2572.4 2172.7,2569.3 2172.2,2566.8C2171.7,2564.3 2171,2562 2170.3,2559.7C2169.6,2557.5 2168.2,2555.2 2167.9,2553.4C2167.6,2551.7 2168,2550.1 2168.4,2549C2168.8,2548 2168.9,2547.7 2170.3,2547.1Z" fill="#000000"/>
</g>
<path d="M191.3,509.5L191.3,508.5L202.7,505L211.8,500.5L220.8,495.5L228.8,486.4L234.5,475.1L239,461.5L243.5,445.6L246.9,432L250.3,416.1L253.7,400.2L257.1,379.8L260.6,361.6L262.8,343.5L266.2,323.1L268.9,304.9L271.9,286.8L274.8,268.6L277.6,255L281,236.8L283.2,223.2L286.6,205.1L288.9,191.5L292.3,173.3L294.6,159.7L299.1,141.5L301.4,132.5L305.9,118.8L308.2,112L311.6,104.1L313.9,100.2L316.6,98L319.6,100.2L322.5,101.8L325.2,109.8L328.6,118.8L330.9,129.1L335.4,146.1L337.7,159.7L342.2,180.1L344.5,196L349,216.4L351.3,232.3L355.9,252.7L358.1,266.3L361.5,280L363.8,289L368.3,304.9L370.2,314L374,325.3L376.3,334.4L379.7,342.4L382.6,349.2L385.4,353.7L388.8,360.5L392.2,368.4L394.4,379.8L397.8,391.1L400.1,402.5L402.4,413.8L405.8,427.4L407.6,436.5L410.3,442.2L413.7,450.1L417.1,453.5L420.5,455.8L425.1,457.4L428.5,459.2L431.9,461.5L434.1,463.7L438.7,468.3L443.2,474L446.6,479.6L450,484.2L453.4,489.8L459.1,496.7L463.6,497.8L475,499.6L481.8,502.3L490.9,505L504.5,506.4L524.9,508.5L524.9,509.5Z" fill="#666666"/>
<line x1="248.5" y1="509.5" x2="248.5" y2="78.5" stroke="#000" stroke-width="2.8" stroke-dasharray="10.28 4.44"/>
<line x1="323.4" y1="509.5" x2="323.4" y2="78.5" stroke="#000" stroke-width="2.8" stroke-dasharray="10.28 4.44"/>
<line x1="434.4" y1="509.5" x2="434.4" y2="78.5" stroke="#000" stroke-width="2.8" stroke-dasharray="10.28 4.44"/>
<path d="M634.1,963.5L634.1,962L642.1,960.4L651.2,955.2L658,948.4L663.6,938.2L668.2,925.7L671.6,913.2L675,897.3L678.4,881.4L681.1,865.6L684.1,847.4L687.5,827L690.2,806.6L693.1,788.4L696.1,770.3L698.8,749.8L701.8,731.7L704.5,711.3L706.7,690.8L709.7,670.4L712,650L714.7,631.8L717.4,616L721,602.3L724.2,593.3L729.4,586.5L734.7,580.8L739.6,571.7L744.2,561.5L748.3,553.6L751,551.3L754.4,553.6L757.3,559.2L760.1,567.2L762.3,579.7L765.7,595.5L768,611.4L771.4,629.6L773.7,647.7L777.1,668.1L780,686.3L783.9,706.7L786.8,722.6L790.7,740.8L793.7,756.6L796.8,772.5L799.8,788.4L803.2,804.3L806.6,820.2L810,833.8L813.4,847.4L817.3,861L821.3,872.4L825.4,883.7L830.4,895.1L836.1,906.4L841.8,915.5L846.3,922.3L850.8,928L855.4,933.2L862.2,938.2L869,943.8L875.8,946.8L882.6,947.7L889.4,949.5L896.2,952.9L905.3,958.1L916.6,960.2L939.3,961.3L973.4,962.2L1030.1,962.7L1030.1,963.5Z" fill="#666666"/>
<line x1="682.5" y1="963.5" x2="682.5" y2="531.5" stroke="#000" stroke-width="2.8" stroke-dasharray="10.28 4.44"/>
<line x1="750.3" y1="963.5" x2="750.3" y2="531.5" stroke="#000" stroke-width="2.8" stroke-dasharray="10.28 4.44"/>
<line x1="850.4" y1="963.5" x2="850.4" y2="531.5" stroke="#000" stroke-width="2.8" stroke-dasharray="10.28 4.44"/>
<path d="M1122.3,1416.5L1122.3,1415.5L1138.2,1413.9L1151.8,1411.6L1163.1,1408.2L1172.2,1403.7L1179,1396.8L1184.7,1390L1189.9,1381L1194.5,1370.7L1198.3,1359.4L1202.9,1348.1L1207.4,1334.4L1211.9,1318.6L1215.3,1302.7L1218.7,1289.1L1222.1,1273.2L1224.9,1257.3L1227.8,1243.7L1230.1,1230.1L1233.5,1214.2L1235.8,1200.6L1238.5,1187L1241.4,1171.1L1243.7,1157.5L1246.7,1141.6L1248.9,1128L1251.6,1114.3L1254.4,1098.5L1257.3,1082.6L1260.3,1066.7L1263.4,1050.8L1267.1,1032.7L1270.3,1019L1273.2,1010L1276.6,1005.4L1280,1007.7L1283.4,1013.4L1286.8,1020.2L1291.4,1027L1297,1032.7L1303.4,1039L1307.2,1047.4L1310.2,1057.6L1314,1073.5L1317,1089.4L1319.7,1105.3L1322.4,1123.4L1324.7,1139.3L1327.7,1157.5L1330.6,1173.3L1333.8,1191.5L1336.7,1207.4L1339.7,1223.3L1342.9,1239.1L1345.8,1255L1348.8,1270.9L1351.9,1284.5L1355.6,1298.1L1359.4,1311.8L1363.3,1323.1L1368.5,1336.7L1373,1348.1L1377.6,1359.4L1382.1,1370.7L1387.8,1382.1L1393.5,1390L1400.3,1396.8L1408.2,1404.8L1417.3,1410.5L1426.4,1413.4L1440,1414.5L1460.4,1415.5L1460.4,1416.5Z" fill="#666666"/>
<line x1="1204.4" y1="1416.5" x2="1204.4" y2="984.5" stroke="#000" stroke-width="2.8" stroke-dasharray="10.28 4.44"/>
<line x1="1286.4" y1="1416.5" x2="1286.4" y2="984.5" stroke="#000" stroke-width="2.8" stroke-dasharray="10.28 4.44"/>
<line x1="1377.6" y1="1416.5" x2="1377.6" y2="984.5" stroke="#000" stroke-width="2.8" stroke-dasharray="10.28 4.44"/>
<path d="M1781.7,1869.5L1781.7,1868.7L1821.7,1867.6L1855,1866.4L1875,1864.7L1888.3,1862L1896.1,1859.1L1900.6,1853.6L1903.9,1844.7L1907.2,1829.1L1910.1,1809.1L1912.3,1786.9L1914.1,1764.7L1915.4,1742.4L1916.8,1720.2L1917.9,1698L1919,1675.8L1919.9,1653.6L1921,1631.3L1922.1,1609.1L1923.4,1586.9L1924.6,1564.7L1925.7,1542.4L1926.8,1520.2L1928.3,1498L1929.9,1478L1931.7,1460.2L1932.8,1458.4L1934.1,1464.7L1935.4,1478L1937.2,1498L1939,1520.2L1940.6,1542.4L1941.7,1564.7L1942.8,1586.9L1943.9,1609.1L1945,1631.3L1946.1,1653.6L1947,1675.8L1947.7,1698L1948.3,1720.2L1949.4,1742.4L1950.6,1764.7L1952.3,1786.9L1954.6,1809.1L1956.8,1829.1L1959.4,1844.7L1962.1,1855.8L1965,1862.4L1968.3,1865.8L1971,1866.9L1971,1869.5Z" fill="#666666"/>
<line x1="1898.6" y1="1869.5" x2="1898.6" y2="1437.5" stroke="#000" stroke-width="2.8" stroke-dasharray="10.28 4.44"/>
<line x1="1932.3" y1="1869.5" x2="1932.3" y2="1437.5" stroke="#000" stroke-width="2.8" stroke-dasharray="10.28 4.44"/>
<line x1="1947.4" y1="1869.5" x2="1947.4" y2="1437.5" stroke="#000" stroke-width="2.8" stroke-dasharray="10.28 4.44"/>
<path d="M2058.8,2322.5L2058.8,2321.5L2067.9,2319.4L2074.7,2315.3L2082.6,2309.7L2089.4,2306.2L2096.2,2302.8L2103.1,2296L2108.7,2287L2113.3,2276.7L2117.8,2267.7L2122.3,2256.3L2126.9,2243.8L2130.3,2231.4L2133.7,2220L2136.4,2208.7L2139.4,2190.5L2142.3,2174.6L2144.6,2156.5L2147.3,2138.3L2149.6,2120.2L2151.8,2102L2154.6,2081.6L2156.8,2063.5L2159.8,2045.3L2162.7,2027.1L2165.5,2011.3L2169.5,1990.8L2173.4,1975L2177.3,1959.1L2181.3,1945.5L2184.7,1929.6L2188.1,1916L2192.2,1911L2195,1918.2L2198.4,1931.8L2201.3,1947.7L2203.6,1965.9L2205.8,1984L2208.1,2004.5L2210.4,2022.6L2212.7,2038.5L2215.4,2049.8L2219.5,2058.9L2225.6,2062.3L2231.3,2065.7L2236.9,2071.4L2241.5,2079.3L2244.9,2088.4L2247.1,2099.8L2249.9,2113.4L2252.1,2127L2255.1,2140.6L2257.4,2156.5L2260.3,2172.4L2263,2188.3L2265.7,2204.1L2268.7,2220L2271.6,2233.6L2275.5,2247.3L2279.4,2263.1L2283.4,2276.7L2288,2288.1L2293.7,2299.4L2300.5,2307.4L2308.4,2313.1L2317.5,2317.1L2328.8,2319.9L2342.4,2321.5L2342.4,2322.5Z" fill="#666666"/>
<line x1="2117.3" y1="2322.5" x2="2117.3" y2="1891.5" stroke="#000" stroke-width="2.8" stroke-dasharray="10.28 4.44"/>
<line x1="2196.3" y1="2322.5" x2="2196.3" y2="1891.5" stroke="#000" stroke-width="2.8" stroke-dasharray="10.28 4.44"/>
<line x1="2277.5" y1="2322.5" x2="2277.5" y2="1891.5" stroke="#000" stroke-width="2.8" stroke-dasharray="10.28 4.44"/>
<path d="M2455.1,2776.5L2455.1,2775.5L2509.5,2774.5L2523.1,2772L2534.5,2768.9L2543.6,2765.2L2551.5,2759.8L2558.3,2752.3L2564,2743.2L2568.5,2733L2573.1,2721.7L2577.2,2708.1L2581,2694.4L2584.9,2680.8L2588.5,2664.9L2592.4,2651.3L2595.8,2637.7L2599.2,2621.8L2602.6,2608.2L2605.3,2592.3L2608.2,2576.4L2611.2,2560.6L2613.9,2544.7L2617.3,2528.8L2621.2,2512.9L2625.3,2497L2628.7,2483.4L2631.6,2467.5L2634.8,2451.6L2637.3,2435.8L2640,2419.9L2643,2404L2645.7,2390.4L2649.1,2379L2652.9,2370L2657,2365.4L2660.4,2365L2665,2368.8L2669.5,2376.8L2674,2388.1L2677.9,2400.6L2681.5,2415.3L2685.4,2432.4L2688.8,2451.6L2692.2,2469.8L2695.1,2488L2697.9,2503.8L2700.6,2522L2703.5,2537.9L2706.5,2556L2709.2,2571.9L2711.9,2587.8L2714.9,2603.7L2717.8,2619.6L2720.6,2635.4L2723.3,2649.1L2726.2,2662.7L2729.6,2676.3L2733,2687.6L2736.9,2699L2741,2710.3L2745.1,2721.7L2750.1,2733L2755.7,2744.4L2762.5,2754.6L2769.3,2762.5L2777.3,2768.2L2786.4,2771.6L2800,2773.9L2820.4,2775L2854.4,2775.5L2854.4,2776.5Z" fill="#666666"/>
<line x1="2577.6" y1="2776.5" x2="2577.6" y2="2344.5" stroke="#000" stroke-width="2.8" stroke-dasharray="10.28 4.44"/>
<line x1="2660.6" y1="2776.5" x2="2660.6" y2="2344.5" stroke="#000" stroke-width="2.8" stroke-dasharray="10.28 4.44"/>
<line x1="2742.5" y1="2776.5" x2="2742.5" y2="2344.5" stroke="#000" stroke-width="2.8" stroke-dasharray="10.28 4.44"/>
<g fill="none" stroke="#000" stroke-width="1.1">
<rect x="179.5" y="78.5" width="432" height="431"/>
<rect x="179.5" y="531.5" width="432" height="432"/>
<rect x="633.5" y="531.5" width="431" height="432"/>
<rect x="179.5" y="984.5" width="432" height="432"/>
<rect x="633.5" y="984.5" width="431" height="432"/>
<rect x="1086.5" y="984.5" width="432" height="432"/>
<rect x="179.5" y="1437.5" width="432" height="432"/>
<rect x="633.5" y="1437.5" width="431" height="432"/>
<rect x="1086.5" y="1437.5" width="432" height="432"/>
<rect x="1539.5" y="1437.5" width="432" height="432"/>
<rect x="179.5" y="1891.5" width="432" height="431"/>
<rect x="633.5" y="1891.5" width="431" height="431"/>
<rect x="1086.5" y="1891.5" width="432" height="431"/>
<rect x="1539.5" y="1891.5" width="432" height="431"/>
<rect x="1992.5" y="1891.5" width="432" height="431"/>
<rect x="179.5" y="2344.5" width="432" height="432"/>
<rect x="633.5" y="2344.5" width="431" height="432"/>
<rect x="1086.5" y="2344.5" width="432" height="432"/>
<rect x="1539.5" y="2344.5" width="432" height="432"/>
<rect x="1992.5" y="2344.5" width="432" height="432"/>
<rect x="2446.5" y="2344.5" width="431" height="432"/>
</g>
<path d="M213,509.5v9.5M315.7,509.5v9.5M418.3,509.5v9.5M520.9,509.5v9.5M213,963.5v9.5M315.7,963.5v9.5M418.3,963.5v9.5M520.9,963.5v9.5M179.5,858.7h-10.5M179.5,753.1h-10.5M179.5,647.5h-10.5M179.5,541.9h-10.5M736.8,963.5v9.5M842.2,963.5v9.5M947.6,963.5v9.5M1053,963.5v9.5M213,1416.5v9.5M315.7,1416.5v9.5M418.3,1416.5v9.5M520.9,1416.5v9.5M179.5,1401h-10.5M179.5,1301.2h-10.5M179.5,1201.5h-10.5M179.5,1101.7h-10.5M179.5,1002h-10.5M736.8,1416.5v9.5M842.2,1416.5v9.5M947.6,1416.5v9.5M1053,1416.5v9.5M633.5,1401h-10.5M633.5,1301.2h-10.5M633.5,1201.5h-10.5M633.5,1101.7h-10.5M633.5,1002h-10.5M1101,1416.5v9.5M1200.8,1416.5v9.5M1300.5,1416.5v9.5M1400.2,1416.5v9.5M1500,1416.5v9.5M213,1869.5v9.5M315.7,1869.5v9.5M418.3,1869.5v9.5M520.9,1869.5v9.5M179.5,1769h-10.5M179.5,1665.3h-10.5M179.5,1561.6h-10.5M179.5,1457.9h-10.5M736.8,1869.5v9.5M842.2,1869.5v9.5M947.6,1869.5v9.5M1053,1869.5v9.5M633.5,1769h-10.5M633.5,1665.3h-10.5M633.5,1561.6h-10.5M633.5,1457.9h-10.5M1101,1869.5v9.5M1200.8,1869.5v9.5M1300.5,1869.5v9.5M1400.2,1869.5v9.5M1500,1869.5v9.5M1086.5,1769h-10.5M1086.5,1665.3h-10.5M1086.5,1561.6h-10.5M1086.5,1457.9h-10.5M1638.9,1869.5v9.5M1742.6,1869.5v9.5M1846.3,1869.5v9.5M1950,1869.5v9.5M213,2322.5v9.5M315.7,2322.5v9.5M418.3,2322.5v9.5M520.9,2322.5v9.5M179.5,2304.9h-10.5M179.5,2214.8h-10.5M179.5,2124.8h-10.5M179.5,2034.8h-10.5M179.5,1944.7h-10.5M736.8,2322.5v9.5M842.2,2322.5v9.5M947.6,2322.5v9.5M1053,2322.5v9.5M633.5,2304.9h-10.5M633.5,2214.8h-10.5M633.5,2124.8h-10.5M633.5,2034.8h-10.5M633.5,1944.7h-10.5M1101,2322.5v9.5M1200.8,2322.5v9.5M1300.5,2322.5v9.5M1400.2,2322.5v9.5M1500,2322.5v9.5M1086.5,2304.9h-10.5M1086.5,2214.8h-10.5M1086.5,2124.8h-10.5M1086.5,2034.8h-10.5M1086.5,1944.7h-10.5M1638.9,2322.5v9.5M1742.6,2322.5v9.5M1846.3,2322.5v9.5M1950,2322.5v9.5M1539.5,2304.9h-10.5M1539.5,2214.8h-10.5M1539.5,2124.8h-10.5M1539.5,2034.8h-10.5M1539.5,1944.7h-10.5M2010,2322.5v9.5M2100.2,2322.5v9.5M2190.5,2322.5v9.5M2280.7,2322.5v9.5M2371,2322.5v9.5M213,2776.5v9.5M315.7,2776.5v9.5M418.3,2776.5v9.5M520.9,2776.5v9.5M179.5,2724.5h-10.5M179.5,2629h-10.5M179.5,2533.8h-10.5M179.5,2438h-10.5M736.8,2776.5v9.5M842.2,2776.5v9.5M947.6,2776.5v9.5M1053,2776.5v9.5M633.5,2724.5h-10.5M633.5,2629h-10.5M633.5,2533.8h-10.5M633.5,2438h-10.5M1101,2776.5v9.5M1200.8,2776.5v9.5M1300.5,2776.5v9.5M1400.2,2776.5v9.5M1500,2776.5v9.5M1086.5,2724.5h-10.5M1086.5,2629h-10.5M1086.5,2533.8h-10.5M1086.5,2438h-10.5M1638.9,2776.5v9.5M1742.6,2776.5v9.5M1846.3,2776.5v9.5M1950,2776.5v9.5M1539.5,2724.5h-10.5M1539.5,2629h-10.5M1539.5,2533.8h-10.5M1539.5,2438h-10.5M2010,2776.5v9.5M2100.2,2776.5v9.5M2190.5,2776.5v9.5M2280.7,2776.5v9.5M2371,2776.5v9.5M1992.5,2724.5h-10.5M1992.5,2629h-10.5M1992.5,2533.8h-10.5M1992.5,2438h-10.5M2496,2776.5v9.5M2591.6,2776.5v9.5M2687.2,2776.5v9.5M2782.7,2776.5v9.5" stroke="#000" stroke-width="2.2" fill="none"/>
<g transform="translate(222.8,58.4)">
<text x="240.9" y="-21.2" font-size="37.10" textLength="26.0" lengthAdjust="spacingAndGlyphs">+</text>
<text x="269.3" y="-21.2" font-size="37.47" textLength="75.7" lengthAdjust="spacingAndGlyphs">0.02</text>
<text x="0.0" y="-2.1" font-size="53.09" textLength="30.4" lengthAdjust="spacingAndGlyphs" font-style="italic">P</text>
<text x="72.0" y="-2.1" font-size="53.00" textLength="37.1" lengthAdjust="spacingAndGlyphs">=</text>
<text x="128.4" y="-2.1" font-size="53.53" textLength="108.8" lengthAdjust="spacingAndGlyphs">0.03</text>
<text x="30.8" y="6.1" font-size="36.90" textLength="21.1" lengthAdjust="spacingAndGlyphs" font-style="italic">b</text>
<text x="240.9" y="11.6" font-size="37.10" textLength="26.0" lengthAdjust="spacingAndGlyphs">−</text>
<text x="269.3" y="11.6" font-size="37.47" textLength="75.9" lengthAdjust="spacingAndGlyphs">0.01</text>
</g>
<g transform="translate(88.3,932.9) rotate(-45)">
<text x="0.8" y="0" font-size="44.61" textLength="90.9" lengthAdjust="spacingAndGlyphs">0.04</text>
</g>
<g transform="translate(88.3,827.3) rotate(-45)">
<text x="0.8" y="0" font-size="44.61" textLength="91.3" lengthAdjust="spacingAndGlyphs">0.06</text>
</g>
<g transform="translate(88.3,721.7) rotate(-45)">
<text x="0.8" y="0" font-size="44.61" textLength="91.1" lengthAdjust="spacingAndGlyphs">0.08</text>
</g>
<g transform="translate(88.3,616.1) rotate(-45)">
<text x="0.8" y="0" font-size="44.61" textLength="91.0" lengthAdjust="spacingAndGlyphs">0.10</text>
</g>
<g transform="translate(43,788) rotate(-90)">
<text x="0.3" y="-1.6" font-size="43.76" textLength="21.4" lengthAdjust="spacingAndGlyphs" font-style="italic">s</text>
<text x="22.5" y="5.2" font-size="30.57" textLength="10.0" lengthAdjust="spacingAndGlyphs" font-style="italic">f</text>
<text x="32.3" y="5.2" font-size="30.63" textLength="17.1" lengthAdjust="spacingAndGlyphs" font-style="italic">o</text>
<text x="50.2" y="5.2" font-size="30.39" textLength="11.9" lengthAdjust="spacingAndGlyphs" font-style="italic">r</text>
<text x="62.1" y="5.2" font-size="30.63" textLength="17.5" lengthAdjust="spacingAndGlyphs" font-style="italic">e</text>
</g>
<g transform="translate(654.5,511.4)">
<text x="284.3" y="-21.2" font-size="37.10" textLength="26.0" lengthAdjust="spacingAndGlyphs">+</text>
<text x="312.6" y="-21.2" font-size="37.47" textLength="75.7" lengthAdjust="spacingAndGlyphs">0.02</text>
<text x="0.4" y="-2.1" font-size="52.51" textLength="25.7" lengthAdjust="spacingAndGlyphs" font-style="italic">s</text>
<text x="115.4" y="-2.1" font-size="53.00" textLength="37.1" lengthAdjust="spacingAndGlyphs">=</text>
<text x="171.8" y="-2.1" font-size="53.53" textLength="109.1" lengthAdjust="spacingAndGlyphs">0.04</text>
<text x="27.0" y="6.1" font-size="36.69" textLength="12.0" lengthAdjust="spacingAndGlyphs" font-style="italic">f</text>
<text x="38.7" y="6.1" font-size="36.76" textLength="20.6" lengthAdjust="spacingAndGlyphs" font-style="italic">o</text>
<text x="60.3" y="6.1" font-size="36.47" textLength="14.2" lengthAdjust="spacingAndGlyphs" font-style="italic">r</text>
<text x="74.5" y="6.1" font-size="36.76" textLength="21.0" lengthAdjust="spacingAndGlyphs" font-style="italic">e</text>
<text x="284.2" y="11.6" font-size="37.10" textLength="26.0" lengthAdjust="spacingAndGlyphs">−</text>
<text x="312.6" y="11.6" font-size="37.47" textLength="75.9" lengthAdjust="spacingAndGlyphs">0.01</text>
</g>
<g transform="translate(69.6,1493.9) rotate(-45)">
<text x="0.8" y="0" font-size="44.61" textLength="116.7" lengthAdjust="spacingAndGlyphs">0.042</text>
</g>
<g transform="translate(69.6,1394.1) rotate(-45)">
<text x="0.8" y="0" font-size="44.61" textLength="117.6" lengthAdjust="spacingAndGlyphs">0.048</text>
</g>
<g transform="translate(69.6,1294.4) rotate(-45)">
<text x="0.8" y="0" font-size="44.61" textLength="117.4" lengthAdjust="spacingAndGlyphs">0.054</text>
</g>
<g transform="translate(69.6,1194.6) rotate(-45)">
<text x="0.8" y="0" font-size="44.61" textLength="117.5" lengthAdjust="spacingAndGlyphs">0.060</text>
</g>
<g transform="translate(69.6,1094.9) rotate(-45)">
<text x="0.8" y="0" font-size="44.61" textLength="117.8" lengthAdjust="spacingAndGlyphs">0.066</text>
</g>
<g transform="translate(43,1246.6) rotate(-90)">
<text x="0.3" y="-1.6" font-size="43.76" textLength="21.4" lengthAdjust="spacingAndGlyphs" font-style="italic">s</text>
<text x="22.3" y="5.2" font-size="30.75" textLength="17.6" lengthAdjust="spacingAndGlyphs" font-style="italic">b</text>
<text x="40.7" y="5.2" font-size="30.63" textLength="16.5" lengthAdjust="spacingAndGlyphs" font-style="italic">a</text>
<text x="58.4" y="5.2" font-size="30.63" textLength="15.6" lengthAdjust="spacingAndGlyphs" font-style="italic">c</text>
<text x="74.6" y="5.2" font-size="30.57" textLength="16.0" lengthAdjust="spacingAndGlyphs" font-style="italic">k</text>
</g>
<g transform="translate(1101.3,964.4)">
<text x="297.8" y="-21.2" font-size="37.10" textLength="26.0" lengthAdjust="spacingAndGlyphs">+</text>
<text x="326.1" y="-21.2" font-size="37.47" textLength="75.9" lengthAdjust="spacingAndGlyphs">0.01</text>
<text x="0.4" y="-2.1" font-size="52.51" textLength="25.7" lengthAdjust="spacingAndGlyphs" font-style="italic">s</text>
<text x="128.9" y="-2.1" font-size="53.00" textLength="37.1" lengthAdjust="spacingAndGlyphs">=</text>
<text x="185.3" y="-2.1" font-size="53.53" textLength="108.3" lengthAdjust="spacingAndGlyphs">0.05</text>
<text x="26.7" y="6.1" font-size="36.90" textLength="21.1" lengthAdjust="spacingAndGlyphs" font-style="italic">b</text>
<text x="48.9" y="6.1" font-size="36.76" textLength="19.8" lengthAdjust="spacingAndGlyphs" font-style="italic">a</text>
<text x="70.1" y="6.1" font-size="36.76" textLength="18.7" lengthAdjust="spacingAndGlyphs" font-style="italic">c</text>
<text x="89.5" y="6.1" font-size="36.69" textLength="19.3" lengthAdjust="spacingAndGlyphs" font-style="italic">k</text>
<text x="297.7" y="11.6" font-size="37.10" textLength="26.0" lengthAdjust="spacingAndGlyphs">−</text>
<text x="326.1" y="11.6" font-size="37.47" textLength="76.4" lengthAdjust="spacingAndGlyphs">0.00</text>
</g>
<g transform="translate(88.3,1843.2) rotate(-45)">
<text x="0.9" y="0" font-size="44.61" textLength="90.2" lengthAdjust="spacingAndGlyphs">0.05</text>
</g>
<g transform="translate(88.3,1739.5) rotate(-45)">
<text x="0.8" y="0" font-size="44.61" textLength="91.0" lengthAdjust="spacingAndGlyphs">0.10</text>
</g>
<g transform="translate(88.3,1635.8) rotate(-45)">
<text x="0.9" y="0" font-size="44.61" textLength="90.2" lengthAdjust="spacingAndGlyphs">0.15</text>
</g>
<g transform="translate(88.3,1532.1) rotate(-45)">
<text x="0.8" y="0" font-size="44.61" textLength="91.0" lengthAdjust="spacingAndGlyphs">0.20</text>
</g>
<g transform="translate(43,1655.3) rotate(-90)">
<text x="-6.9" y="0" font-size="43.83" textLength="14.6" lengthAdjust="spacingAndGlyphs">f</text>
</g>
<g transform="translate(1600.8,1417.4)">
<text x="204.8" y="-21.2" font-size="37.10" textLength="26.0" lengthAdjust="spacingAndGlyphs">+</text>
<text x="233.1" y="-21.2" font-size="37.47" textLength="75.9" lengthAdjust="spacingAndGlyphs">0.01</text>
<text x="0.6" y="-2.1" font-size="52.60" textLength="17.5" lengthAdjust="spacingAndGlyphs">f</text>
<text x="35.9" y="-2.1" font-size="53.00" textLength="37.1" lengthAdjust="spacingAndGlyphs">=</text>
<text x="92.3" y="-2.1" font-size="53.53" textLength="109.4" lengthAdjust="spacingAndGlyphs">0.19</text>
<text x="204.7" y="11.6" font-size="37.10" textLength="26.0" lengthAdjust="spacingAndGlyphs">−</text>
<text x="233.1" y="11.6" font-size="37.47" textLength="75.7" lengthAdjust="spacingAndGlyphs">0.02</text>
</g>
<g transform="translate(107.1,2360.3) rotate(-45)">
<text x="1.1" y="0" font-size="44.24" textLength="64.1" lengthAdjust="spacingAndGlyphs">7.4</text>
</g>
<g transform="translate(107.1,2270.3) rotate(-45)">
<text x="1.1" y="0" font-size="44.61" textLength="64.5" lengthAdjust="spacingAndGlyphs">7.6</text>
</g>
<g transform="translate(107.1,2180.2) rotate(-45)">
<text x="1.1" y="0" font-size="44.61" textLength="64.3" lengthAdjust="spacingAndGlyphs">7.8</text>
</g>
<g transform="translate(107.1,2090.2) rotate(-45)">
<text x="0.8" y="0" font-size="44.61" textLength="64.4" lengthAdjust="spacingAndGlyphs">8.0</text>
</g>
<g transform="translate(107.1,2000.1) rotate(-45)">
<text x="0.9" y="0" font-size="44.61" textLength="63.6" lengthAdjust="spacingAndGlyphs">8.2</text>
</g>
<g transform="translate(42.9,2131) rotate(-90)">
<text x="0.4" y="-2.2" font-size="43.69" textLength="25.0" lengthAdjust="spacingAndGlyphs" font-style="italic">μ</text>
<text x="26.2" y="4.6" font-size="31.23" textLength="20.4" lengthAdjust="spacingAndGlyphs" font-style="italic">C</text>
</g>
<g transform="translate(2034.5,1871.4)">
<text x="243.4" y="-21.2" font-size="37.10" textLength="26.0" lengthAdjust="spacingAndGlyphs">+</text>
<text x="271.7" y="-21.2" font-size="37.47" textLength="76.5" lengthAdjust="spacingAndGlyphs">0.18</text>
<text x="0.5" y="-2.1" font-size="52.43" textLength="30.0" lengthAdjust="spacingAndGlyphs" font-style="italic">μ</text>
<text x="75.9" y="-2.1" font-size="53.00" textLength="37.1" lengthAdjust="spacingAndGlyphs">=</text>
<text x="132.6" y="-2.1" font-size="53.53" textLength="108.1" lengthAdjust="spacingAndGlyphs">7.81</text>
<text x="31.4" y="6.1" font-size="37.47" textLength="24.5" lengthAdjust="spacingAndGlyphs" font-style="italic">C</text>
<text x="243.4" y="11.6" font-size="37.10" textLength="26.0" lengthAdjust="spacingAndGlyphs">−</text>
<text x="271.8" y="11.6" font-size="37.47" textLength="76.2" lengthAdjust="spacingAndGlyphs">0.17</text>
</g>
<g transform="translate(179,2905.5) rotate(-45)">
<text x="0.8" y="0" font-size="44.61" textLength="116.8" lengthAdjust="spacingAndGlyphs">0.015</text>
</g>
<g transform="translate(281.7,2905.5) rotate(-45)">
<text x="0.8" y="0" font-size="44.61" textLength="117.5" lengthAdjust="spacingAndGlyphs">0.030</text>
</g>
<g transform="translate(384.3,2905.5) rotate(-45)">
<text x="0.8" y="0" font-size="44.61" textLength="116.8" lengthAdjust="spacingAndGlyphs">0.045</text>
</g>
<g transform="translate(486.9,2905.5) rotate(-45)">
<text x="0.8" y="0" font-size="44.61" textLength="117.5" lengthAdjust="spacingAndGlyphs">0.060</text>
</g>
<g transform="translate(374.3,2939.5)">
<text x="0.0" y="-0.2" font-size="44.24" textLength="25.4" lengthAdjust="spacingAndGlyphs" font-style="italic">P</text>
<text x="25.7" y="6.7" font-size="30.75" textLength="17.6" lengthAdjust="spacingAndGlyphs" font-style="italic">b</text>
</g>
<g transform="translate(69.6,2818.4) rotate(-45)">
<text x="0.8" y="0" font-size="44.61" textLength="117.5" lengthAdjust="spacingAndGlyphs">0.550</text>
</g>
<g transform="translate(69.6,2721.9) rotate(-45)">
<text x="0.8" y="0" font-size="44.61" textLength="116.8" lengthAdjust="spacingAndGlyphs">0.575</text>
</g>
<g transform="translate(69.6,2626.7) rotate(-45)">
<text x="0.8" y="0" font-size="44.61" textLength="117.5" lengthAdjust="spacingAndGlyphs">0.600</text>
</g>
<g transform="translate(69.6,2530.9) rotate(-45)">
<text x="0.8" y="0" font-size="44.61" textLength="116.8" lengthAdjust="spacingAndGlyphs">0.625</text>
</g>
<g transform="translate(43,2565.3) rotate(-90)">
<text x="-14.9" y="0" font-size="44.24" textLength="29.8" lengthAdjust="spacingAndGlyphs">N</text>
</g>
<g transform="translate(712.1,2886.7) rotate(-45)">
<text x="0.8" y="0" font-size="44.61" textLength="90.9" lengthAdjust="spacingAndGlyphs">0.04</text>
</g>
<g transform="translate(817.5,2886.7) rotate(-45)">
<text x="0.8" y="0" font-size="44.61" textLength="91.3" lengthAdjust="spacingAndGlyphs">0.06</text>
</g>
<g transform="translate(922.9,2886.7) rotate(-45)">
<text x="0.8" y="0" font-size="44.61" textLength="91.1" lengthAdjust="spacingAndGlyphs">0.08</text>
</g>
<g transform="translate(1028.3,2886.7) rotate(-45)">
<text x="0.8" y="0" font-size="44.61" textLength="91.0" lengthAdjust="spacingAndGlyphs">0.10</text>
</g>
<g transform="translate(809.7,2939.5)">
<text x="0.3" y="-1.6" font-size="43.76" textLength="21.4" lengthAdjust="spacingAndGlyphs" font-style="italic">s</text>
<text x="22.5" y="5.2" font-size="30.57" textLength="10.0" lengthAdjust="spacingAndGlyphs" font-style="italic">f</text>
<text x="32.3" y="5.2" font-size="30.63" textLength="17.1" lengthAdjust="spacingAndGlyphs" font-style="italic">o</text>
<text x="50.2" y="5.2" font-size="30.39" textLength="11.9" lengthAdjust="spacingAndGlyphs" font-style="italic">r</text>
<text x="62.1" y="5.2" font-size="30.63" textLength="17.5" lengthAdjust="spacingAndGlyphs" font-style="italic">e</text>
</g>
<g transform="translate(1067,2905.5) rotate(-45)">
<text x="0.8" y="0" font-size="44.61" textLength="116.7" lengthAdjust="spacingAndGlyphs">0.042</text>
</g>
<g transform="translate(1166.7,2905.5) rotate(-45)">
<text x="0.8" y="0" font-size="44.61" textLength="117.6" lengthAdjust="spacingAndGlyphs">0.048</text>
</g>
<g transform="translate(1266.5,2905.5) rotate(-45)">
<text x="0.8" y="0" font-size="44.61" textLength="117.4" lengthAdjust="spacingAndGlyphs">0.054</text>
</g>
<g transform="translate(1366.2,2905.5) rotate(-45)">
<text x="0.8" y="0" font-size="44.61" textLength="117.5" lengthAdjust="spacingAndGlyphs">0.060</text>
</g>
<g transform="translate(1466,2905.5) rotate(-45)">
<text x="0.8" y="0" font-size="44.61" textLength="117.8" lengthAdjust="spacingAndGlyphs">0.066</text>
</g>
<g transform="translate(1257.5,2939.5)">
<text x="0.3" y="-1.6" font-size="43.76" textLength="21.4" lengthAdjust="spacingAndGlyphs" font-style="italic">s</text>
<text x="22.3" y="5.2" font-size="30.75" textLength="17.6" lengthAdjust="spacingAndGlyphs" font-style="italic">b</text>
<text x="40.7" y="5.2" font-size="30.63" textLength="16.5" lengthAdjust="spacingAndGlyphs" font-style="italic">a</text>
<text x="58.4" y="5.2" font-size="30.63" textLength="15.6" lengthAdjust="spacingAndGlyphs" font-style="italic">c</text>
<text x="74.6" y="5.2" font-size="30.57" textLength="16.0" lengthAdjust="spacingAndGlyphs" font-style="italic">k</text>
</g>
<g transform="translate(1614.2,2886.7) rotate(-45)">
<text x="0.9" y="0" font-size="44.61" textLength="90.2" lengthAdjust="spacingAndGlyphs">0.05</text>
</g>
<g transform="translate(1717.9,2886.7) rotate(-45)">
<text x="0.8" y="0" font-size="44.61" textLength="91.0" lengthAdjust="spacingAndGlyphs">0.10</text>
</g>
<g transform="translate(1821.6,2886.7) rotate(-45)">
<text x="0.9" y="0" font-size="44.61" textLength="90.2" lengthAdjust="spacingAndGlyphs">0.15</text>
</g>
<g transform="translate(1925.3,2886.7) rotate(-45)">
<text x="0.8" y="0" font-size="44.61" textLength="91.0" lengthAdjust="spacingAndGlyphs">0.20</text>
</g>
<g transform="translate(1756.8,2939.5)">
<text x="-6.9" y="0" font-size="43.83" textLength="14.6" lengthAdjust="spacingAndGlyphs">f</text>
</g>
<g transform="translate(1994.7,2868) rotate(-45)">
<text x="1.1" y="0" font-size="44.24" textLength="64.1" lengthAdjust="spacingAndGlyphs">7.4</text>
</g>
<g transform="translate(2084.9,2868) rotate(-45)">
<text x="1.1" y="0" font-size="44.61" textLength="64.5" lengthAdjust="spacingAndGlyphs">7.6</text>
</g>
<g transform="translate(2175.2,2868) rotate(-45)">
<text x="1.1" y="0" font-size="44.61" textLength="64.3" lengthAdjust="spacingAndGlyphs">7.8</text>
</g>
<g transform="translate(2265.4,2868) rotate(-45)">
<text x="0.8" y="0" font-size="44.61" textLength="64.4" lengthAdjust="spacingAndGlyphs">8.0</text>
</g>
<g transform="translate(2355.7,2868) rotate(-45)">
<text x="0.9" y="0" font-size="44.61" textLength="63.6" lengthAdjust="spacingAndGlyphs">8.2</text>
</g>
<g transform="translate(2185.6,2939.4)">
<text x="0.4" y="-2.2" font-size="43.69" textLength="25.0" lengthAdjust="spacingAndGlyphs" font-style="italic">μ</text>
<text x="26.2" y="4.6" font-size="31.23" textLength="20.4" lengthAdjust="spacingAndGlyphs" font-style="italic">C</text>
</g>
<g transform="translate(2462,2905.5) rotate(-45)">
<text x="0.8" y="0" font-size="44.61" textLength="117.5" lengthAdjust="spacingAndGlyphs">0.550</text>
</g>
<g transform="translate(2557.6,2905.5) rotate(-45)">
<text x="0.8" y="0" font-size="44.61" textLength="116.8" lengthAdjust="spacingAndGlyphs">0.575</text>
</g>
<g transform="translate(2653.2,2905.5) rotate(-45)">
<text x="0.8" y="0" font-size="44.61" textLength="117.5" lengthAdjust="spacingAndGlyphs">0.600</text>
</g>
<g transform="translate(2748.7,2905.5) rotate(-45)">
<text x="0.8" y="0" font-size="44.61" textLength="116.8" lengthAdjust="spacingAndGlyphs">0.625</text>
</g>
<g transform="translate(2663.3,2939.5)">
<text x="-14.9" y="0" font-size="44.24" textLength="29.8" lengthAdjust="spacingAndGlyphs">N</text>
</g>
<g transform="translate(2498.8,2324.4)">
<text x="221.8" y="-21.2" font-size="37.10" textLength="26.0" lengthAdjust="spacingAndGlyphs">+</text>
<text x="250.2" y="-21.2" font-size="37.47" textLength="75.7" lengthAdjust="spacingAndGlyphs">0.02</text>
<text x="0.8" y="-2.1" font-size="53.09" textLength="35.8" lengthAdjust="spacingAndGlyphs">N</text>
<text x="55.7" y="-2.1" font-size="53.00" textLength="37.1" lengthAdjust="spacingAndGlyphs">=</text>
<text x="112.1" y="-2.1" font-size="53.53" textLength="109.4" lengthAdjust="spacingAndGlyphs">0.59</text>
<text x="221.7" y="11.6" font-size="37.10" textLength="26.0" lengthAdjust="spacingAndGlyphs">−</text>
<text x="250.2" y="11.6" font-size="37.47" textLength="75.7" lengthAdjust="spacingAndGlyphs">0.02</text>
</g>
</svg></body></html>
